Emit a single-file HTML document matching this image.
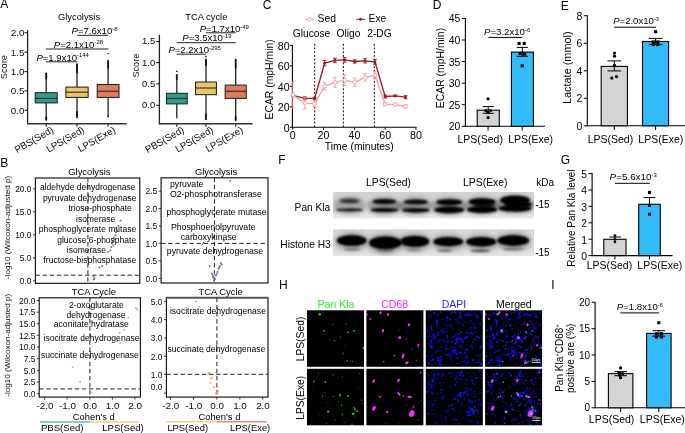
<!DOCTYPE html>
<html><head><meta charset="utf-8"><title>Figure</title>
<style>
html,body{margin:0;padding:0;background:#fff;}
svg{display:block;font-family:'Liberation Sans', sans-serif;}
</style></head>
<body>
<svg width="685" height="433" viewBox="0 0 685 433" font-family="'Liberation Sans', sans-serif">
<defs>
<filter id="b1" x="-20%" y="-50%" width="140%" height="200%"><feGaussianBlur stdDeviation="1.25"/></filter>
<filter id="b2" x="-20%" y="-50%" width="140%" height="200%"><feGaussianBlur stdDeviation="1.5"/></filter>
<filter id="b3" x="-20%" y="-50%" width="140%" height="200%"><feGaussianBlur stdDeviation="2.2"/></filter>
<filter id="d1" x="-50%" y="-50%" width="200%" height="200%"><feGaussianBlur stdDeviation="0.55"/></filter>
<filter id="d3" x="-50%" y="-50%" width="200%" height="200%"><feGaussianBlur stdDeviation="0.65"/></filter>
<filter id="d2" x="-50%" y="-50%" width="200%" height="200%"><feGaussianBlur stdDeviation="0.62"/></filter>
<linearGradient id="bg1" x1="0" y1="0" x2="0" y2="1"><stop offset="0" stop-color="#d2d2d2"/><stop offset="0.75" stop-color="#dcdcdc"/><stop offset="1" stop-color="#ececec"/></linearGradient>
<linearGradient id="bg2" x1="0" y1="0" x2="0" y2="1"><stop offset="0" stop-color="#d6d6d6"/><stop offset="0.8" stop-color="#dedede"/><stop offset="1" stop-color="#e6e6e6"/></linearGradient>
<clipPath id="c1"><rect x="332.8" y="191.9" width="201.4" height="26.9"/></clipPath>
<clipPath id="c2"><rect x="332.8" y="229.2" width="201.4" height="27.0"/></clipPath>
</defs>
<text x="0.20" y="8.40" font-size="12.0" text-anchor="start" fill="#000">A</text>
<text x="0.20" y="167.30" font-size="12.0" text-anchor="start" fill="#000">B</text>
<text x="262.70" y="8.70" font-size="12.0" text-anchor="start" fill="#000">C</text>
<text x="432.65" y="8.70" font-size="12.0" text-anchor="start" fill="#000">D</text>
<text x="560.85" y="9.70" font-size="12.0" text-anchor="start" fill="#000">E</text>
<text x="278.20" y="164.20" font-size="12.0" text-anchor="start" fill="#000">F</text>
<text x="560.65" y="164.20" font-size="12.0" text-anchor="start" fill="#000">G</text>
<text x="278.95" y="288.60" font-size="12.0" text-anchor="start" fill="#000">H</text>
<text x="551.15" y="288.70" font-size="12.0" text-anchor="start" fill="#000">I</text>
<text x="79.00" y="19.80" font-size="9.4" text-anchor="middle" fill="#000">Glycolysis</text>
<line x1="27.60" y1="30.00" x2="27.60" y2="124.20" stroke="#222" stroke-width="1.3"/>
<line x1="27.00" y1="123.70" x2="126.70" y2="123.70" stroke="#333" stroke-width="1.4"/>
<line x1="24.50" y1="32.70" x2="27.60" y2="32.70" stroke="#111" stroke-width="1.05"/>
<text x="24.40" y="36.10" font-size="9.8" text-anchor="end" fill="#0a0a0a">2.0</text>
<line x1="24.50" y1="52.20" x2="27.60" y2="52.20" stroke="#111" stroke-width="1.05"/>
<text x="24.40" y="55.60" font-size="9.8" text-anchor="end" fill="#0a0a0a">1.5</text>
<line x1="24.50" y1="71.60" x2="27.60" y2="71.60" stroke="#111" stroke-width="1.05"/>
<text x="24.40" y="75.00" font-size="9.8" text-anchor="end" fill="#0a0a0a">1.0</text>
<line x1="24.50" y1="90.90" x2="27.60" y2="90.90" stroke="#111" stroke-width="1.05"/>
<text x="24.40" y="94.30" font-size="9.8" text-anchor="end" fill="#0a0a0a">0.5</text>
<line x1="24.50" y1="110.30" x2="27.60" y2="110.30" stroke="#111" stroke-width="1.05"/>
<text x="24.40" y="113.70" font-size="9.8" text-anchor="end" fill="#0a0a0a">0.0</text>
<text x="7.40" y="67.20" font-size="9.2" text-anchor="middle" fill="#111" transform="rotate(-90 7.40 67.20)">Score</text>
<line x1="46.20" y1="123.70" x2="46.20" y2="126.70" stroke="#111" stroke-width="1.05"/>
<line x1="77.00" y1="123.70" x2="77.00" y2="126.70" stroke="#111" stroke-width="1.05"/>
<line x1="108.10" y1="123.70" x2="108.10" y2="126.70" stroke="#111" stroke-width="1.05"/>
<line x1="46.20" y1="78.50" x2="46.20" y2="92.70" stroke="#222" stroke-width="1.3"/>
<line x1="46.20" y1="102.90" x2="46.20" y2="117.30" stroke="#222" stroke-width="1.3"/>
<line x1="46.20" y1="73.40" x2="46.20" y2="78.50" stroke="#111" stroke-width="1.9" stroke-linecap="round"/>
<line x1="46.20" y1="117.30" x2="46.20" y2="119.80" stroke="#111" stroke-width="1.9" stroke-linecap="round"/>
<rect x="35.20" y="92.70" width="22.00" height="10.20" fill="#2a9d8f" stroke="#1a1a1a" stroke-width="1.0"/>
<line x1="35.20" y1="98.40" x2="57.20" y2="98.40" stroke="#1a1a1a" stroke-width="1.0"/>
<line x1="77.00" y1="72.50" x2="77.00" y2="87.10" stroke="#222" stroke-width="1.3"/>
<line x1="77.00" y1="97.40" x2="77.00" y2="112.00" stroke="#222" stroke-width="1.3"/>
<line x1="77.00" y1="64.20" x2="77.00" y2="72.50" stroke="#111" stroke-width="1.9" stroke-linecap="round"/>
<line x1="77.00" y1="112.00" x2="77.00" y2="117.20" stroke="#111" stroke-width="1.9" stroke-linecap="round"/>
<rect x="65.85" y="87.10" width="22.30" height="10.30" fill="#e9c46a" stroke="#1a1a1a" stroke-width="1.0"/>
<line x1="65.85" y1="92.20" x2="88.15" y2="92.20" stroke="#1a1a1a" stroke-width="1.0"/>
<line x1="108.10" y1="67.50" x2="108.10" y2="84.50" stroke="#222" stroke-width="1.3"/>
<line x1="108.10" y1="97.40" x2="108.10" y2="116.80" stroke="#222" stroke-width="1.3"/>
<line x1="108.10" y1="61.00" x2="108.10" y2="67.50" stroke="#111" stroke-width="1.9" stroke-linecap="round"/>
<circle cx="108.10" cy="53.50" r="0.8" fill="#111"/>
<circle cx="108.10" cy="116.60" r="0.8" fill="#111"/>
<rect x="97.20" y="84.50" width="21.80" height="12.90" fill="#e07a5f" stroke="#1a1a1a" stroke-width="1.0"/>
<line x1="97.20" y1="91.20" x2="119.00" y2="91.20" stroke="#1a1a1a" stroke-width="1.0"/>
<text x="71.60" y="33.80" font-size="9.55" fill="#000"><tspan font-style="italic">P</tspan>=7.6x10<tspan font-size="5.9" dy="-3.1">-8</tspan></text>
<line x1="77.30" y1="35.30" x2="108.30" y2="35.30" stroke="#222" stroke-width="1.0"/>
<text x="53.80" y="47.50" font-size="9.55" fill="#000"><tspan font-style="italic">P</tspan>=2.1x10<tspan font-size="5.9" dy="-3.1">-28</tspan></text>
<line x1="46.00" y1="49.00" x2="108.30" y2="49.00" stroke="#222" stroke-width="1.0"/>
<text x="36.40" y="60.50" font-size="9.55" fill="#000"><tspan font-style="italic">P</tspan>=1.9x10<tspan font-size="5.9" dy="-3.1">-144</tspan></text>
<line x1="46.00" y1="61.80" x2="77.30" y2="61.80" stroke="#222" stroke-width="1.0"/>
<text x="54.30" y="131.80" font-size="9.7" text-anchor="end" fill="#0a0a0a" transform="rotate(-30 54.30 131.80)">PBS(Sed)</text>
<text x="85.10" y="131.80" font-size="9.7" text-anchor="end" fill="#0a0a0a" transform="rotate(-30 85.10 131.80)">LPS(Sed)</text>
<text x="116.20" y="131.80" font-size="9.7" text-anchor="end" fill="#0a0a0a" transform="rotate(-30 116.20 131.80)">LPS(Exe)</text>
<text x="206.30" y="19.80" font-size="9.4" text-anchor="middle" fill="#000">TCA cycle</text>
<line x1="159.40" y1="34.80" x2="159.40" y2="124.20" stroke="#222" stroke-width="1.3"/>
<line x1="158.80" y1="123.70" x2="252.60" y2="123.70" stroke="#333" stroke-width="1.4"/>
<line x1="156.30" y1="41.50" x2="159.40" y2="41.50" stroke="#111" stroke-width="1.05"/>
<text x="155.20" y="44.40" font-size="9.5" text-anchor="end" fill="#0a0a0a">1.5</text>
<line x1="156.30" y1="62.60" x2="159.40" y2="62.60" stroke="#111" stroke-width="1.05"/>
<text x="155.20" y="65.50" font-size="9.5" text-anchor="end" fill="#0a0a0a">1.0</text>
<line x1="156.30" y1="83.90" x2="159.40" y2="83.90" stroke="#111" stroke-width="1.05"/>
<text x="155.20" y="86.80" font-size="9.5" text-anchor="end" fill="#0a0a0a">0.5</text>
<line x1="156.30" y1="105.30" x2="159.40" y2="105.30" stroke="#111" stroke-width="1.05"/>
<text x="155.20" y="108.20" font-size="9.5" text-anchor="end" fill="#0a0a0a">0.0</text>
<text x="139.20" y="65.60" font-size="9.2" text-anchor="middle" fill="#111" transform="rotate(-90 139.20 65.60)">Score</text>
<line x1="176.80" y1="123.70" x2="176.80" y2="126.70" stroke="#111" stroke-width="1.05"/>
<line x1="206.00" y1="123.70" x2="206.00" y2="126.70" stroke="#111" stroke-width="1.05"/>
<line x1="235.70" y1="123.70" x2="235.70" y2="126.70" stroke="#111" stroke-width="1.05"/>
<line x1="176.80" y1="79.00" x2="176.80" y2="93.30" stroke="#222" stroke-width="1.3"/>
<line x1="176.80" y1="103.90" x2="176.80" y2="118.20" stroke="#222" stroke-width="1.3"/>
<line x1="176.80" y1="75.00" x2="176.80" y2="79.00" stroke="#111" stroke-width="1.9" stroke-linecap="round"/>
<circle cx="176.80" cy="71.40" r="0.8" fill="#111"/>
<rect x="166.40" y="93.30" width="20.80" height="10.60" fill="#2a9d8f" stroke="#1a1a1a" stroke-width="1.0"/>
<line x1="166.40" y1="98.40" x2="187.20" y2="98.40" stroke="#1a1a1a" stroke-width="1.0"/>
<line x1="206.00" y1="65.00" x2="206.00" y2="82.00" stroke="#222" stroke-width="1.3"/>
<line x1="206.00" y1="94.70" x2="206.00" y2="114.50" stroke="#222" stroke-width="1.3"/>
<line x1="206.00" y1="59.50" x2="206.00" y2="65.00" stroke="#111" stroke-width="1.9" stroke-linecap="round"/>
<line x1="206.00" y1="114.50" x2="206.00" y2="119.30" stroke="#111" stroke-width="1.9" stroke-linecap="round"/>
<circle cx="206.00" cy="56.60" r="0.8" fill="#111"/>
<rect x="195.60" y="82.00" width="20.80" height="12.70" fill="#e9c46a" stroke="#1a1a1a" stroke-width="1.0"/>
<line x1="195.60" y1="88.00" x2="216.40" y2="88.00" stroke="#1a1a1a" stroke-width="1.0"/>
<line x1="235.70" y1="67.50" x2="235.70" y2="85.10" stroke="#222" stroke-width="1.3"/>
<line x1="235.70" y1="98.40" x2="235.70" y2="117.00" stroke="#222" stroke-width="1.3"/>
<line x1="235.70" y1="59.60" x2="235.70" y2="67.50" stroke="#111" stroke-width="1.9" stroke-linecap="round"/>
<line x1="235.70" y1="117.00" x2="235.70" y2="120.30" stroke="#111" stroke-width="1.9" stroke-linecap="round"/>
<rect x="225.15" y="85.10" width="21.10" height="13.30" fill="#e07a5f" stroke="#1a1a1a" stroke-width="1.0"/>
<line x1="225.15" y1="91.20" x2="246.25" y2="91.20" stroke="#1a1a1a" stroke-width="1.0"/>
<text x="199.70" y="31.80" font-size="9.55" fill="#000"><tspan font-style="italic">P</tspan>=1.7x10<tspan font-size="5.9" dy="-3.1">-49</tspan></text>
<line x1="206.00" y1="32.80" x2="235.70" y2="32.80" stroke="#222" stroke-width="1.0"/>
<text x="182.30" y="41.00" font-size="9.55" fill="#000"><tspan font-style="italic">P</tspan>=3.5x10<tspan font-size="5.9" dy="-3.1">-19</tspan></text>
<line x1="176.60" y1="42.70" x2="235.70" y2="42.70" stroke="#222" stroke-width="1.0"/>
<text x="168.40" y="52.60" font-size="9.55" fill="#000"><tspan font-style="italic">P</tspan>=2.2x10<tspan font-size="5.9" dy="-3.1">-295</tspan></text>
<line x1="176.60" y1="54.20" x2="206.00" y2="54.20" stroke="#222" stroke-width="1.0"/>
<text x="184.90" y="131.80" font-size="9.7" text-anchor="end" fill="#0a0a0a" transform="rotate(-30 184.90 131.80)">PBS(Sed)</text>
<text x="214.10" y="131.80" font-size="9.7" text-anchor="end" fill="#0a0a0a" transform="rotate(-30 214.10 131.80)">LPS(Sed)</text>
<text x="243.80" y="131.80" font-size="9.7" text-anchor="end" fill="#0a0a0a" transform="rotate(-30 243.80 131.80)">LPS(Exe)</text>
<text x="89.40" y="175.00" font-size="9.4" text-anchor="middle" fill="#000">Glycolysis</text>
<rect x="35.40" y="178.00" width="104.40" height="105.30" fill="none" stroke="#111" stroke-width="1.15"/>
<line x1="33.00" y1="188.80" x2="35.40" y2="188.80" stroke="#222" stroke-width="0.9"/>
<text x="31.50" y="192.10" font-size="8.4" text-anchor="end" fill="#0a0a0a">20.0</text>
<line x1="33.00" y1="211.80" x2="35.40" y2="211.80" stroke="#222" stroke-width="0.9"/>
<text x="31.50" y="215.10" font-size="8.4" text-anchor="end" fill="#0a0a0a">15.0</text>
<line x1="33.00" y1="234.80" x2="35.40" y2="234.80" stroke="#222" stroke-width="0.9"/>
<text x="31.50" y="238.10" font-size="8.4" text-anchor="end" fill="#0a0a0a">10.0</text>
<line x1="33.00" y1="257.80" x2="35.40" y2="257.80" stroke="#222" stroke-width="0.9"/>
<text x="31.50" y="261.10" font-size="8.4" text-anchor="end" fill="#0a0a0a">5.0</text>
<line x1="33.00" y1="280.70" x2="35.40" y2="280.70" stroke="#222" stroke-width="0.9"/>
<text x="31.50" y="284.00" font-size="8.4" text-anchor="end" fill="#0a0a0a">0.0</text>
<line x1="87.90" y1="178.00" x2="87.90" y2="283.30" stroke="#222" stroke-width="1.0" stroke-dasharray="4.4 2.7"/>
<line x1="35.40" y1="275.20" x2="139.80" y2="275.20" stroke="#222" stroke-width="1.0" stroke-dasharray="4.4 2.7"/>
<circle cx="93.60" cy="276.20" r="1.0" fill="#7d6ba6"/>
<circle cx="94.40" cy="278.20" r="1.0" fill="#7d6ba6"/>
<circle cx="93.90" cy="279.50" r="1.0" fill="#7d6ba6"/>
<circle cx="99.50" cy="267.40" r="1.0" fill="#7d6ba6"/>
<circle cx="102.20" cy="266.00" r="1.0" fill="#7d6ba6"/>
<circle cx="108.30" cy="252.10" r="1.0" fill="#7d6ba6"/>
<circle cx="110.40" cy="250.20" r="1.0" fill="#7d6ba6"/>
<circle cx="112.00" cy="243.50" r="1.0" fill="#7d6ba6"/>
<circle cx="113.40" cy="245.50" r="1.0" fill="#7d6ba6"/>
<circle cx="112.60" cy="241.60" r="1.0" fill="#7d6ba6"/>
<circle cx="114.50" cy="239.40" r="1.0" fill="#7d6ba6"/>
<circle cx="113.80" cy="237.60" r="1.0" fill="#7d6ba6"/>
<circle cx="115.50" cy="235.30" r="1.0" fill="#7d6ba6"/>
<circle cx="116.50" cy="228.20" r="1.0" fill="#7d6ba6"/>
<circle cx="117.20" cy="230.50" r="1.0" fill="#7d6ba6"/>
<circle cx="118.50" cy="226.10" r="1.0" fill="#7d6ba6"/>
<circle cx="120.60" cy="220.60" r="1.0" fill="#7d6ba6"/>
<circle cx="115.90" cy="232.40" r="1.0" fill="#7d6ba6"/>
<circle cx="111.30" cy="247.00" r="1.0" fill="#7d6ba6"/>
<circle cx="128.50" cy="197.50" r="1.0" fill="#7d6ba6"/>
<text x="39.90" y="190.10" font-size="8.5" text-anchor="start" fill="#000">aldehyde dehydrogenase</text>
<text x="42.90" y="200.60" font-size="8.5" text-anchor="start" fill="#000">pyruvate dehydrogenase</text>
<text x="68.50" y="211.30" font-size="8.5" text-anchor="start" fill="#000">triose-phosphate</text>
<text x="76.00" y="221.90" font-size="8.5" text-anchor="start" fill="#000">isomerase</text>
<text x="38.80" y="232.30" font-size="8.5" text-anchor="start" fill="#000">phosphoglycerate mutase</text>
<text x="57.20" y="243.20" font-size="8.5" text-anchor="start" fill="#000">glucose 6-phosphate</text>
<text x="66.80" y="253.40" font-size="8.5" text-anchor="start" fill="#000">isomerase</text>
<text x="43.50" y="263.30" font-size="8.5" text-anchor="start" fill="#000">fructose-bisphosphatase</text>
<text x="216.10" y="174.80" font-size="9.4" text-anchor="middle" fill="#000">Glycolysis</text>
<rect x="161.10" y="177.80" width="106.90" height="105.20" fill="none" stroke="#111" stroke-width="1.15"/>
<line x1="158.70" y1="191.10" x2="161.10" y2="191.10" stroke="#222" stroke-width="0.9"/>
<text x="157.20" y="194.40" font-size="8.4" text-anchor="end" fill="#0a0a0a">2.5</text>
<line x1="158.70" y1="208.60" x2="161.10" y2="208.60" stroke="#222" stroke-width="0.9"/>
<text x="157.20" y="211.90" font-size="8.4" text-anchor="end" fill="#0a0a0a">2.0</text>
<line x1="158.70" y1="226.00" x2="161.10" y2="226.00" stroke="#222" stroke-width="0.9"/>
<text x="157.20" y="229.30" font-size="8.4" text-anchor="end" fill="#0a0a0a">1.5</text>
<line x1="158.70" y1="243.40" x2="161.10" y2="243.40" stroke="#222" stroke-width="0.9"/>
<text x="157.20" y="246.70" font-size="8.4" text-anchor="end" fill="#0a0a0a">1.0</text>
<line x1="158.70" y1="260.90" x2="161.10" y2="260.90" stroke="#222" stroke-width="0.9"/>
<text x="157.20" y="264.20" font-size="8.4" text-anchor="end" fill="#0a0a0a">0.5</text>
<line x1="158.70" y1="278.40" x2="161.10" y2="278.40" stroke="#222" stroke-width="0.9"/>
<text x="157.20" y="281.70" font-size="8.4" text-anchor="end" fill="#0a0a0a">0.0</text>
<line x1="214.40" y1="177.80" x2="214.40" y2="283.00" stroke="#222" stroke-width="1.0" stroke-dasharray="4.4 2.7"/>
<line x1="161.10" y1="243.40" x2="268.00" y2="243.40" stroke="#222" stroke-width="1.0" stroke-dasharray="4.4 2.7"/>
<circle cx="230.10" cy="181.10" r="1.0" fill="#7d6ba6"/>
<circle cx="209.70" cy="266.00" r="1.0" fill="#7d6ba6"/>
<circle cx="211.80" cy="273.50" r="1.0" fill="#7d6ba6"/>
<circle cx="213.40" cy="276.20" r="1.0" fill="#7d6ba6"/>
<circle cx="214.40" cy="278.20" r="1.0" fill="#7d6ba6"/>
<circle cx="213.00" cy="277.50" r="1.0" fill="#7d6ba6"/>
<circle cx="215.00" cy="279.00" r="1.0" fill="#7d6ba6"/>
<circle cx="215.80" cy="275.60" r="1.0" fill="#7d6ba6"/>
<circle cx="216.60" cy="274.00" r="1.0" fill="#7d6ba6"/>
<circle cx="217.50" cy="272.10" r="1.0" fill="#7d6ba6"/>
<circle cx="218.50" cy="269.00" r="1.0" fill="#7d6ba6"/>
<circle cx="219.10" cy="267.50" r="1.0" fill="#7d6ba6"/>
<circle cx="219.90" cy="266.00" r="1.0" fill="#7d6ba6"/>
<circle cx="220.90" cy="263.30" r="1.0" fill="#7d6ba6"/>
<circle cx="222.40" cy="254.70" r="1.0" fill="#7d6ba6"/>
<circle cx="223.60" cy="240.40" r="1.0" fill="#7d6ba6"/>
<circle cx="214.00" cy="280.20" r="1.0" fill="#7d6ba6"/>
<circle cx="212.60" cy="275.00" r="1.0" fill="#7d6ba6"/>
<circle cx="221.60" cy="264.50" r="1.0" fill="#7d6ba6"/>
<text x="169.90" y="186.80" font-size="8.75" text-anchor="start" fill="#000">pyruvate</text>
<text x="169.90" y="197.00" font-size="8.75" text-anchor="start" fill="#000">O2-phosphotransferase</text>
<text x="166.40" y="215.40" font-size="8.75" text-anchor="start" fill="#000">phosphoglycerate mutase</text>
<text x="170.90" y="229.70" font-size="8.75" text-anchor="start" fill="#000">Phosphoenolpyruvate</text>
<text x="180.70" y="240.00" font-size="8.75" text-anchor="start" fill="#000">carboxykinase</text>
<text x="166.80" y="254.30" font-size="8.75" text-anchor="start" fill="#000">pyruvate dehydrogenase</text>
<line x1="201.50" y1="245.30" x2="204.30" y2="241.90" stroke="#222" stroke-width="0.9"/>
<text x="93.80" y="294.80" font-size="9.4" text-anchor="middle" fill="#000">TCA Cycle</text>
<rect x="39.20" y="297.80" width="101.20" height="99.30" fill="none" stroke="#111" stroke-width="1.15"/>
<line x1="36.80" y1="300.50" x2="39.20" y2="300.50" stroke="#222" stroke-width="0.9"/>
<text x="35.30" y="303.80" font-size="8.4" text-anchor="end" fill="#0a0a0a">20.0</text>
<line x1="36.80" y1="312.10" x2="39.20" y2="312.10" stroke="#222" stroke-width="0.9"/>
<text x="35.30" y="315.40" font-size="8.4" text-anchor="end" fill="#0a0a0a">17.5</text>
<line x1="36.80" y1="323.70" x2="39.20" y2="323.70" stroke="#222" stroke-width="0.9"/>
<text x="35.30" y="327.00" font-size="8.4" text-anchor="end" fill="#0a0a0a">15.0</text>
<line x1="36.80" y1="335.40" x2="39.20" y2="335.40" stroke="#222" stroke-width="0.9"/>
<text x="35.30" y="338.70" font-size="8.4" text-anchor="end" fill="#0a0a0a">12.5</text>
<line x1="36.80" y1="347.00" x2="39.20" y2="347.00" stroke="#222" stroke-width="0.9"/>
<text x="35.30" y="350.30" font-size="8.4" text-anchor="end" fill="#0a0a0a">10.0</text>
<line x1="36.80" y1="358.70" x2="39.20" y2="358.70" stroke="#222" stroke-width="0.9"/>
<text x="35.30" y="362.00" font-size="8.4" text-anchor="end" fill="#0a0a0a">7.5</text>
<line x1="36.80" y1="370.40" x2="39.20" y2="370.40" stroke="#222" stroke-width="0.9"/>
<text x="35.30" y="373.70" font-size="8.4" text-anchor="end" fill="#0a0a0a">5.0</text>
<line x1="36.80" y1="382.10" x2="39.20" y2="382.10" stroke="#222" stroke-width="0.9"/>
<text x="35.30" y="385.40" font-size="8.4" text-anchor="end" fill="#0a0a0a">2.5</text>
<line x1="36.80" y1="393.80" x2="39.20" y2="393.80" stroke="#222" stroke-width="0.9"/>
<text x="35.30" y="397.10" font-size="8.4" text-anchor="end" fill="#0a0a0a">0.0</text>
<line x1="89.90" y1="297.80" x2="89.90" y2="397.10" stroke="#222" stroke-width="1.0" stroke-dasharray="4.4 2.7"/>
<line x1="39.20" y1="388.90" x2="140.40" y2="388.90" stroke="#222" stroke-width="1.0" stroke-dasharray="4.4 2.7"/>
<circle cx="135.90" cy="308.00" r="1.0" fill="#e8a787"/>
<circle cx="137.30" cy="309.40" r="1.0" fill="#e8a787"/>
<circle cx="128.30" cy="317.60" r="1.0" fill="#e8a787"/>
<circle cx="124.10" cy="330.10" r="1.0" fill="#e8a787"/>
<circle cx="119.60" cy="332.90" r="1.0" fill="#e8a787"/>
<circle cx="116.90" cy="341.50" r="1.0" fill="#e8a787"/>
<circle cx="120.00" cy="342.70" r="1.0" fill="#e8a787"/>
<circle cx="72.60" cy="367.20" r="1.0" fill="#e8a787"/>
<circle cx="80.10" cy="381.80" r="1.0" fill="#e8a787"/>
<circle cx="83.40" cy="389.60" r="1.0" fill="#e8a787"/>
<circle cx="91.60" cy="392.60" r="1.0" fill="#e8a787"/>
<text x="68.90" y="307.90" font-size="8.6" text-anchor="start" fill="#000">2-oxoglutarate</text>
<text x="66.40" y="318.20" font-size="8.6" text-anchor="start" fill="#000">dehydrogenase</text>
<text x="53.80" y="326.90" font-size="8.6" text-anchor="start" fill="#000">aconitate hydratase</text>
<text x="43.50" y="340.80" font-size="8.6" text-anchor="start" fill="#000">isocitrate dehydrogenase</text>
<text x="40.90" y="357.70" font-size="8.6" text-anchor="start" fill="#000">succinate dehydrogenase</text>
<text x="220.60" y="294.80" font-size="9.4" text-anchor="middle" fill="#000">TCA Cycle</text>
<rect x="166.40" y="297.80" width="101.60" height="99.30" fill="none" stroke="#111" stroke-width="1.15"/>
<line x1="166.40" y1="297.60" x2="268.00" y2="297.60" stroke="#555" stroke-width="1.8"/>
<line x1="164.00" y1="301.30" x2="166.40" y2="301.30" stroke="#222" stroke-width="0.9"/>
<text x="162.50" y="304.60" font-size="8.4" text-anchor="end" fill="#0a0a0a">5.0</text>
<line x1="164.00" y1="319.60" x2="166.40" y2="319.60" stroke="#222" stroke-width="0.9"/>
<text x="162.50" y="322.90" font-size="8.4" text-anchor="end" fill="#0a0a0a">4.0</text>
<line x1="164.00" y1="338.00" x2="166.40" y2="338.00" stroke="#222" stroke-width="0.9"/>
<text x="162.50" y="341.30" font-size="8.4" text-anchor="end" fill="#0a0a0a">3.0</text>
<line x1="164.00" y1="356.20" x2="166.40" y2="356.20" stroke="#222" stroke-width="0.9"/>
<text x="162.50" y="359.50" font-size="8.4" text-anchor="end" fill="#0a0a0a">2.0</text>
<line x1="164.00" y1="374.30" x2="166.40" y2="374.30" stroke="#222" stroke-width="0.9"/>
<text x="162.50" y="377.60" font-size="8.4" text-anchor="end" fill="#0a0a0a">1.0</text>
<line x1="164.00" y1="393.00" x2="166.40" y2="393.00" stroke="#222" stroke-width="0.9"/>
<text x="162.50" y="389.90" font-size="8.4" text-anchor="end" fill="#0a0a0a">0.0</text>
<line x1="216.90" y1="297.80" x2="216.90" y2="397.10" stroke="#222" stroke-width="1.0" stroke-dasharray="4.4 2.7"/>
<line x1="166.40" y1="374.30" x2="268.00" y2="374.30" stroke="#222" stroke-width="1.0" stroke-dasharray="4.4 2.7"/>
<circle cx="196.00" cy="301.60" r="1.0" fill="#e8a787"/>
<circle cx="199.10" cy="306.80" r="1.0" fill="#e8a787"/>
<circle cx="203.00" cy="351.70" r="1.0" fill="#e8a787"/>
<circle cx="208.30" cy="373.60" r="1.0" fill="#e8a787"/>
<circle cx="209.30" cy="373.00" r="1.0" fill="#e8a787"/>
<circle cx="211.10" cy="378.70" r="1.0" fill="#e8a787"/>
<circle cx="210.30" cy="382.80" r="1.0" fill="#e8a787"/>
<circle cx="213.80" cy="387.30" r="1.0" fill="#e8a787"/>
<circle cx="216.90" cy="392.40" r="1.0" fill="#e8a787"/>
<circle cx="218.50" cy="391.60" r="1.0" fill="#e8a787"/>
<circle cx="215.80" cy="393.40" r="1.0" fill="#e8a787"/>
<circle cx="211.80" cy="377.50" r="1.0" fill="#e8a787"/>
<text x="169.90" y="313.50" font-size="8.6" text-anchor="start" fill="#000">isocitrate dehydrogenase</text>
<text x="167.40" y="351.50" font-size="8.6" text-anchor="start" fill="#000">succinate dehydrogenase</text>
<line x1="44.60" y1="397.10" x2="44.60" y2="399.60" stroke="#222" stroke-width="0.9"/>
<text x="44.90" y="408.60" font-size="9.9" text-anchor="middle" fill="#0a0a0a">-2.0</text>
<line x1="67.10" y1="397.10" x2="67.10" y2="399.60" stroke="#222" stroke-width="0.9"/>
<text x="67.40" y="408.60" font-size="9.9" text-anchor="middle" fill="#0a0a0a">-1.0</text>
<line x1="89.90" y1="397.10" x2="89.90" y2="399.60" stroke="#222" stroke-width="0.9"/>
<text x="90.10" y="408.60" font-size="9.9" text-anchor="middle" fill="#0a0a0a">0.0</text>
<line x1="112.40" y1="397.10" x2="112.40" y2="399.60" stroke="#222" stroke-width="0.9"/>
<text x="112.60" y="408.60" font-size="9.9" text-anchor="middle" fill="#0a0a0a">1.0</text>
<line x1="134.90" y1="397.10" x2="134.90" y2="399.60" stroke="#222" stroke-width="0.9"/>
<text x="135.10" y="408.60" font-size="9.9" text-anchor="middle" fill="#0a0a0a">2.0</text>
<line x1="170.50" y1="397.10" x2="170.50" y2="399.60" stroke="#222" stroke-width="0.9"/>
<text x="170.80" y="408.60" font-size="9.9" text-anchor="middle" fill="#0a0a0a">-2.0</text>
<line x1="193.50" y1="397.10" x2="193.50" y2="399.60" stroke="#222" stroke-width="0.9"/>
<text x="193.80" y="408.60" font-size="9.9" text-anchor="middle" fill="#0a0a0a">-1.0</text>
<line x1="216.90" y1="397.10" x2="216.90" y2="399.60" stroke="#222" stroke-width="0.9"/>
<text x="217.10" y="408.60" font-size="9.9" text-anchor="middle" fill="#0a0a0a">0.0</text>
<line x1="239.80" y1="397.10" x2="239.80" y2="399.60" stroke="#222" stroke-width="0.9"/>
<text x="240.00" y="408.60" font-size="9.9" text-anchor="middle" fill="#0a0a0a">1.0</text>
<line x1="262.80" y1="397.10" x2="262.80" y2="399.60" stroke="#222" stroke-width="0.9"/>
<text x="263.00" y="408.60" font-size="9.9" text-anchor="middle" fill="#0a0a0a">2.0</text>
<text x="93.80" y="419.60" font-size="9.4" text-anchor="middle" fill="#000">Cohen's d</text>
<text x="219.40" y="419.60" font-size="9.4" text-anchor="middle" fill="#000">Cohen's d</text>
<line x1="39.90" y1="422.00" x2="89.90" y2="422.00" stroke="#5fbfb0" stroke-width="1.5"/>
<line x1="89.90" y1="422.00" x2="139.00" y2="422.00" stroke="#efd18e" stroke-width="1.5"/>
<line x1="166.40" y1="421.80" x2="216.90" y2="421.80" stroke="#efd18e" stroke-width="1.5"/>
<line x1="216.90" y1="421.80" x2="266.90" y2="421.80" stroke="#e58a73" stroke-width="1.5"/>
<text x="40.90" y="430.90" font-size="9.6" text-anchor="start" fill="#000">PBS(Sed)</text>
<text x="102.20" y="430.90" font-size="9.6" text-anchor="start" fill="#000">LPS(Sed)</text>
<text x="167.40" y="430.90" font-size="9.4" text-anchor="start" fill="#000">LPS(Sed)</text>
<text x="230.10" y="430.90" font-size="9.4" text-anchor="start" fill="#000">LPS(Exe)</text>
<text x="10.40" y="227.40" font-size="8.1" text-anchor="middle" fill="#111" transform="rotate(-90 10.40 227.40)">-log10 (Wilcoxon-adjusted p)</text>
<text x="10.40" y="345.20" font-size="8.1" text-anchor="middle" fill="#111" transform="rotate(-90 10.40 345.20)">-log10 (Wilcoxon-adjusted p)</text>
<line x1="305.30" y1="19.30" x2="314.00" y2="19.30" stroke="#f59ea4" stroke-width="1.0"/>
<circle cx="309.7" cy="19.3" r="1.9" fill="#fff" stroke="#f59ea4" stroke-width="0.9"/>
<text x="317.60" y="22.40" font-size="10.3" text-anchor="start" fill="#000">Sed</text>
<line x1="356.30" y1="19.30" x2="365.10" y2="19.30" stroke="#9c1c1c" stroke-width="1.0"/>
<circle cx="360.60" cy="19.30" r="1.5" fill="#9c1c1c"/>
<text x="368.60" y="22.40" font-size="10.3" text-anchor="start" fill="#000">Exe</text>
<text x="292.70" y="37.40" font-size="10.25" text-anchor="start" fill="#000">Glucose</text>
<text x="336.50" y="37.40" font-size="10.25" text-anchor="start" fill="#000">Oligo</text>
<text x="367.20" y="37.40" font-size="10.25" text-anchor="start" fill="#000">2-DG</text>
<line x1="292.40" y1="45.00" x2="292.40" y2="127.80" stroke="#000" stroke-width="1.1"/>
<line x1="291.90" y1="127.30" x2="416.50" y2="127.30" stroke="#000" stroke-width="1.1"/>
<line x1="289.90" y1="45.40" x2="292.40" y2="45.40" stroke="#000" stroke-width="1.0"/>
<text x="289.60" y="49.60" font-size="10.6" text-anchor="end" fill="#000">80</text>
<line x1="289.90" y1="65.80" x2="292.40" y2="65.80" stroke="#000" stroke-width="1.0"/>
<text x="289.60" y="70.00" font-size="10.6" text-anchor="end" fill="#000">60</text>
<line x1="289.90" y1="86.30" x2="292.40" y2="86.30" stroke="#000" stroke-width="1.0"/>
<text x="289.60" y="90.50" font-size="10.6" text-anchor="end" fill="#000">40</text>
<line x1="289.90" y1="106.90" x2="292.40" y2="106.90" stroke="#000" stroke-width="1.0"/>
<text x="289.60" y="111.10" font-size="10.6" text-anchor="end" fill="#000">20</text>
<line x1="289.90" y1="127.30" x2="292.40" y2="127.30" stroke="#000" stroke-width="1.0"/>
<text x="289.60" y="131.50" font-size="10.6" text-anchor="end" fill="#000">0</text>
<line x1="292.80" y1="127.30" x2="292.80" y2="129.70" stroke="#000" stroke-width="1.0"/>
<text x="292.80" y="139.40" font-size="10.6" text-anchor="middle" fill="#000">0</text>
<line x1="323.50" y1="127.30" x2="323.50" y2="129.70" stroke="#000" stroke-width="1.0"/>
<text x="323.50" y="139.40" font-size="10.6" text-anchor="middle" fill="#000">20</text>
<line x1="354.50" y1="127.30" x2="354.50" y2="129.70" stroke="#000" stroke-width="1.0"/>
<text x="354.50" y="139.40" font-size="10.6" text-anchor="middle" fill="#000">40</text>
<line x1="385.20" y1="127.30" x2="385.20" y2="129.70" stroke="#000" stroke-width="1.0"/>
<text x="385.20" y="139.40" font-size="10.6" text-anchor="middle" fill="#000">60</text>
<line x1="416.00" y1="127.30" x2="416.00" y2="129.70" stroke="#000" stroke-width="1.0"/>
<text x="416.00" y="139.40" font-size="10.6" text-anchor="middle" fill="#000">80</text>
<text x="359.30" y="149.80" font-size="10.4" text-anchor="middle" fill="#000">Time (minutes)</text>
<text x="273.20" y="79.40" font-size="10.4" text-anchor="middle" fill="#000" transform="rotate(-90 273.20 79.40)">ECAR (mpH/min)</text>
<line x1="314.70" y1="43.80" x2="314.70" y2="127.30" stroke="#111" stroke-width="1.0" stroke-dasharray="2 1.7"/>
<line x1="343.40" y1="43.80" x2="343.40" y2="127.30" stroke="#111" stroke-width="1.0" stroke-dasharray="2 1.7"/>
<line x1="374.30" y1="43.80" x2="374.30" y2="127.30" stroke="#111" stroke-width="1.0" stroke-dasharray="2 1.7"/>
<path d="M292.8 95.4 L304.9 98.3 L314.7 98.3 L324.6 63.2 L334.9 60.4 L344.7 59.9 L354.8 61.5 L365.1 60.8 L375.0 61.9 L385.2 96.5 L395.3 95.9 L405.6 97.2" fill="none" stroke="#9c1c1c" stroke-width="1.35" stroke-linejoin="round"/>
<line x1="292.80" y1="94.40" x2="292.80" y2="96.40" stroke="#9c1c1c" stroke-width="0.9"/>
<line x1="290.90" y1="94.40" x2="294.70" y2="94.40" stroke="#9c1c1c" stroke-width="0.9"/>
<line x1="290.90" y1="96.40" x2="294.70" y2="96.40" stroke="#9c1c1c" stroke-width="0.9"/>
<circle cx="292.80" cy="95.40" r="1.4" fill="#9c1c1c"/>
<line x1="304.90" y1="96.80" x2="304.90" y2="99.80" stroke="#9c1c1c" stroke-width="0.9"/>
<line x1="303.00" y1="96.80" x2="306.80" y2="96.80" stroke="#9c1c1c" stroke-width="0.9"/>
<line x1="303.00" y1="99.80" x2="306.80" y2="99.80" stroke="#9c1c1c" stroke-width="0.9"/>
<circle cx="304.90" cy="98.30" r="1.4" fill="#9c1c1c"/>
<line x1="314.70" y1="97.30" x2="314.70" y2="99.30" stroke="#9c1c1c" stroke-width="0.9"/>
<line x1="312.80" y1="97.30" x2="316.60" y2="97.30" stroke="#9c1c1c" stroke-width="0.9"/>
<line x1="312.80" y1="99.30" x2="316.60" y2="99.30" stroke="#9c1c1c" stroke-width="0.9"/>
<circle cx="314.70" cy="98.30" r="1.4" fill="#9c1c1c"/>
<line x1="324.60" y1="60.60" x2="324.60" y2="65.80" stroke="#9c1c1c" stroke-width="0.9"/>
<line x1="322.70" y1="60.60" x2="326.50" y2="60.60" stroke="#9c1c1c" stroke-width="0.9"/>
<line x1="322.70" y1="65.80" x2="326.50" y2="65.80" stroke="#9c1c1c" stroke-width="0.9"/>
<circle cx="324.60" cy="63.20" r="1.4" fill="#9c1c1c"/>
<line x1="334.90" y1="58.20" x2="334.90" y2="62.60" stroke="#9c1c1c" stroke-width="0.9"/>
<line x1="333.00" y1="58.20" x2="336.80" y2="58.20" stroke="#9c1c1c" stroke-width="0.9"/>
<line x1="333.00" y1="62.60" x2="336.80" y2="62.60" stroke="#9c1c1c" stroke-width="0.9"/>
<circle cx="334.90" cy="60.40" r="1.4" fill="#9c1c1c"/>
<line x1="344.70" y1="57.70" x2="344.70" y2="62.10" stroke="#9c1c1c" stroke-width="0.9"/>
<line x1="342.80" y1="57.70" x2="346.60" y2="57.70" stroke="#9c1c1c" stroke-width="0.9"/>
<line x1="342.80" y1="62.10" x2="346.60" y2="62.10" stroke="#9c1c1c" stroke-width="0.9"/>
<circle cx="344.70" cy="59.90" r="1.4" fill="#9c1c1c"/>
<line x1="354.80" y1="59.90" x2="354.80" y2="63.10" stroke="#9c1c1c" stroke-width="0.9"/>
<line x1="352.90" y1="59.90" x2="356.70" y2="59.90" stroke="#9c1c1c" stroke-width="0.9"/>
<line x1="352.90" y1="63.10" x2="356.70" y2="63.10" stroke="#9c1c1c" stroke-width="0.9"/>
<circle cx="354.80" cy="61.50" r="1.4" fill="#9c1c1c"/>
<line x1="365.10" y1="58.60" x2="365.10" y2="63.00" stroke="#9c1c1c" stroke-width="0.9"/>
<line x1="363.20" y1="58.60" x2="367.00" y2="58.60" stroke="#9c1c1c" stroke-width="0.9"/>
<line x1="363.20" y1="63.00" x2="367.00" y2="63.00" stroke="#9c1c1c" stroke-width="0.9"/>
<circle cx="365.10" cy="60.80" r="1.4" fill="#9c1c1c"/>
<line x1="375.00" y1="59.50" x2="375.00" y2="64.30" stroke="#9c1c1c" stroke-width="0.9"/>
<line x1="373.10" y1="59.50" x2="376.90" y2="59.50" stroke="#9c1c1c" stroke-width="0.9"/>
<line x1="373.10" y1="64.30" x2="376.90" y2="64.30" stroke="#9c1c1c" stroke-width="0.9"/>
<circle cx="375.00" cy="61.90" r="1.4" fill="#9c1c1c"/>
<line x1="385.20" y1="95.00" x2="385.20" y2="98.00" stroke="#9c1c1c" stroke-width="0.9"/>
<line x1="383.30" y1="95.00" x2="387.10" y2="95.00" stroke="#9c1c1c" stroke-width="0.9"/>
<line x1="383.30" y1="98.00" x2="387.10" y2="98.00" stroke="#9c1c1c" stroke-width="0.9"/>
<circle cx="385.20" cy="96.50" r="1.4" fill="#9c1c1c"/>
<line x1="395.30" y1="95.10" x2="395.30" y2="96.70" stroke="#9c1c1c" stroke-width="0.9"/>
<line x1="393.40" y1="95.10" x2="397.20" y2="95.10" stroke="#9c1c1c" stroke-width="0.9"/>
<line x1="393.40" y1="96.70" x2="397.20" y2="96.70" stroke="#9c1c1c" stroke-width="0.9"/>
<circle cx="395.30" cy="95.90" r="1.4" fill="#9c1c1c"/>
<line x1="405.60" y1="95.60" x2="405.60" y2="98.80" stroke="#9c1c1c" stroke-width="0.9"/>
<line x1="403.70" y1="95.60" x2="407.50" y2="95.60" stroke="#9c1c1c" stroke-width="0.9"/>
<line x1="403.70" y1="98.80" x2="407.50" y2="98.80" stroke="#9c1c1c" stroke-width="0.9"/>
<circle cx="405.60" cy="97.20" r="1.4" fill="#9c1c1c"/>
<path d="M292.8 95.0 L304.9 103.1 L314.7 103.7 L324.6 86.2 L334.9 82.3 L344.7 80.1 L354.8 82.3 L365.1 77.5 L375.0 75.3 L385.2 104.2 L395.3 104.6 L405.6 106.4" fill="none" stroke="#f59ea4" stroke-width="1.35" stroke-linejoin="round"/>
<line x1="292.80" y1="82.00" x2="292.80" y2="108.00" stroke="#f59ea4" stroke-width="0.9"/>
<line x1="290.90" y1="82.00" x2="294.70" y2="82.00" stroke="#f59ea4" stroke-width="0.9"/>
<line x1="290.90" y1="108.00" x2="294.70" y2="108.00" stroke="#f59ea4" stroke-width="0.9"/>
<circle cx="292.8" cy="95.0" r="1.8" fill="#fff" stroke="#f59ea4" stroke-width="0.9"/>
<line x1="304.90" y1="97.60" x2="304.90" y2="108.60" stroke="#f59ea4" stroke-width="0.9"/>
<line x1="303.00" y1="97.60" x2="306.80" y2="97.60" stroke="#f59ea4" stroke-width="0.9"/>
<line x1="303.00" y1="108.60" x2="306.80" y2="108.60" stroke="#f59ea4" stroke-width="0.9"/>
<circle cx="304.9" cy="103.1" r="1.8" fill="#fff" stroke="#f59ea4" stroke-width="0.9"/>
<line x1="314.70" y1="100.70" x2="314.70" y2="106.70" stroke="#f59ea4" stroke-width="0.9"/>
<line x1="312.80" y1="100.70" x2="316.60" y2="100.70" stroke="#f59ea4" stroke-width="0.9"/>
<line x1="312.80" y1="106.70" x2="316.60" y2="106.70" stroke="#f59ea4" stroke-width="0.9"/>
<circle cx="314.7" cy="103.7" r="1.8" fill="#fff" stroke="#f59ea4" stroke-width="0.9"/>
<line x1="324.60" y1="82.40" x2="324.60" y2="90.00" stroke="#f59ea4" stroke-width="0.9"/>
<line x1="322.70" y1="82.40" x2="326.50" y2="82.40" stroke="#f59ea4" stroke-width="0.9"/>
<line x1="322.70" y1="90.00" x2="326.50" y2="90.00" stroke="#f59ea4" stroke-width="0.9"/>
<circle cx="324.6" cy="86.2" r="1.8" fill="#fff" stroke="#f59ea4" stroke-width="0.9"/>
<line x1="334.90" y1="77.30" x2="334.90" y2="87.30" stroke="#f59ea4" stroke-width="0.9"/>
<line x1="333.00" y1="77.30" x2="336.80" y2="77.30" stroke="#f59ea4" stroke-width="0.9"/>
<line x1="333.00" y1="87.30" x2="336.80" y2="87.30" stroke="#f59ea4" stroke-width="0.9"/>
<circle cx="334.9" cy="82.3" r="1.8" fill="#fff" stroke="#f59ea4" stroke-width="0.9"/>
<line x1="344.70" y1="74.60" x2="344.70" y2="85.60" stroke="#f59ea4" stroke-width="0.9"/>
<line x1="342.80" y1="74.60" x2="346.60" y2="74.60" stroke="#f59ea4" stroke-width="0.9"/>
<line x1="342.80" y1="85.60" x2="346.60" y2="85.60" stroke="#f59ea4" stroke-width="0.9"/>
<circle cx="344.7" cy="80.1" r="1.8" fill="#fff" stroke="#f59ea4" stroke-width="0.9"/>
<line x1="354.80" y1="78.30" x2="354.80" y2="86.30" stroke="#f59ea4" stroke-width="0.9"/>
<line x1="352.90" y1="78.30" x2="356.70" y2="78.30" stroke="#f59ea4" stroke-width="0.9"/>
<line x1="352.90" y1="86.30" x2="356.70" y2="86.30" stroke="#f59ea4" stroke-width="0.9"/>
<circle cx="354.8" cy="82.3" r="1.8" fill="#fff" stroke="#f59ea4" stroke-width="0.9"/>
<line x1="365.10" y1="73.90" x2="365.10" y2="81.10" stroke="#f59ea4" stroke-width="0.9"/>
<line x1="363.20" y1="73.90" x2="367.00" y2="73.90" stroke="#f59ea4" stroke-width="0.9"/>
<line x1="363.20" y1="81.10" x2="367.00" y2="81.10" stroke="#f59ea4" stroke-width="0.9"/>
<circle cx="365.1" cy="77.5" r="1.8" fill="#fff" stroke="#f59ea4" stroke-width="0.9"/>
<line x1="375.00" y1="71.70" x2="375.00" y2="78.90" stroke="#f59ea4" stroke-width="0.9"/>
<line x1="373.10" y1="71.70" x2="376.90" y2="71.70" stroke="#f59ea4" stroke-width="0.9"/>
<line x1="373.10" y1="78.90" x2="376.90" y2="78.90" stroke="#f59ea4" stroke-width="0.9"/>
<circle cx="375.0" cy="75.3" r="1.8" fill="#fff" stroke="#f59ea4" stroke-width="0.9"/>
<line x1="385.20" y1="102.70" x2="385.20" y2="105.70" stroke="#f59ea4" stroke-width="0.9"/>
<line x1="383.30" y1="102.70" x2="387.10" y2="102.70" stroke="#f59ea4" stroke-width="0.9"/>
<line x1="383.30" y1="105.70" x2="387.10" y2="105.70" stroke="#f59ea4" stroke-width="0.9"/>
<circle cx="385.2" cy="104.2" r="1.8" fill="#fff" stroke="#f59ea4" stroke-width="0.9"/>
<line x1="395.30" y1="103.10" x2="395.30" y2="106.10" stroke="#f59ea4" stroke-width="0.9"/>
<line x1="393.40" y1="103.10" x2="397.20" y2="103.10" stroke="#f59ea4" stroke-width="0.9"/>
<line x1="393.40" y1="106.10" x2="397.20" y2="106.10" stroke="#f59ea4" stroke-width="0.9"/>
<circle cx="395.3" cy="104.6" r="1.8" fill="#fff" stroke="#f59ea4" stroke-width="0.9"/>
<line x1="405.60" y1="104.60" x2="405.60" y2="108.20" stroke="#f59ea4" stroke-width="0.9"/>
<line x1="403.70" y1="104.60" x2="407.50" y2="104.60" stroke="#f59ea4" stroke-width="0.9"/>
<line x1="403.70" y1="108.20" x2="407.50" y2="108.20" stroke="#f59ea4" stroke-width="0.9"/>
<circle cx="405.6" cy="106.4" r="1.8" fill="#fff" stroke="#f59ea4" stroke-width="0.9"/>
<line x1="465.40" y1="17.90" x2="465.40" y2="126.80" stroke="#000" stroke-width="1.1"/>
<line x1="464.90" y1="126.30" x2="545.10" y2="126.30" stroke="#000" stroke-width="1.1"/>
<line x1="461.80" y1="18.40" x2="465.40" y2="18.40" stroke="#000" stroke-width="1.0"/>
<text x="460.40" y="22.40" font-size="10.4" text-anchor="end" fill="#000">45</text>
<line x1="461.80" y1="40.00" x2="465.40" y2="40.00" stroke="#000" stroke-width="1.0"/>
<text x="460.40" y="44.00" font-size="10.4" text-anchor="end" fill="#000">40</text>
<line x1="461.80" y1="61.60" x2="465.40" y2="61.60" stroke="#000" stroke-width="1.0"/>
<text x="460.40" y="65.60" font-size="10.4" text-anchor="end" fill="#000">35</text>
<line x1="461.80" y1="83.20" x2="465.40" y2="83.20" stroke="#000" stroke-width="1.0"/>
<text x="460.40" y="87.20" font-size="10.4" text-anchor="end" fill="#000">30</text>
<line x1="461.80" y1="104.70" x2="465.40" y2="104.70" stroke="#000" stroke-width="1.0"/>
<text x="460.40" y="108.70" font-size="10.4" text-anchor="end" fill="#000">25</text>
<line x1="461.80" y1="126.30" x2="465.40" y2="126.30" stroke="#000" stroke-width="1.0"/>
<text x="460.40" y="130.30" font-size="10.4" text-anchor="end" fill="#000">20</text>
<text x="444.20" y="68.00" font-size="10.4" text-anchor="middle" fill="#000" transform="rotate(-90 444.20 68.00)">ECAR (mpH/min)</text>
<rect x="477.20" y="110.20" width="22.10" height="16.10" fill="#d4d4d4" stroke="#000" stroke-width="1.1"/>
<rect x="511.40" y="52.10" width="22.00" height="74.20" fill="#33bbf7" stroke="#000" stroke-width="1.1"/>
<line x1="488.20" y1="106.60" x2="488.20" y2="113.30" stroke="#000" stroke-width="1.0"/>
<line x1="482.60" y1="106.60" x2="493.80" y2="106.60" stroke="#000" stroke-width="1.0"/>
<line x1="482.60" y1="113.30" x2="493.80" y2="113.30" stroke="#000" stroke-width="1.0"/>
<line x1="522.30" y1="47.40" x2="522.30" y2="56.30" stroke="#000" stroke-width="1.0"/>
<line x1="516.70" y1="47.40" x2="527.90" y2="47.40" stroke="#000" stroke-width="1.0"/>
<line x1="516.70" y1="56.30" x2="527.90" y2="56.30" stroke="#000" stroke-width="1.0"/>
<circle cx="488.10" cy="98.80" r="1.6" fill="#000"/>
<circle cx="485.80" cy="110.60" r="1.6" fill="#000"/>
<circle cx="490.50" cy="110.60" r="1.6" fill="#000"/>
<circle cx="488.10" cy="112.30" r="1.6" fill="#000"/>
<circle cx="488.10" cy="117.60" r="1.6" fill="#000"/>
<rect x="517.55" y="41.95" width="3.10" height="3.10" fill="#000" stroke="none" stroke-width="1"/>
<rect x="522.65" y="41.95" width="3.10" height="3.10" fill="#000" stroke="none" stroke-width="1"/>
<rect x="518.55" y="51.95" width="3.10" height="3.10" fill="#000" stroke="none" stroke-width="1"/>
<rect x="523.05" y="52.65" width="3.10" height="3.10" fill="#000" stroke="none" stroke-width="1"/>
<rect x="520.65" y="64.25" width="3.10" height="3.10" fill="#000" stroke="none" stroke-width="1"/>
<text x="484.00" y="34.80" font-size="9.65" fill="#000"><tspan font-style="italic">P</tspan>=3.2x10<tspan font-size="5.8" dy="-3.1">-6</tspan></text>
<line x1="488.50" y1="37.40" x2="522.20" y2="37.40" stroke="#000" stroke-width="1.0"/>
<line x1="488.10" y1="126.30" x2="488.10" y2="130.50" stroke="#000" stroke-width="1.0"/>
<line x1="522.20" y1="126.30" x2="522.20" y2="130.50" stroke="#000" stroke-width="1.0"/>
<text x="480.20" y="142.50" font-size="10.5" text-anchor="middle" fill="#000">LPS(Sed)</text>
<text x="530.60" y="142.50" font-size="10.5" text-anchor="middle" fill="#000">LPS(Exe)</text>
<line x1="587.30" y1="15.20" x2="587.30" y2="126.30" stroke="#000" stroke-width="1.1"/>
<line x1="586.80" y1="125.80" x2="685.00" y2="125.80" stroke="#000" stroke-width="1.1"/>
<line x1="583.70" y1="15.70" x2="587.30" y2="15.70" stroke="#000" stroke-width="1.0"/>
<text x="582.30" y="19.70" font-size="10.4" text-anchor="end" fill="#000">8</text>
<line x1="583.70" y1="43.30" x2="587.30" y2="43.30" stroke="#000" stroke-width="1.0"/>
<text x="582.30" y="47.30" font-size="10.4" text-anchor="end" fill="#000">6</text>
<line x1="583.70" y1="70.80" x2="587.30" y2="70.80" stroke="#000" stroke-width="1.0"/>
<text x="582.30" y="74.80" font-size="10.4" text-anchor="end" fill="#000">4</text>
<line x1="583.70" y1="98.30" x2="587.30" y2="98.30" stroke="#000" stroke-width="1.0"/>
<text x="582.30" y="102.30" font-size="10.4" text-anchor="end" fill="#000">2</text>
<line x1="583.70" y1="125.80" x2="587.30" y2="125.80" stroke="#000" stroke-width="1.0"/>
<text x="582.30" y="129.80" font-size="10.4" text-anchor="end" fill="#000">0</text>
<text x="570.60" y="67.70" font-size="10.9" text-anchor="middle" fill="#000" transform="rotate(-90 570.60 67.70)">Lactate (mmol)</text>
<rect x="601.20" y="66.40" width="26.20" height="59.40" fill="#d4d4d4" stroke="#000" stroke-width="1.1"/>
<rect x="642.50" y="41.50" width="26.10" height="84.30" fill="#33bbf7" stroke="#000" stroke-width="1.1"/>
<line x1="614.30" y1="60.90" x2="614.30" y2="70.90" stroke="#000" stroke-width="1.0"/>
<line x1="607.50" y1="60.90" x2="621.10" y2="60.90" stroke="#000" stroke-width="1.0"/>
<line x1="607.50" y1="70.90" x2="621.10" y2="70.90" stroke="#000" stroke-width="1.0"/>
<line x1="655.60" y1="38.40" x2="655.60" y2="44.60" stroke="#000" stroke-width="1.0"/>
<line x1="648.80" y1="38.40" x2="662.40" y2="38.40" stroke="#000" stroke-width="1.0"/>
<line x1="648.80" y1="44.60" x2="662.40" y2="44.60" stroke="#000" stroke-width="1.0"/>
<circle cx="614.50" cy="53.10" r="1.6" fill="#000"/>
<circle cx="614.50" cy="56.20" r="1.6" fill="#000"/>
<circle cx="614.50" cy="65.40" r="1.6" fill="#000"/>
<circle cx="616.50" cy="76.60" r="1.6" fill="#000"/>
<circle cx="611.80" cy="78.10" r="1.6" fill="#000"/>
<rect x="654.05" y="30.15" width="3.10" height="3.10" fill="#000" stroke="none" stroke-width="1"/>
<rect x="651.75" y="40.35" width="3.10" height="3.10" fill="#000" stroke="none" stroke-width="1"/>
<rect x="656.25" y="40.35" width="3.10" height="3.10" fill="#000" stroke="none" stroke-width="1"/>
<rect x="651.75" y="43.05" width="3.10" height="3.10" fill="#000" stroke="none" stroke-width="1"/>
<rect x="656.25" y="43.05" width="3.10" height="3.10" fill="#000" stroke="none" stroke-width="1"/>
<text x="613.20" y="24.20" font-size="9.55" fill="#000"><tspan font-style="italic">P</tspan>=2.0x10<tspan font-size="5.8" dy="-3.1">-3</tspan></text>
<line x1="614.10" y1="27.20" x2="656.00" y2="27.20" stroke="#000" stroke-width="1.0"/>
<line x1="614.30" y1="125.80" x2="614.30" y2="130.00" stroke="#000" stroke-width="1.0"/>
<line x1="655.60" y1="125.80" x2="655.60" y2="130.00" stroke="#000" stroke-width="1.0"/>
<text x="610.40" y="142.50" font-size="10.5" text-anchor="middle" fill="#000">LPS(Sed)</text>
<text x="660.80" y="142.50" font-size="10.5" text-anchor="middle" fill="#000">LPS(Exe)</text>
<text x="388.50" y="185.60" font-size="10.4" text-anchor="middle" fill="#000">LPS(Sed)</text>
<text x="485.30" y="186.40" font-size="10.4" text-anchor="middle" fill="#000">LPS(Exe)</text>
<text x="536.30" y="186.40" font-size="10.0" text-anchor="start" fill="#000">kDa</text>
<text x="330.30" y="210.50" font-size="10.2" text-anchor="end" fill="#000">Pan Kla</text>
<text x="330.70" y="247.60" font-size="10.2" text-anchor="end" fill="#000">Histone H3</text>
<text x="535.20" y="208.00" font-size="10.0" text-anchor="start" fill="#000">-15</text>
<text x="535.20" y="256.00" font-size="10.0" text-anchor="start" fill="#000">-15</text>
<g clip-path="url(#c1)">
<rect x="332.80" y="191.90" width="201.40" height="26.90" fill="url(#bg1)" stroke="none" stroke-width="1"/>
<ellipse cx="349.5" cy="205.4" rx="16.5" ry="9.0" fill="#555" opacity="0.39" filter="url(#b3)"/>
<ellipse cx="384.4" cy="205.8" rx="17.0" ry="9.0" fill="#555" opacity="0.485" filter="url(#b3)"/>
<ellipse cx="415.8" cy="206.1" rx="16.8" ry="9.0" fill="#555" opacity="0.485" filter="url(#b3)"/>
<ellipse cx="449.2" cy="206.1" rx="18.0" ry="9.0" fill="#555" opacity="0.5" filter="url(#b3)"/>
<ellipse cx="482.1" cy="205.7" rx="18.2" ry="9.0" fill="#555" opacity="0.5" filter="url(#b3)"/>
<ellipse cx="515.0" cy="204.3" rx="19.8" ry="9.0" fill="#555" opacity="0.5" filter="url(#b3)"/>
<ellipse cx="349.5" cy="201.0" rx="10.5" ry="2.2" fill="#000" opacity="0.78" filter="url(#b2)"/>
<ellipse cx="349.5" cy="209.9" rx="13.5" ry="1.7" fill="#000" opacity="0.85" filter="url(#b1)"/>
<ellipse cx="384.4" cy="201.6" rx="12.2" ry="2.6" fill="#000" opacity="0.97" filter="url(#b1)"/>
<ellipse cx="384.4" cy="209.9" rx="14.0" ry="2.1" fill="#000" opacity="0.97" filter="url(#b1)"/>
<ellipse cx="415.8" cy="202.1" rx="12.2" ry="2.5" fill="#000" opacity="0.97" filter="url(#b1)"/>
<ellipse cx="415.8" cy="210.2" rx="13.8" ry="2.3" fill="#000" opacity="0.97" filter="url(#b1)"/>
<ellipse cx="449.2" cy="202.2" rx="13.0" ry="3.0" fill="#000" opacity="1.0" filter="url(#b1)"/>
<ellipse cx="449.2" cy="209.9" rx="15.0" ry="3.3" fill="#000" opacity="1.0" filter="url(#b1)"/>
<ellipse cx="482.1" cy="201.9" rx="13.5" ry="3.6" fill="#000" opacity="1.0" filter="url(#b1)"/>
<ellipse cx="482.1" cy="209.5" rx="15.2" ry="3.6" fill="#000" opacity="1.0" filter="url(#b1)"/>
<ellipse cx="515.0" cy="200.3" rx="14.8" ry="4.9" fill="#000" opacity="1.0" filter="url(#b1)"/>
<ellipse cx="515.0" cy="208.3" rx="16.8" ry="3.4" fill="#000" opacity="1.0" filter="url(#b1)"/>
<ellipse cx="484.0" cy="205.7" rx="11.5" ry="2.3" fill="#000" opacity="0.9" filter="url(#b2)"/>
<ellipse cx="518.0" cy="204.5" rx="14.0" ry="3.5" fill="#000" opacity="1.0" filter="url(#b1)"/>
<ellipse cx="449.2" cy="206.0" rx="10.0" ry="1.7" fill="#000" opacity="0.4" filter="url(#b2)"/>
<ellipse cx="399.0" cy="206.0" rx="25.0" ry="2.5" fill="#444" opacity="0.35" filter="url(#b3)"/>
</g>
<g clip-path="url(#c2)">
<rect x="332.80" y="229.20" width="201.40" height="27.00" fill="url(#bg2)" stroke="none" stroke-width="1"/>
<ellipse cx="351.7" cy="241.6" rx="17.0" ry="9.5" fill="#666" opacity="0.45" filter="url(#b3)"/>
<ellipse cx="385.4" cy="243.8" rx="18.5" ry="10.6" fill="#666" opacity="0.45" filter="url(#b3)"/>
<ellipse cx="414.8" cy="242.4" rx="16.5" ry="9.7" fill="#666" opacity="0.45" filter="url(#b3)"/>
<ellipse cx="448.3" cy="242.7" rx="17.0" ry="8.8" fill="#666" opacity="0.45" filter="url(#b3)"/>
<ellipse cx="481.2" cy="242.8" rx="17.0" ry="8.9" fill="#666" opacity="0.45" filter="url(#b3)"/>
<ellipse cx="513.2" cy="241.5" rx="18.0" ry="9.4" fill="#666" opacity="0.45" filter="url(#b3)"/>
<ellipse cx="351.7" cy="240.6" rx="15.0" ry="5.5" fill="#000" opacity="1.0" filter="url(#b1)"/>
<ellipse cx="385.4" cy="242.8" rx="16.5" ry="6.6" fill="#000" opacity="1.0" filter="url(#b1)"/>
<ellipse cx="414.8" cy="241.4" rx="14.5" ry="5.7" fill="#000" opacity="1.0" filter="url(#b1)"/>
<ellipse cx="448.3" cy="241.7" rx="15.0" ry="4.8" fill="#000" opacity="1.0" filter="url(#b1)"/>
<ellipse cx="481.2" cy="241.8" rx="15.0" ry="4.9" fill="#000" opacity="1.0" filter="url(#b1)"/>
<ellipse cx="513.2" cy="240.5" rx="16.0" ry="5.4" fill="#000" opacity="1.0" filter="url(#b1)"/>
<ellipse cx="352.0" cy="249.0" rx="8.0" ry="1.8" fill="#222" opacity="0.35" filter="url(#b1)"/>
<ellipse cx="385.0" cy="250.2" rx="9.0" ry="1.8" fill="#222" opacity="0.4" filter="url(#b1)"/>
<ellipse cx="414.0" cy="249.5" rx="7.0" ry="1.5" fill="#222" opacity="0.3" filter="url(#b1)"/>
<ellipse cx="444.5" cy="250.5" rx="7.5" ry="1.3" fill="#222" opacity="0.5" filter="url(#b1)"/>
<ellipse cx="480.3" cy="250.8" rx="10.0" ry="1.5" fill="#222" opacity="0.65" filter="url(#b1)"/>
<ellipse cx="513.2" cy="248.8" rx="11.0" ry="1.3" fill="#222" opacity="0.5" filter="url(#b1)"/>
</g>
<line x1="592.10" y1="173.10" x2="592.10" y2="256.10" stroke="#000" stroke-width="1.1"/>
<line x1="591.60" y1="255.60" x2="672.50" y2="255.60" stroke="#000" stroke-width="1.1"/>
<line x1="588.50" y1="173.60" x2="592.10" y2="173.60" stroke="#000" stroke-width="1.0"/>
<text x="586.90" y="177.90" font-size="10.3" text-anchor="end" fill="#000">5</text>
<line x1="588.50" y1="190.00" x2="592.10" y2="190.00" stroke="#000" stroke-width="1.0"/>
<text x="586.90" y="194.30" font-size="10.3" text-anchor="end" fill="#000">4</text>
<line x1="588.50" y1="206.40" x2="592.10" y2="206.40" stroke="#000" stroke-width="1.0"/>
<text x="586.90" y="210.70" font-size="10.3" text-anchor="end" fill="#000">3</text>
<line x1="588.50" y1="222.80" x2="592.10" y2="222.80" stroke="#000" stroke-width="1.0"/>
<text x="586.90" y="227.10" font-size="10.3" text-anchor="end" fill="#000">2</text>
<line x1="588.50" y1="239.20" x2="592.10" y2="239.20" stroke="#000" stroke-width="1.0"/>
<text x="586.90" y="243.50" font-size="10.3" text-anchor="end" fill="#000">1</text>
<line x1="588.50" y1="255.60" x2="592.10" y2="255.60" stroke="#000" stroke-width="1.0"/>
<text x="586.90" y="259.90" font-size="10.3" text-anchor="end" fill="#000">0</text>
<text x="575.40" y="218.00" font-size="10.0" text-anchor="middle" fill="#000" transform="rotate(-90 575.40 218.00)">Relative Pan Kla level</text>
<rect x="603.80" y="239.30" width="22.20" height="16.30" fill="#d4d4d4" stroke="#000" stroke-width="1.1"/>
<rect x="638.70" y="204.30" width="21.60" height="51.30" fill="#33bbf7" stroke="#000" stroke-width="1.1"/>
<line x1="614.90" y1="237.00" x2="614.90" y2="239.30" stroke="#000" stroke-width="1.0"/>
<line x1="609.30" y1="237.00" x2="620.90" y2="237.00" stroke="#000" stroke-width="1.0"/>
<line x1="649.50" y1="197.60" x2="649.50" y2="204.30" stroke="#000" stroke-width="1.0"/>
<line x1="643.70" y1="197.60" x2="655.40" y2="197.60" stroke="#000" stroke-width="1.0"/>
<circle cx="614.90" cy="235.60" r="1.4" fill="#000"/>
<circle cx="614.90" cy="239.30" r="1.4" fill="#000"/>
<circle cx="614.90" cy="241.80" r="1.4" fill="#000"/>
<rect x="647.95" y="190.85" width="3.10" height="3.10" fill="#000" stroke="none" stroke-width="1"/>
<rect x="647.95" y="203.85" width="3.10" height="3.10" fill="#000" stroke="none" stroke-width="1"/>
<rect x="647.95" y="212.75" width="3.10" height="3.10" fill="#000" stroke="none" stroke-width="1"/>
<text x="609.60" y="179.90" font-size="9.85" fill="#000"><tspan font-style="italic">P</tspan>=5.6x10<tspan font-size="5.9" dy="-3.1">-3</tspan></text>
<line x1="614.90" y1="183.30" x2="649.80" y2="183.30" stroke="#000" stroke-width="1.0"/>
<line x1="614.90" y1="255.60" x2="614.90" y2="259.60" stroke="#000" stroke-width="1.0"/>
<line x1="649.50" y1="255.60" x2="649.50" y2="259.60" stroke="#000" stroke-width="1.0"/>
<text x="609.40" y="269.30" font-size="10.5" text-anchor="middle" fill="#000">LPS(Sed)</text>
<text x="659.80" y="269.30" font-size="10.5" text-anchor="middle" fill="#000">LPS(Exe)</text>
<text x="336.00" y="308.30" font-size="10.5" text-anchor="middle" fill="#28f028">Pan Kla</text>
<text x="394.70" y="308.30" font-size="10.5" text-anchor="middle" fill="#ff22ff">CD68</text>
<text x="454.00" y="308.30" font-size="10.5" text-anchor="middle" fill="#1e1eff">DAPI</text>
<text x="513.90" y="308.30" font-size="10.5" text-anchor="middle" fill="#000">Merged</text>
<text x="303.90" y="339.00" font-size="10.3" text-anchor="middle" fill="#000" transform="rotate(-90 303.90 339.00)">LPS(Sed)</text>
<text x="303.90" y="397.80" font-size="10.3" text-anchor="middle" fill="#000" transform="rotate(-90 303.90 397.80)">LPS(Exe)</text>
<rect x="307.00" y="310.30" width="57.00" height="56.50" fill="#000" stroke="none" stroke-width="1"/>
<clipPath id="ci00"><rect x="307.0" y="310.3" width="57.0" height="56.5"/></clipPath>
<rect x="366.40" y="310.30" width="57.00" height="56.50" fill="#000" stroke="none" stroke-width="1"/>
<clipPath id="ci01"><rect x="366.4" y="310.3" width="57.0" height="56.5"/></clipPath>
<rect x="425.80" y="310.30" width="57.00" height="56.50" fill="#000" stroke="none" stroke-width="1"/>
<clipPath id="ci02"><rect x="425.8" y="310.3" width="57.0" height="56.5"/></clipPath>
<rect x="485.10" y="310.30" width="57.00" height="56.50" fill="#000" stroke="none" stroke-width="1"/>
<clipPath id="ci03"><rect x="485.1" y="310.3" width="57.0" height="56.5"/></clipPath>
<rect x="307.00" y="368.80" width="57.00" height="56.50" fill="#000" stroke="none" stroke-width="1"/>
<clipPath id="ci10"><rect x="307.0" y="368.8" width="57.0" height="56.5"/></clipPath>
<rect x="366.40" y="368.80" width="57.00" height="56.50" fill="#000" stroke="none" stroke-width="1"/>
<clipPath id="ci11"><rect x="366.4" y="368.8" width="57.0" height="56.5"/></clipPath>
<rect x="425.80" y="368.80" width="57.00" height="56.50" fill="#000" stroke="none" stroke-width="1"/>
<clipPath id="ci12"><rect x="425.8" y="368.8" width="57.0" height="56.5"/></clipPath>
<rect x="485.10" y="368.80" width="57.00" height="56.50" fill="#000" stroke="none" stroke-width="1"/>
<clipPath id="ci13"><rect x="485.1" y="368.8" width="57.0" height="56.5"/></clipPath>
<g filter="url(#d1)" clip-path="url(#ci00)">
<ellipse cx="319.7" cy="314.2" rx="1.2" ry="1.2" fill="#1fe01f" opacity="1.00"/>
<ellipse cx="323.9" cy="330.8" rx="1.0" ry="1.0" fill="#1fe01f" opacity="0.75"/>
<ellipse cx="324.3" cy="334.3" rx="0.5" ry="0.5" fill="#1fe01f" opacity="0.60"/>
<ellipse cx="332.6" cy="324.6" rx="0.8" ry="0.8" fill="#1fe01f" opacity="0.45"/>
<ellipse cx="346.2" cy="323.7" rx="0.7" ry="0.7" fill="#1fe01f" opacity="0.50"/>
<ellipse cx="347.9" cy="332.2" rx="0.9" ry="0.9" fill="#1fe01f" opacity="0.90"/>
<ellipse cx="354.1" cy="330.8" rx="1.1" ry="1.1" fill="#1fe01f" opacity="0.70"/>
<ellipse cx="358.3" cy="333.6" rx="0.8" ry="0.8" fill="#1fe01f" opacity="0.35"/>
<ellipse cx="340.4" cy="337.3" rx="0.6" ry="0.6" fill="#1fe01f" opacity="0.90"/>
<ellipse cx="334.4" cy="340.5" rx="0.7" ry="0.7" fill="#1fe01f" opacity="0.70"/>
<ellipse cx="363.5" cy="348.0" rx="1.0" ry="1.0" fill="#1fe01f" opacity="1.00"/>
<ellipse cx="343.4" cy="353.5" rx="0.7" ry="0.7" fill="#1fe01f" opacity="0.60"/>
<ellipse cx="347.2" cy="360.9" rx="1.1" ry="1.1" fill="#1fe01f" opacity="0.45"/>
<ellipse cx="350.4" cy="361.3" rx="0.8" ry="0.8" fill="#1fe01f" opacity="0.50"/>
<ellipse cx="352.4" cy="361.3" rx="0.6" ry="0.6" fill="#1fe01f" opacity="1.00"/>
<ellipse cx="356.2" cy="322.8" rx="0.6" ry="0.6" fill="#1fe01f" opacity="0.30"/>
<ellipse cx="355.5" cy="320.4" rx="0.5" ry="0.5" fill="#1fe01f" opacity="0.30"/>
<ellipse cx="340.3" cy="329.7" rx="0.7" ry="0.7" fill="#1fe01f" opacity="0.20"/>
<ellipse cx="344.8" cy="345.2" rx="0.6" ry="0.6" fill="#1fe01f" opacity="0.25"/>
<ellipse cx="326.4" cy="326.9" rx="0.5" ry="0.5" fill="#1fe01f" opacity="0.20"/>
<ellipse cx="359.7" cy="346.3" rx="0.5" ry="0.5" fill="#1fe01f" opacity="0.25"/>
<ellipse cx="349.7" cy="363.6" rx="0.5" ry="0.5" fill="#1fe01f" opacity="0.40"/>
<ellipse cx="322.0" cy="312.7" rx="0.5" ry="0.5" fill="#1fe01f" opacity="0.40"/>
<ellipse cx="361.4" cy="362.2" rx="0.5" ry="0.5" fill="#1fe01f" opacity="0.16"/>
<ellipse cx="335.5" cy="329.9" rx="0.5" ry="0.5" fill="#1fe01f" opacity="0.11"/>
<ellipse cx="323.4" cy="353.0" rx="0.5" ry="0.5" fill="#1fe01f" opacity="0.19"/>
<ellipse cx="328.2" cy="353.2" rx="0.5" ry="0.5" fill="#1fe01f" opacity="0.18"/>
<ellipse cx="345.8" cy="346.8" rx="0.5" ry="0.5" fill="#1fe01f" opacity="0.18"/>
<ellipse cx="328.3" cy="348.9" rx="0.5" ry="0.5" fill="#1fe01f" opacity="0.13"/>
<ellipse cx="334.7" cy="352.3" rx="0.5" ry="0.5" fill="#1fe01f" opacity="0.17"/>
<ellipse cx="324.6" cy="361.5" rx="0.5" ry="0.5" fill="#1fe01f" opacity="0.16"/>
<ellipse cx="339.8" cy="312.9" rx="0.5" ry="0.5" fill="#1fe01f" opacity="0.15"/>
<ellipse cx="322.3" cy="347.2" rx="0.5" ry="0.5" fill="#1fe01f" opacity="0.15"/>
</g>
<g filter="url(#d3)" clip-path="url(#ci01)">
<ellipse cx="367.1" cy="314.5" rx="0.9" ry="0.9" fill="#ff2cff" opacity="0.9" transform="rotate(0 367.1 314.5)"/>
<ellipse cx="370.3" cy="319.0" rx="1.0" ry="1.0" fill="#ff2cff" opacity="0.9" transform="rotate(0 370.3 319.0)"/>
<ellipse cx="380.5" cy="312.8" rx="1.0" ry="1.6" fill="#ff2cff" opacity="1" transform="rotate(35 380.5 312.8)"/>
<ellipse cx="387.9" cy="314.5" rx="1.2" ry="1.2" fill="#ff2cff" opacity="1" transform="rotate(0 387.9 314.5)"/>
<ellipse cx="383.0" cy="330.8" rx="1.1" ry="1.8" fill="#ff2cff" opacity="1" transform="rotate(25 383.0 330.8)"/>
<ellipse cx="408.9" cy="324.8" rx="1.2" ry="1.5" fill="#ff2cff" opacity="1" transform="rotate(0 408.9 324.8)"/>
<ellipse cx="399.7" cy="337.7" rx="1.6" ry="1.4" fill="#ff2cff" opacity="1" transform="rotate(0 399.7 337.7)"/>
<ellipse cx="406.3" cy="338.7" rx="0.8" ry="0.8" fill="#ff2cff" opacity="0.6" transform="rotate(0 406.3 338.7)"/>
<ellipse cx="399.4" cy="330.1" rx="0.6" ry="0.6" fill="#ff2cff" opacity="0.5" transform="rotate(0 399.4 330.1)"/>
<ellipse cx="407.3" cy="331.8" rx="0.6" ry="0.6" fill="#ff2cff" opacity="0.45" transform="rotate(0 407.3 331.8)"/>
<ellipse cx="418.4" cy="345.2" rx="1.0" ry="1.6" fill="#ff2cff" opacity="0.9" transform="rotate(30 418.4 345.2)"/>
<ellipse cx="419.7" cy="342.6" rx="0.6" ry="0.6" fill="#ff2cff" opacity="0.5" transform="rotate(0 419.7 342.6)"/>
<ellipse cx="412.5" cy="349.4" rx="0.6" ry="0.6" fill="#ff2cff" opacity="0.7" transform="rotate(0 412.5 349.4)"/>
<ellipse cx="394.4" cy="355.6" rx="0.9" ry="0.9" fill="#ff2cff" opacity="0.9" transform="rotate(0 394.4 355.6)"/>
<ellipse cx="403.1" cy="356.0" rx="1.2" ry="2.6" fill="#ff2cff" opacity="1" transform="rotate(15 403.1 356.0)"/>
<ellipse cx="407.0" cy="362.7" rx="1.9" ry="1.3" fill="#ff2cff" opacity="1" transform="rotate(-30 407.0 362.7)"/>
<ellipse cx="383.7" cy="361.6" rx="0.8" ry="0.9" fill="#ff2cff" opacity="0.85" transform="rotate(0 383.7 361.6)"/>
<ellipse cx="416.6" cy="360.2" rx="0.6" ry="0.6" fill="#ff2cff" opacity="0.7" transform="rotate(0 416.6 360.2)"/>
<ellipse cx="384.4" cy="346.3" rx="0.5" ry="0.5" fill="#ff2cff" opacity="0.4" transform="rotate(0 384.4 346.3)"/>
<ellipse cx="368.4" cy="334.3" rx="0.4" ry="0.4" fill="#ff2cff" opacity="0.3" transform="rotate(0 368.4 334.3)"/>
</g>
<g filter="url(#d2)" clip-path="url(#ci02)">
<circle cx="451.68" cy="341.81" r="1.1696842336094917" fill="#1212ff" opacity="0.73"/>
<circle cx="454.73" cy="343.31" r="0.8738641375419507" fill="#1212ff" opacity="0.76"/>
<circle cx="461.44" cy="354.52" r="0.8376493824916874" fill="#1212ff" opacity="0.65"/>
<circle cx="431.79" cy="355.43" r="1.0773753930164955" fill="#1212ff" opacity="0.52"/>
<circle cx="480.82" cy="363.88" r="1.061569013413536" fill="#1212ff" opacity="0.81"/>
<circle cx="435.46" cy="312.12" r="1.0113525064681914" fill="#1212ff" opacity="0.53"/>
<circle cx="437.26" cy="324.49" r="0.8120330356899155" fill="#1212ff" opacity="0.73"/>
<circle cx="451.03" cy="357.21" r="1.0076496459056308" fill="#1212ff" opacity="0.82"/>
<circle cx="454.29" cy="347.40" r="0.982931952639823" fill="#1212ff" opacity="0.64"/>
<circle cx="481.67" cy="365.57" r="1.1360862197971446" fill="#1212ff" opacity="0.85"/>
<circle cx="444.14" cy="323.82" r="0.9156159789256809" fill="#1212ff" opacity="0.54"/>
<circle cx="468.95" cy="333.12" r="1.1386334487524714" fill="#1212ff" opacity="0.69"/>
<circle cx="479.49" cy="357.48" r="0.8002179748222282" fill="#1212ff" opacity="0.60"/>
<circle cx="476.86" cy="336.91" r="1.1921435764697168" fill="#1212ff" opacity="0.70"/>
<circle cx="430.82" cy="345.61" r="1.1114043434706602" fill="#1212ff" opacity="0.63"/>
<circle cx="431.59" cy="329.43" r="1.1856304866375056" fill="#1212ff" opacity="0.88"/>
<circle cx="433.29" cy="324.73" r="0.8404185235826821" fill="#1212ff" opacity="0.53"/>
<circle cx="470.64" cy="320.98" r="1.023718056644158" fill="#1212ff" opacity="0.72"/>
<circle cx="437.29" cy="351.19" r="0.8523868334866479" fill="#1212ff" opacity="0.82"/>
<circle cx="433.21" cy="334.23" r="0.8851462692036358" fill="#1212ff" opacity="0.63"/>
<circle cx="480.20" cy="355.09" r="0.9216580599483958" fill="#1212ff" opacity="0.94"/>
<circle cx="438.39" cy="332.79" r="1.1417507606804922" fill="#1212ff" opacity="0.82"/>
<circle cx="432.32" cy="365.22" r="0.8852973474310091" fill="#1212ff" opacity="0.63"/>
<circle cx="469.30" cy="329.23" r="0.9185299050395785" fill="#1212ff" opacity="0.54"/>
<circle cx="431.76" cy="343.06" r="0.8972051680550249" fill="#1212ff" opacity="0.80"/>
<circle cx="447.24" cy="336.00" r="1.1836538689949252" fill="#1212ff" opacity="0.74"/>
<circle cx="458.40" cy="358.53" r="0.8731310863114741" fill="#1212ff" opacity="0.58"/>
<circle cx="476.76" cy="355.87" r="0.8997994265716999" fill="#1212ff" opacity="0.59"/>
<circle cx="467.47" cy="362.55" r="0.8786359181611956" fill="#1212ff" opacity="0.98"/>
<circle cx="475.32" cy="344.19" r="0.9685828895789431" fill="#1212ff" opacity="0.55"/>
<circle cx="428.93" cy="363.77" r="0.8953628770703931" fill="#1212ff" opacity="0.85"/>
<circle cx="440.93" cy="356.19" r="1.0385865226119742" fill="#1212ff" opacity="0.65"/>
<circle cx="436.45" cy="350.56" r="0.8275104496669775" fill="#1212ff" opacity="0.61"/>
<circle cx="457.57" cy="357.76" r="1.0457212062899472" fill="#1212ff" opacity="0.64"/>
<circle cx="477.25" cy="322.42" r="0.8066299172316621" fill="#1212ff" opacity="0.63"/>
<circle cx="451.31" cy="314.59" r="0.8705015101491269" fill="#1212ff" opacity="0.68"/>
<circle cx="458.27" cy="318.47" r="0.9448580626797923" fill="#1212ff" opacity="0.95"/>
<circle cx="480.73" cy="347.10" r="1.0764886364994615" fill="#1212ff" opacity="0.79"/>
<circle cx="434.52" cy="313.21" r="0.8071576788270262" fill="#1212ff" opacity="0.96"/>
<circle cx="465.35" cy="363.77" r="0.8085036712836406" fill="#1212ff" opacity="0.82"/>
<circle cx="453.32" cy="351.11" r="0.9275617961186343" fill="#1212ff" opacity="1.00"/>
<circle cx="430.94" cy="341.06" r="1.0948021979465035" fill="#1212ff" opacity="0.95"/>
<circle cx="467.34" cy="349.65" r="1.1173066704373935" fill="#1212ff" opacity="0.96"/>
<circle cx="446.15" cy="348.64" r="1.1603343757321516" fill="#1212ff" opacity="0.94"/>
<circle cx="449.74" cy="354.38" r="1.145389069616573" fill="#1212ff" opacity="0.79"/>
<circle cx="461.17" cy="332.14" r="1.0330715567244504" fill="#1212ff" opacity="0.80"/>
<circle cx="431.21" cy="346.15" r="1.1973288752353288" fill="#1212ff" opacity="0.94"/>
<circle cx="466.85" cy="332.47" r="1.0940152606193914" fill="#1212ff" opacity="0.79"/>
<circle cx="451.03" cy="356.99" r="0.8335128889045034" fill="#1212ff" opacity="0.88"/>
<circle cx="428.44" cy="344.07" r="0.9923827261396965" fill="#1212ff" opacity="0.62"/>
<circle cx="465.21" cy="338.40" r="1.0458013047579873" fill="#1212ff" opacity="0.96"/>
<circle cx="440.87" cy="311.92" r="0.9204130564427982" fill="#1212ff" opacity="0.84"/>
<circle cx="437.94" cy="320.54" r="1.1622886399701962" fill="#1212ff" opacity="0.83"/>
<circle cx="451.11" cy="359.90" r="0.9307842475317631" fill="#1212ff" opacity="0.83"/>
<circle cx="437.72" cy="334.78" r="1.1223953597385576" fill="#1212ff" opacity="0.96"/>
<circle cx="475.21" cy="332.25" r="1.0332428751015765" fill="#1212ff" opacity="0.66"/>
<circle cx="434.29" cy="338.36" r="1.1348382469882157" fill="#1212ff" opacity="0.92"/>
<circle cx="465.92" cy="363.08" r="0.9107183987553645" fill="#1212ff" opacity="0.58"/>
<circle cx="451.59" cy="326.30" r="0.8856321508613114" fill="#1212ff" opacity="0.71"/>
<circle cx="461.22" cy="338.22" r="0.9261486581452982" fill="#1212ff" opacity="0.92"/>
<circle cx="480.81" cy="335.96" r="0.8298716867826205" fill="#1212ff" opacity="0.52"/>
<circle cx="474.81" cy="313.56" r="1.0834523716004798" fill="#1212ff" opacity="0.79"/>
<circle cx="443.80" cy="354.44" r="0.8076456059246825" fill="#1212ff" opacity="0.57"/>
<circle cx="451.82" cy="312.65" r="1.1318673737836256" fill="#1212ff" opacity="0.62"/>
<circle cx="434.55" cy="313.86" r="1.0516721222260739" fill="#1212ff" opacity="0.72"/>
<circle cx="461.45" cy="347.00" r="1.1229539643784854" fill="#1212ff" opacity="0.98"/>
<circle cx="464.45" cy="322.16" r="0.9900569208146399" fill="#1212ff" opacity="0.59"/>
<circle cx="427.39" cy="337.03" r="1.0856683821564168" fill="#1212ff" opacity="0.59"/>
<circle cx="441.78" cy="330.14" r="1.078924628933724" fill="#1212ff" opacity="0.76"/>
<circle cx="460.59" cy="352.51" r="0.9574064846299941" fill="#1212ff" opacity="0.90"/>
<circle cx="476.64" cy="316.05" r="1.173041531123665" fill="#1212ff" opacity="0.86"/>
<circle cx="433.95" cy="336.02" r="1.0502192702511723" fill="#1212ff" opacity="0.95"/>
<circle cx="447.52" cy="342.30" r="1.1517283305604766" fill="#1212ff" opacity="0.90"/>
<circle cx="478.73" cy="336.57" r="1.0605290263364728" fill="#1212ff" opacity="0.60"/>
<circle cx="466.51" cy="355.90" r="1.0566465226537896" fill="#1212ff" opacity="0.86"/>
<circle cx="438.53" cy="360.35" r="1.1921972605223725" fill="#1212ff" opacity="0.99"/>
<circle cx="456.33" cy="354.40" r="0.9281578906234597" fill="#1212ff" opacity="0.95"/>
<circle cx="473.87" cy="330.29" r="0.8331090332184281" fill="#1212ff" opacity="0.72"/>
<circle cx="457.07" cy="353.17" r="0.9949789968721809" fill="#1212ff" opacity="0.51"/>
<circle cx="471.30" cy="314.79" r="1.1199439467045793" fill="#1212ff" opacity="0.59"/>
<circle cx="445.23" cy="354.24" r="0.8562000795321524" fill="#1212ff" opacity="0.57"/>
<circle cx="455.21" cy="350.73" r="1.1359905769761989" fill="#1212ff" opacity="0.84"/>
<circle cx="478.82" cy="338.15" r="1.179661749866793" fill="#1212ff" opacity="0.54"/>
<circle cx="438.98" cy="340.00" r="0.9160678709481945" fill="#1212ff" opacity="0.86"/>
<circle cx="461.94" cy="339.79" r="1.137449359617269" fill="#1212ff" opacity="0.78"/>
<circle cx="443.94" cy="332.08" r="1.1381042267980273" fill="#1212ff" opacity="0.95"/>
<circle cx="438.25" cy="357.67" r="1.1873761461517574" fill="#1212ff" opacity="0.76"/>
<circle cx="458.31" cy="322.25" r="1.0143614712783116" fill="#1212ff" opacity="0.75"/>
<circle cx="460.09" cy="312.81" r="1.1877619446633843" fill="#1212ff" opacity="0.76"/>
<circle cx="448.83" cy="354.96" r="1.025146675473246" fill="#1212ff" opacity="0.75"/>
<circle cx="464.80" cy="314.89" r="1.0154861761895861" fill="#1212ff" opacity="0.71"/>
<circle cx="479.43" cy="361.63" r="0.9076855160185023" fill="#1212ff" opacity="0.74"/>
<circle cx="433.78" cy="334.94" r="1.1262868223657891" fill="#1212ff" opacity="0.95"/>
<circle cx="453.01" cy="328.59" r="0.8765806866274454" fill="#1212ff" opacity="0.81"/>
<circle cx="477.69" cy="318.36" r="1.1117155372419365" fill="#1212ff" opacity="0.51"/>
<circle cx="437.48" cy="323.69" r="1.0748136141421825" fill="#1212ff" opacity="0.66"/>
<circle cx="446.34" cy="345.08" r="0.8419542029490364" fill="#1212ff" opacity="0.87"/>
<circle cx="433.55" cy="339.12" r="0.9002214572360999" fill="#1212ff" opacity="0.60"/>
<circle cx="455.97" cy="335.10" r="0.9502944786340195" fill="#1212ff" opacity="0.71"/>
<circle cx="455.91" cy="320.01" r="0.8817064966673823" fill="#1212ff" opacity="0.82"/>
<circle cx="461.92" cy="340.16" r="1.140503268071834" fill="#1212ff" opacity="0.81"/>
<circle cx="473.92" cy="323.98" r="1.0963086295958875" fill="#1212ff" opacity="0.91"/>
<circle cx="476.45" cy="328.52" r="0.9259953733999807" fill="#1212ff" opacity="0.96"/>
<circle cx="438.80" cy="365.71" r="1.1550166758801392" fill="#1212ff" opacity="0.57"/>
<circle cx="439.96" cy="350.90" r="0.9037990045186846" fill="#1212ff" opacity="0.55"/>
<circle cx="472.57" cy="334.28" r="1.1159743300224512" fill="#1212ff" opacity="0.56"/>
<circle cx="448.95" cy="348.64" r="0.8071034702541138" fill="#1212ff" opacity="0.60"/>
<circle cx="464.33" cy="360.97" r="1.1873513053695062" fill="#1212ff" opacity="0.56"/>
<circle cx="454.61" cy="352.62" r="1.0011141776996453" fill="#1212ff" opacity="0.84"/>
<circle cx="437.20" cy="315.15" r="0.8424693287143252" fill="#1212ff" opacity="0.52"/>
<circle cx="457.14" cy="339.36" r="1.0274968698062805" fill="#1212ff" opacity="0.57"/>
<circle cx="436.95" cy="322.41" r="1.1360857163608886" fill="#1212ff" opacity="1.00"/>
<circle cx="477.78" cy="316.49" r="0.8247780327035494" fill="#1212ff" opacity="0.98"/>
<circle cx="452.21" cy="352.98" r="0.9307309072938096" fill="#1212ff" opacity="0.73"/>
<circle cx="455.14" cy="334.74" r="1.0403719197903691" fill="#1212ff" opacity="0.51"/>
<circle cx="465.36" cy="357.31" r="0.8725076747177716" fill="#1212ff" opacity="0.73"/>
<circle cx="467.46" cy="333.39" r="0.8780503618862399" fill="#1212ff" opacity="0.58"/>
<circle cx="454.99" cy="312.14" r="1.157273999109343" fill="#1212ff" opacity="0.90"/>
<circle cx="465.56" cy="358.21" r="1.051754531084259" fill="#1212ff" opacity="0.70"/>
<circle cx="459.78" cy="338.78" r="1.1930720995097595" fill="#1212ff" opacity="0.90"/>
<circle cx="441.00" cy="360.97" r="1.0977739624469796" fill="#1212ff" opacity="0.89"/>
<circle cx="471.61" cy="333.41" r="1.1586180279550276" fill="#1212ff" opacity="0.94"/>
<circle cx="465.01" cy="353.12" r="1.1060916548417494" fill="#1212ff" opacity="0.70"/>
<circle cx="466.54" cy="315.15" r="0.9366874644210619" fill="#1212ff" opacity="0.73"/>
<circle cx="427.38" cy="330.68" r="1.0554848310431975" fill="#1212ff" opacity="0.81"/>
<circle cx="439.57" cy="362.78" r="1.0664374271001409" fill="#1212ff" opacity="0.67"/>
<circle cx="463.09" cy="342.34" r="1.0132318707610188" fill="#1212ff" opacity="0.69"/>
<circle cx="481.79" cy="346.30" r="1.0805002782333208" fill="#1212ff" opacity="0.88"/>
<circle cx="480.70" cy="312.54" r="1.0461585673929972" fill="#1212ff" opacity="0.87"/>
<circle cx="440.91" cy="333.18" r="0.8201827727595128" fill="#1212ff" opacity="0.60"/>
<circle cx="447.46" cy="316.67" r="0.9003549822440496" fill="#1212ff" opacity="0.95"/>
<circle cx="457.05" cy="338.98" r="1.1868545130511365" fill="#1212ff" opacity="0.78"/>
<circle cx="481.53" cy="346.07" r="1.1238112886090716" fill="#1212ff" opacity="0.54"/>
<circle cx="459.66" cy="352.68" r="0.8180454474282951" fill="#1212ff" opacity="0.97"/>
<circle cx="435.60" cy="337.01" r="0.8676490600576174" fill="#1212ff" opacity="0.75"/>
<circle cx="460.41" cy="314.49" r="1.1781093641952667" fill="#1212ff" opacity="0.71"/>
<circle cx="455.77" cy="343.88" r="0.9462301329684496" fill="#1212ff" opacity="0.64"/>
<circle cx="462.83" cy="341.86" r="0.913411389778831" fill="#1212ff" opacity="0.86"/>
<circle cx="443.08" cy="312.06" r="0.8980091261440754" fill="#1212ff" opacity="0.52"/>
<circle cx="435.41" cy="352.43" r="0.9559822233104451" fill="#1212ff" opacity="0.95"/>
<circle cx="467.96" cy="314.03" r="1.195507778892118" fill="#1212ff" opacity="0.97"/>
<circle cx="430.84" cy="360.65" r="0.9718062958691263" fill="#1212ff" opacity="0.74"/>
<circle cx="480.32" cy="324.58" r="1.0093437764003066" fill="#1212ff" opacity="0.97"/>
<circle cx="466.55" cy="336.83" r="1.1915283172129176" fill="#1212ff" opacity="0.91"/>
<circle cx="460.00" cy="317.57" r="1.049699188521975" fill="#1212ff" opacity="0.73"/>
<circle cx="438.00" cy="314.14" r="1.011239883764756" fill="#1212ff" opacity="0.56"/>
<circle cx="451.16" cy="347.70" r="0.9822213727267115" fill="#1212ff" opacity="0.63"/>
<circle cx="458.82" cy="334.16" r="1.1111867002960052" fill="#1212ff" opacity="0.77"/>
<circle cx="481.67" cy="363.22" r="1.0937138829495656" fill="#1212ff" opacity="0.62"/>
<circle cx="433.06" cy="359.95" r="1.113723526916957" fill="#1212ff" opacity="0.81"/>
<circle cx="446.56" cy="326.10" r="1.0740155360849961" fill="#1212ff" opacity="0.78"/>
<circle cx="459.34" cy="345.80" r="1.1013398386223199" fill="#1212ff" opacity="0.59"/>
<circle cx="440.49" cy="364.69" r="1.1662888055919938" fill="#1212ff" opacity="0.94"/>
<circle cx="428.97" cy="314.61" r="0.9083757795677152" fill="#1212ff" opacity="0.71"/>
<circle cx="461.08" cy="316.88" r="1.0166592695662033" fill="#1212ff" opacity="0.54"/>
<circle cx="431.55" cy="348.16" r="1.0202514446817461" fill="#1212ff" opacity="0.82"/>
<circle cx="447.33" cy="337.38" r="0.8842530528851013" fill="#1212ff" opacity="0.67"/>
<circle cx="467.77" cy="357.00" r="0.8297386610575097" fill="#1212ff" opacity="0.56"/>
<circle cx="471.31" cy="345.29" r="1.1075004064111054" fill="#1212ff" opacity="0.61"/>
<circle cx="450.14" cy="325.36" r="1.1239507888277922" fill="#1212ff" opacity="0.68"/>
<circle cx="462.75" cy="365.21" r="0.9301562437143495" fill="#1212ff" opacity="0.77"/>
<circle cx="467.84" cy="361.48" r="0.9710610230380488" fill="#1212ff" opacity="0.68"/>
<circle cx="432.14" cy="359.00" r="0.8314030484665423" fill="#1212ff" opacity="0.54"/>
<circle cx="457.83" cy="337.72" r="1.0741307689652215" fill="#1212ff" opacity="0.65"/>
<circle cx="469.45" cy="315.45" r="0.8853041467388987" fill="#1212ff" opacity="0.83"/>
<circle cx="431.29" cy="327.86" r="1.089998864424672" fill="#1212ff" opacity="0.85"/>
<circle cx="442.36" cy="319.09" r="0.9431206573762392" fill="#1212ff" opacity="0.86"/>
<circle cx="446.95" cy="317.70" r="1.0837099505692145" fill="#1212ff" opacity="0.78"/>
<circle cx="477.32" cy="362.53" r="1.1653501191115438" fill="#1212ff" opacity="0.72"/>
<circle cx="470.97" cy="327.91" r="0.9270476973689001" fill="#1212ff" opacity="0.70"/>
<circle cx="478.21" cy="360.06" r="0.8993220868238423" fill="#1212ff" opacity="0.68"/>
<circle cx="446.91" cy="331.10" r="0.9582438367152473" fill="#1212ff" opacity="0.69"/>
<circle cx="437.52" cy="342.03" r="1.1188331287808595" fill="#1212ff" opacity="0.77"/>
<circle cx="472.80" cy="341.97" r="0.8706368776850094" fill="#1212ff" opacity="0.88"/>
<circle cx="475.25" cy="326.64" r="0.808892036143661" fill="#1212ff" opacity="0.76"/>
<circle cx="456.73" cy="342.23" r="1.1865664214561589" fill="#1212ff" opacity="0.83"/>
<circle cx="471.04" cy="314.79" r="1.0187264362140735" fill="#1212ff" opacity="0.89"/>
<circle cx="431.42" cy="315.75" r="1.0948239687246248" fill="#1212ff" opacity="0.95"/>
<circle cx="431.46" cy="345.86" r="0.8575511756463332" fill="#1212ff" opacity="0.87"/>
<circle cx="462.50" cy="324.68" r="0.8881799384624028" fill="#1212ff" opacity="0.88"/>
<circle cx="455.49" cy="352.98" r="0.9577530305100692" fill="#1212ff" opacity="0.67"/>
<circle cx="480.05" cy="347.95" r="0.997464783454064" fill="#1212ff" opacity="0.77"/>
<circle cx="466.45" cy="349.89" r="1.165990737218382" fill="#1212ff" opacity="0.71"/>
<circle cx="472.24" cy="347.64" r="1.141401615750397" fill="#1212ff" opacity="0.90"/>
<circle cx="472.66" cy="359.73" r="1.1831147031227998" fill="#1212ff" opacity="0.82"/>
<circle cx="455.61" cy="350.00" r="1.1209013673958987" fill="#1212ff" opacity="0.71"/>
<circle cx="449.93" cy="319.27" r="1.0964928959675229" fill="#1212ff" opacity="1.00"/>
<circle cx="447.45" cy="320.44" r="0.8817458998838873" fill="#1212ff" opacity="0.71"/>
<circle cx="442.86" cy="364.15" r="0.8236828073008204" fill="#1212ff" opacity="0.65"/>
<circle cx="433.11" cy="346.61" r="1.1103740123502315" fill="#1212ff" opacity="0.59"/>
<circle cx="430.23" cy="336.30" r="1.03362657273137" fill="#1212ff" opacity="0.95"/>
<circle cx="428.80" cy="317.22" r="0.8738160352686649" fill="#1212ff" opacity="0.61"/>
<circle cx="439.75" cy="350.39" r="1.0379144206899704" fill="#1212ff" opacity="0.61"/>
<circle cx="436.97" cy="326.62" r="0.8690053460320181" fill="#1212ff" opacity="0.88"/>
<circle cx="443.95" cy="341.18" r="1.1268513576698618" fill="#1212ff" opacity="0.74"/>
<circle cx="441.13" cy="359.66" r="1.1657012014260786" fill="#1212ff" opacity="0.67"/>
<circle cx="456.90" cy="363.46" r="0.9930453952031653" fill="#1212ff" opacity="0.61"/>
<circle cx="429.53" cy="362.94" r="1.1205670618959649" fill="#1212ff" opacity="0.69"/>
<circle cx="455.82" cy="339.41" r="0.9098200404276797" fill="#1212ff" opacity="1.00"/>
<circle cx="462.97" cy="324.25" r="0.8043508615316477" fill="#1212ff" opacity="0.74"/>
<circle cx="447.24" cy="354.72" r="1.0853149963064146" fill="#1212ff" opacity="0.80"/>
<circle cx="435.45" cy="319.85" r="0.92872149987441" fill="#1212ff" opacity="0.63"/>
<circle cx="474.61" cy="339.43" r="1.0547866217543929" fill="#1212ff" opacity="1.00"/>
<circle cx="441.46" cy="340.43" r="0.8602613466139896" fill="#1212ff" opacity="0.89"/>
<circle cx="426.88" cy="356.07" r="1.1384731326968227" fill="#1212ff" opacity="0.91"/>
<circle cx="431.33" cy="326.01" r="1.0866091535328266" fill="#1212ff" opacity="0.55"/>
<circle cx="453.21" cy="336.84" r="1.1821976177352538" fill="#1212ff" opacity="0.79"/>
<circle cx="473.95" cy="327.85" r="1.1157286619775373" fill="#1212ff" opacity="0.71"/>
<circle cx="477.22" cy="316.26" r="1.130530454040142" fill="#1212ff" opacity="0.60"/>
<circle cx="456.69" cy="339.95" r="0.8630206076699324" fill="#1212ff" opacity="0.92"/>
<circle cx="443.93" cy="328.24" r="0.8304100381028375" fill="#1212ff" opacity="0.65"/>
<circle cx="452.50" cy="350.28" r="0.9438837977479241" fill="#1212ff" opacity="0.84"/>
</g>
<g filter="url(#d2)" clip-path="url(#ci03)">
<circle cx="510.98" cy="341.81" r="1.1696842336094917" fill="#1212ff" opacity="0.73"/>
<circle cx="514.03" cy="343.31" r="0.8738641375419507" fill="#1212ff" opacity="0.76"/>
<circle cx="520.74" cy="354.52" r="0.8376493824916874" fill="#1212ff" opacity="0.65"/>
<circle cx="491.09" cy="355.43" r="1.0773753930164955" fill="#1212ff" opacity="0.52"/>
<circle cx="540.12" cy="363.88" r="1.061569013413536" fill="#1212ff" opacity="0.81"/>
<circle cx="494.76" cy="312.12" r="1.0113525064681914" fill="#1212ff" opacity="0.53"/>
<circle cx="496.56" cy="324.49" r="0.8120330356899155" fill="#1212ff" opacity="0.73"/>
<circle cx="510.33" cy="357.21" r="1.0076496459056308" fill="#1212ff" opacity="0.82"/>
<circle cx="513.59" cy="347.40" r="0.982931952639823" fill="#1212ff" opacity="0.64"/>
<circle cx="540.97" cy="365.57" r="1.1360862197971446" fill="#1212ff" opacity="0.85"/>
<circle cx="503.44" cy="323.82" r="0.9156159789256809" fill="#1212ff" opacity="0.54"/>
<circle cx="528.25" cy="333.12" r="1.1386334487524714" fill="#1212ff" opacity="0.69"/>
<circle cx="538.79" cy="357.48" r="0.8002179748222282" fill="#1212ff" opacity="0.60"/>
<circle cx="536.16" cy="336.91" r="1.1921435764697168" fill="#1212ff" opacity="0.70"/>
<circle cx="490.12" cy="345.61" r="1.1114043434706602" fill="#1212ff" opacity="0.63"/>
<circle cx="490.89" cy="329.43" r="1.1856304866375056" fill="#1212ff" opacity="0.88"/>
<circle cx="492.59" cy="324.73" r="0.8404185235826821" fill="#1212ff" opacity="0.53"/>
<circle cx="529.94" cy="320.98" r="1.023718056644158" fill="#1212ff" opacity="0.72"/>
<circle cx="496.59" cy="351.19" r="0.8523868334866479" fill="#1212ff" opacity="0.82"/>
<circle cx="492.51" cy="334.23" r="0.8851462692036358" fill="#1212ff" opacity="0.63"/>
<circle cx="539.50" cy="355.09" r="0.9216580599483958" fill="#1212ff" opacity="0.94"/>
<circle cx="497.69" cy="332.79" r="1.1417507606804922" fill="#1212ff" opacity="0.82"/>
<circle cx="491.62" cy="365.22" r="0.8852973474310091" fill="#1212ff" opacity="0.63"/>
<circle cx="528.60" cy="329.23" r="0.9185299050395785" fill="#1212ff" opacity="0.54"/>
<circle cx="491.06" cy="343.06" r="0.8972051680550249" fill="#1212ff" opacity="0.80"/>
<circle cx="506.54" cy="336.00" r="1.1836538689949252" fill="#1212ff" opacity="0.74"/>
<circle cx="517.70" cy="358.53" r="0.8731310863114741" fill="#1212ff" opacity="0.58"/>
<circle cx="536.06" cy="355.87" r="0.8997994265716999" fill="#1212ff" opacity="0.59"/>
<circle cx="526.77" cy="362.55" r="0.8786359181611956" fill="#1212ff" opacity="0.98"/>
<circle cx="534.62" cy="344.19" r="0.9685828895789431" fill="#1212ff" opacity="0.55"/>
<circle cx="488.23" cy="363.77" r="0.8953628770703931" fill="#1212ff" opacity="0.85"/>
<circle cx="500.23" cy="356.19" r="1.0385865226119742" fill="#1212ff" opacity="0.65"/>
<circle cx="495.75" cy="350.56" r="0.8275104496669775" fill="#1212ff" opacity="0.61"/>
<circle cx="516.87" cy="357.76" r="1.0457212062899472" fill="#1212ff" opacity="0.64"/>
<circle cx="536.55" cy="322.42" r="0.8066299172316621" fill="#1212ff" opacity="0.63"/>
<circle cx="510.61" cy="314.59" r="0.8705015101491269" fill="#1212ff" opacity="0.68"/>
<circle cx="517.57" cy="318.47" r="0.9448580626797923" fill="#1212ff" opacity="0.95"/>
<circle cx="540.03" cy="347.10" r="1.0764886364994615" fill="#1212ff" opacity="0.79"/>
<circle cx="493.82" cy="313.21" r="0.8071576788270262" fill="#1212ff" opacity="0.96"/>
<circle cx="524.65" cy="363.77" r="0.8085036712836406" fill="#1212ff" opacity="0.82"/>
<circle cx="512.62" cy="351.11" r="0.9275617961186343" fill="#1212ff" opacity="1.00"/>
<circle cx="490.24" cy="341.06" r="1.0948021979465035" fill="#1212ff" opacity="0.95"/>
<circle cx="526.64" cy="349.65" r="1.1173066704373935" fill="#1212ff" opacity="0.96"/>
<circle cx="505.45" cy="348.64" r="1.1603343757321516" fill="#1212ff" opacity="0.94"/>
<circle cx="509.04" cy="354.38" r="1.145389069616573" fill="#1212ff" opacity="0.79"/>
<circle cx="520.47" cy="332.14" r="1.0330715567244504" fill="#1212ff" opacity="0.80"/>
<circle cx="490.51" cy="346.15" r="1.1973288752353288" fill="#1212ff" opacity="0.94"/>
<circle cx="526.15" cy="332.47" r="1.0940152606193914" fill="#1212ff" opacity="0.79"/>
<circle cx="510.33" cy="356.99" r="0.8335128889045034" fill="#1212ff" opacity="0.88"/>
<circle cx="487.74" cy="344.07" r="0.9923827261396965" fill="#1212ff" opacity="0.62"/>
<circle cx="524.51" cy="338.40" r="1.0458013047579873" fill="#1212ff" opacity="0.96"/>
<circle cx="500.17" cy="311.92" r="0.9204130564427982" fill="#1212ff" opacity="0.84"/>
<circle cx="497.24" cy="320.54" r="1.1622886399701962" fill="#1212ff" opacity="0.83"/>
<circle cx="510.41" cy="359.90" r="0.9307842475317631" fill="#1212ff" opacity="0.83"/>
<circle cx="497.02" cy="334.78" r="1.1223953597385576" fill="#1212ff" opacity="0.96"/>
<circle cx="534.51" cy="332.25" r="1.0332428751015765" fill="#1212ff" opacity="0.66"/>
<circle cx="493.59" cy="338.36" r="1.1348382469882157" fill="#1212ff" opacity="0.92"/>
<circle cx="525.22" cy="363.08" r="0.9107183987553645" fill="#1212ff" opacity="0.58"/>
<circle cx="510.89" cy="326.30" r="0.8856321508613114" fill="#1212ff" opacity="0.71"/>
<circle cx="520.52" cy="338.22" r="0.9261486581452982" fill="#1212ff" opacity="0.92"/>
<circle cx="540.11" cy="335.96" r="0.8298716867826205" fill="#1212ff" opacity="0.52"/>
<circle cx="534.11" cy="313.56" r="1.0834523716004798" fill="#1212ff" opacity="0.79"/>
<circle cx="503.10" cy="354.44" r="0.8076456059246825" fill="#1212ff" opacity="0.57"/>
<circle cx="511.12" cy="312.65" r="1.1318673737836256" fill="#1212ff" opacity="0.62"/>
<circle cx="493.85" cy="313.86" r="1.0516721222260739" fill="#1212ff" opacity="0.72"/>
<circle cx="520.75" cy="347.00" r="1.1229539643784854" fill="#1212ff" opacity="0.98"/>
<circle cx="523.75" cy="322.16" r="0.9900569208146399" fill="#1212ff" opacity="0.59"/>
<circle cx="486.69" cy="337.03" r="1.0856683821564168" fill="#1212ff" opacity="0.59"/>
<circle cx="501.08" cy="330.14" r="1.078924628933724" fill="#1212ff" opacity="0.76"/>
<circle cx="519.89" cy="352.51" r="0.9574064846299941" fill="#1212ff" opacity="0.90"/>
<circle cx="535.94" cy="316.05" r="1.173041531123665" fill="#1212ff" opacity="0.86"/>
<circle cx="493.25" cy="336.02" r="1.0502192702511723" fill="#1212ff" opacity="0.95"/>
<circle cx="506.82" cy="342.30" r="1.1517283305604766" fill="#1212ff" opacity="0.90"/>
<circle cx="538.03" cy="336.57" r="1.0605290263364728" fill="#1212ff" opacity="0.60"/>
<circle cx="525.81" cy="355.90" r="1.0566465226537896" fill="#1212ff" opacity="0.86"/>
<circle cx="497.83" cy="360.35" r="1.1921972605223725" fill="#1212ff" opacity="0.99"/>
<circle cx="515.63" cy="354.40" r="0.9281578906234597" fill="#1212ff" opacity="0.95"/>
<circle cx="533.17" cy="330.29" r="0.8331090332184281" fill="#1212ff" opacity="0.72"/>
<circle cx="516.37" cy="353.17" r="0.9949789968721809" fill="#1212ff" opacity="0.51"/>
<circle cx="530.60" cy="314.79" r="1.1199439467045793" fill="#1212ff" opacity="0.59"/>
<circle cx="504.53" cy="354.24" r="0.8562000795321524" fill="#1212ff" opacity="0.57"/>
<circle cx="514.51" cy="350.73" r="1.1359905769761989" fill="#1212ff" opacity="0.84"/>
<circle cx="538.12" cy="338.15" r="1.179661749866793" fill="#1212ff" opacity="0.54"/>
<circle cx="498.28" cy="340.00" r="0.9160678709481945" fill="#1212ff" opacity="0.86"/>
<circle cx="521.24" cy="339.79" r="1.137449359617269" fill="#1212ff" opacity="0.78"/>
<circle cx="503.24" cy="332.08" r="1.1381042267980273" fill="#1212ff" opacity="0.95"/>
<circle cx="497.55" cy="357.67" r="1.1873761461517574" fill="#1212ff" opacity="0.76"/>
<circle cx="517.61" cy="322.25" r="1.0143614712783116" fill="#1212ff" opacity="0.75"/>
<circle cx="519.39" cy="312.81" r="1.1877619446633843" fill="#1212ff" opacity="0.76"/>
<circle cx="508.13" cy="354.96" r="1.025146675473246" fill="#1212ff" opacity="0.75"/>
<circle cx="524.10" cy="314.89" r="1.0154861761895861" fill="#1212ff" opacity="0.71"/>
<circle cx="538.73" cy="361.63" r="0.9076855160185023" fill="#1212ff" opacity="0.74"/>
<circle cx="493.08" cy="334.94" r="1.1262868223657891" fill="#1212ff" opacity="0.95"/>
<circle cx="512.31" cy="328.59" r="0.8765806866274454" fill="#1212ff" opacity="0.81"/>
<circle cx="536.99" cy="318.36" r="1.1117155372419365" fill="#1212ff" opacity="0.51"/>
<circle cx="496.78" cy="323.69" r="1.0748136141421825" fill="#1212ff" opacity="0.66"/>
<circle cx="505.64" cy="345.08" r="0.8419542029490364" fill="#1212ff" opacity="0.87"/>
<circle cx="492.85" cy="339.12" r="0.9002214572360999" fill="#1212ff" opacity="0.60"/>
<circle cx="515.27" cy="335.10" r="0.9502944786340195" fill="#1212ff" opacity="0.71"/>
<circle cx="515.21" cy="320.01" r="0.8817064966673823" fill="#1212ff" opacity="0.82"/>
<circle cx="521.22" cy="340.16" r="1.140503268071834" fill="#1212ff" opacity="0.81"/>
<circle cx="533.22" cy="323.98" r="1.0963086295958875" fill="#1212ff" opacity="0.91"/>
<circle cx="535.75" cy="328.52" r="0.9259953733999807" fill="#1212ff" opacity="0.96"/>
<circle cx="498.10" cy="365.71" r="1.1550166758801392" fill="#1212ff" opacity="0.57"/>
<circle cx="499.26" cy="350.90" r="0.9037990045186846" fill="#1212ff" opacity="0.55"/>
<circle cx="531.87" cy="334.28" r="1.1159743300224512" fill="#1212ff" opacity="0.56"/>
<circle cx="508.25" cy="348.64" r="0.8071034702541138" fill="#1212ff" opacity="0.60"/>
<circle cx="523.63" cy="360.97" r="1.1873513053695062" fill="#1212ff" opacity="0.56"/>
<circle cx="513.91" cy="352.62" r="1.0011141776996453" fill="#1212ff" opacity="0.84"/>
<circle cx="496.50" cy="315.15" r="0.8424693287143252" fill="#1212ff" opacity="0.52"/>
<circle cx="516.44" cy="339.36" r="1.0274968698062805" fill="#1212ff" opacity="0.57"/>
<circle cx="496.25" cy="322.41" r="1.1360857163608886" fill="#1212ff" opacity="1.00"/>
<circle cx="537.08" cy="316.49" r="0.8247780327035494" fill="#1212ff" opacity="0.98"/>
<circle cx="511.51" cy="352.98" r="0.9307309072938096" fill="#1212ff" opacity="0.73"/>
<circle cx="514.44" cy="334.74" r="1.0403719197903691" fill="#1212ff" opacity="0.51"/>
<circle cx="524.66" cy="357.31" r="0.8725076747177716" fill="#1212ff" opacity="0.73"/>
<circle cx="526.76" cy="333.39" r="0.8780503618862399" fill="#1212ff" opacity="0.58"/>
<circle cx="514.29" cy="312.14" r="1.157273999109343" fill="#1212ff" opacity="0.90"/>
<circle cx="524.86" cy="358.21" r="1.051754531084259" fill="#1212ff" opacity="0.70"/>
<circle cx="519.08" cy="338.78" r="1.1930720995097595" fill="#1212ff" opacity="0.90"/>
<circle cx="500.30" cy="360.97" r="1.0977739624469796" fill="#1212ff" opacity="0.89"/>
<circle cx="530.91" cy="333.41" r="1.1586180279550276" fill="#1212ff" opacity="0.94"/>
<circle cx="524.31" cy="353.12" r="1.1060916548417494" fill="#1212ff" opacity="0.70"/>
<circle cx="525.84" cy="315.15" r="0.9366874644210619" fill="#1212ff" opacity="0.73"/>
<circle cx="486.68" cy="330.68" r="1.0554848310431975" fill="#1212ff" opacity="0.81"/>
<circle cx="498.87" cy="362.78" r="1.0664374271001409" fill="#1212ff" opacity="0.67"/>
<circle cx="522.39" cy="342.34" r="1.0132318707610188" fill="#1212ff" opacity="0.69"/>
<circle cx="541.09" cy="346.30" r="1.0805002782333208" fill="#1212ff" opacity="0.88"/>
<circle cx="540.00" cy="312.54" r="1.0461585673929972" fill="#1212ff" opacity="0.87"/>
<circle cx="500.21" cy="333.18" r="0.8201827727595128" fill="#1212ff" opacity="0.60"/>
<circle cx="506.76" cy="316.67" r="0.9003549822440496" fill="#1212ff" opacity="0.95"/>
<circle cx="516.35" cy="338.98" r="1.1868545130511365" fill="#1212ff" opacity="0.78"/>
<circle cx="540.83" cy="346.07" r="1.1238112886090716" fill="#1212ff" opacity="0.54"/>
<circle cx="518.96" cy="352.68" r="0.8180454474282951" fill="#1212ff" opacity="0.97"/>
<circle cx="494.90" cy="337.01" r="0.8676490600576174" fill="#1212ff" opacity="0.75"/>
<circle cx="519.71" cy="314.49" r="1.1781093641952667" fill="#1212ff" opacity="0.71"/>
<circle cx="515.07" cy="343.88" r="0.9462301329684496" fill="#1212ff" opacity="0.64"/>
<circle cx="522.13" cy="341.86" r="0.913411389778831" fill="#1212ff" opacity="0.86"/>
<circle cx="502.38" cy="312.06" r="0.8980091261440754" fill="#1212ff" opacity="0.52"/>
<circle cx="494.71" cy="352.43" r="0.9559822233104451" fill="#1212ff" opacity="0.95"/>
<circle cx="527.26" cy="314.03" r="1.195507778892118" fill="#1212ff" opacity="0.97"/>
<circle cx="490.14" cy="360.65" r="0.9718062958691263" fill="#1212ff" opacity="0.74"/>
<circle cx="539.62" cy="324.58" r="1.0093437764003066" fill="#1212ff" opacity="0.97"/>
<circle cx="525.85" cy="336.83" r="1.1915283172129176" fill="#1212ff" opacity="0.91"/>
<circle cx="519.30" cy="317.57" r="1.049699188521975" fill="#1212ff" opacity="0.73"/>
<circle cx="497.30" cy="314.14" r="1.011239883764756" fill="#1212ff" opacity="0.56"/>
<circle cx="510.46" cy="347.70" r="0.9822213727267115" fill="#1212ff" opacity="0.63"/>
<circle cx="518.12" cy="334.16" r="1.1111867002960052" fill="#1212ff" opacity="0.77"/>
<circle cx="540.97" cy="363.22" r="1.0937138829495656" fill="#1212ff" opacity="0.62"/>
<circle cx="492.36" cy="359.95" r="1.113723526916957" fill="#1212ff" opacity="0.81"/>
<circle cx="505.86" cy="326.10" r="1.0740155360849961" fill="#1212ff" opacity="0.78"/>
<circle cx="518.64" cy="345.80" r="1.1013398386223199" fill="#1212ff" opacity="0.59"/>
<circle cx="499.79" cy="364.69" r="1.1662888055919938" fill="#1212ff" opacity="0.94"/>
<circle cx="488.27" cy="314.61" r="0.9083757795677152" fill="#1212ff" opacity="0.71"/>
<circle cx="520.38" cy="316.88" r="1.0166592695662033" fill="#1212ff" opacity="0.54"/>
<circle cx="490.85" cy="348.16" r="1.0202514446817461" fill="#1212ff" opacity="0.82"/>
<circle cx="506.63" cy="337.38" r="0.8842530528851013" fill="#1212ff" opacity="0.67"/>
<circle cx="527.07" cy="357.00" r="0.8297386610575097" fill="#1212ff" opacity="0.56"/>
<circle cx="530.61" cy="345.29" r="1.1075004064111054" fill="#1212ff" opacity="0.61"/>
<circle cx="509.44" cy="325.36" r="1.1239507888277922" fill="#1212ff" opacity="0.68"/>
<circle cx="522.05" cy="365.21" r="0.9301562437143495" fill="#1212ff" opacity="0.77"/>
<circle cx="527.14" cy="361.48" r="0.9710610230380488" fill="#1212ff" opacity="0.68"/>
<circle cx="491.44" cy="359.00" r="0.8314030484665423" fill="#1212ff" opacity="0.54"/>
<circle cx="517.13" cy="337.72" r="1.0741307689652215" fill="#1212ff" opacity="0.65"/>
<circle cx="528.75" cy="315.45" r="0.8853041467388987" fill="#1212ff" opacity="0.83"/>
<circle cx="490.59" cy="327.86" r="1.089998864424672" fill="#1212ff" opacity="0.85"/>
<circle cx="501.66" cy="319.09" r="0.9431206573762392" fill="#1212ff" opacity="0.86"/>
<circle cx="506.25" cy="317.70" r="1.0837099505692145" fill="#1212ff" opacity="0.78"/>
<circle cx="536.62" cy="362.53" r="1.1653501191115438" fill="#1212ff" opacity="0.72"/>
<circle cx="530.27" cy="327.91" r="0.9270476973689001" fill="#1212ff" opacity="0.70"/>
<circle cx="537.51" cy="360.06" r="0.8993220868238423" fill="#1212ff" opacity="0.68"/>
<circle cx="506.21" cy="331.10" r="0.9582438367152473" fill="#1212ff" opacity="0.69"/>
<circle cx="496.82" cy="342.03" r="1.1188331287808595" fill="#1212ff" opacity="0.77"/>
<circle cx="532.10" cy="341.97" r="0.8706368776850094" fill="#1212ff" opacity="0.88"/>
<circle cx="534.55" cy="326.64" r="0.808892036143661" fill="#1212ff" opacity="0.76"/>
<circle cx="516.03" cy="342.23" r="1.1865664214561589" fill="#1212ff" opacity="0.83"/>
<circle cx="530.34" cy="314.79" r="1.0187264362140735" fill="#1212ff" opacity="0.89"/>
<circle cx="490.72" cy="315.75" r="1.0948239687246248" fill="#1212ff" opacity="0.95"/>
<circle cx="490.76" cy="345.86" r="0.8575511756463332" fill="#1212ff" opacity="0.87"/>
<circle cx="521.80" cy="324.68" r="0.8881799384624028" fill="#1212ff" opacity="0.88"/>
<circle cx="514.79" cy="352.98" r="0.9577530305100692" fill="#1212ff" opacity="0.67"/>
<circle cx="539.35" cy="347.95" r="0.997464783454064" fill="#1212ff" opacity="0.77"/>
<circle cx="525.75" cy="349.89" r="1.165990737218382" fill="#1212ff" opacity="0.71"/>
<circle cx="531.54" cy="347.64" r="1.141401615750397" fill="#1212ff" opacity="0.90"/>
<circle cx="531.96" cy="359.73" r="1.1831147031227998" fill="#1212ff" opacity="0.82"/>
<circle cx="514.91" cy="350.00" r="1.1209013673958987" fill="#1212ff" opacity="0.71"/>
<circle cx="509.23" cy="319.27" r="1.0964928959675229" fill="#1212ff" opacity="1.00"/>
<circle cx="506.75" cy="320.44" r="0.8817458998838873" fill="#1212ff" opacity="0.71"/>
<circle cx="502.16" cy="364.15" r="0.8236828073008204" fill="#1212ff" opacity="0.65"/>
<circle cx="492.41" cy="346.61" r="1.1103740123502315" fill="#1212ff" opacity="0.59"/>
<circle cx="489.53" cy="336.30" r="1.03362657273137" fill="#1212ff" opacity="0.95"/>
<circle cx="488.10" cy="317.22" r="0.8738160352686649" fill="#1212ff" opacity="0.61"/>
<circle cx="499.05" cy="350.39" r="1.0379144206899704" fill="#1212ff" opacity="0.61"/>
<circle cx="496.27" cy="326.62" r="0.8690053460320181" fill="#1212ff" opacity="0.88"/>
<circle cx="503.25" cy="341.18" r="1.1268513576698618" fill="#1212ff" opacity="0.74"/>
<circle cx="500.43" cy="359.66" r="1.1657012014260786" fill="#1212ff" opacity="0.67"/>
<circle cx="516.20" cy="363.46" r="0.9930453952031653" fill="#1212ff" opacity="0.61"/>
<circle cx="488.83" cy="362.94" r="1.1205670618959649" fill="#1212ff" opacity="0.69"/>
<circle cx="515.12" cy="339.41" r="0.9098200404276797" fill="#1212ff" opacity="1.00"/>
<circle cx="522.27" cy="324.25" r="0.8043508615316477" fill="#1212ff" opacity="0.74"/>
<circle cx="506.54" cy="354.72" r="1.0853149963064146" fill="#1212ff" opacity="0.80"/>
<circle cx="494.75" cy="319.85" r="0.92872149987441" fill="#1212ff" opacity="0.63"/>
<circle cx="533.91" cy="339.43" r="1.0547866217543929" fill="#1212ff" opacity="1.00"/>
<circle cx="500.76" cy="340.43" r="0.8602613466139896" fill="#1212ff" opacity="0.89"/>
<circle cx="486.18" cy="356.07" r="1.1384731326968227" fill="#1212ff" opacity="0.91"/>
<circle cx="490.63" cy="326.01" r="1.0866091535328266" fill="#1212ff" opacity="0.55"/>
<circle cx="512.51" cy="336.84" r="1.1821976177352538" fill="#1212ff" opacity="0.79"/>
<circle cx="533.25" cy="327.85" r="1.1157286619775373" fill="#1212ff" opacity="0.71"/>
<circle cx="536.52" cy="316.26" r="1.130530454040142" fill="#1212ff" opacity="0.60"/>
<circle cx="515.99" cy="339.95" r="0.8630206076699324" fill="#1212ff" opacity="0.92"/>
<circle cx="503.23" cy="328.24" r="0.8304100381028375" fill="#1212ff" opacity="0.65"/>
<circle cx="511.80" cy="350.28" r="0.9438837977479241" fill="#1212ff" opacity="0.84"/>
</g>
<g filter="url(#d3)" clip-path="url(#ci03)">
<ellipse cx="485.8" cy="314.5" rx="0.9" ry="0.9" fill="#ff2cff" opacity="0.9" transform="rotate(0 485.8 314.5)"/>
<ellipse cx="489.0" cy="319.0" rx="1.0" ry="1.0" fill="#ff2cff" opacity="0.9" transform="rotate(0 489.0 319.0)"/>
<ellipse cx="499.2" cy="312.8" rx="1.0" ry="1.6" fill="#ff2cff" opacity="1" transform="rotate(35 499.2 312.8)"/>
<ellipse cx="506.6" cy="314.5" rx="1.2" ry="1.2" fill="#ff2cff" opacity="1" transform="rotate(0 506.6 314.5)"/>
<ellipse cx="501.7" cy="330.8" rx="1.1" ry="1.8" fill="#ff2cff" opacity="1" transform="rotate(25 501.7 330.8)"/>
<ellipse cx="527.6" cy="324.8" rx="1.2" ry="1.5" fill="#ff2cff" opacity="1" transform="rotate(0 527.6 324.8)"/>
<ellipse cx="518.4" cy="337.7" rx="1.6" ry="1.4" fill="#ff2cff" opacity="1" transform="rotate(0 518.4 337.7)"/>
<ellipse cx="525.0" cy="338.7" rx="0.8" ry="0.8" fill="#ff2cff" opacity="0.6" transform="rotate(0 525.0 338.7)"/>
<ellipse cx="518.1" cy="330.1" rx="0.6" ry="0.6" fill="#ff2cff" opacity="0.5" transform="rotate(0 518.1 330.1)"/>
<ellipse cx="526.0" cy="331.8" rx="0.6" ry="0.6" fill="#ff2cff" opacity="0.45" transform="rotate(0 526.0 331.8)"/>
<ellipse cx="537.1" cy="345.2" rx="1.0" ry="1.6" fill="#ff2cff" opacity="0.9" transform="rotate(30 537.1 345.2)"/>
<ellipse cx="538.4" cy="342.6" rx="0.6" ry="0.6" fill="#ff2cff" opacity="0.5" transform="rotate(0 538.4 342.6)"/>
<ellipse cx="531.2" cy="349.4" rx="0.6" ry="0.6" fill="#ff2cff" opacity="0.7" transform="rotate(0 531.2 349.4)"/>
<ellipse cx="513.1" cy="355.6" rx="0.9" ry="0.9" fill="#ff2cff" opacity="0.9" transform="rotate(0 513.1 355.6)"/>
<ellipse cx="521.8" cy="356.0" rx="1.2" ry="2.6" fill="#ff2cff" opacity="1" transform="rotate(15 521.8 356.0)"/>
<ellipse cx="525.7" cy="362.7" rx="1.9" ry="1.3" fill="#ff2cff" opacity="1" transform="rotate(-30 525.7 362.7)"/>
<ellipse cx="502.4" cy="361.6" rx="0.8" ry="0.9" fill="#ff2cff" opacity="0.85" transform="rotate(0 502.4 361.6)"/>
<ellipse cx="535.3" cy="360.2" rx="0.6" ry="0.6" fill="#ff2cff" opacity="0.7" transform="rotate(0 535.3 360.2)"/>
<ellipse cx="503.1" cy="346.3" rx="0.5" ry="0.5" fill="#ff2cff" opacity="0.4" transform="rotate(0 503.1 346.3)"/>
<ellipse cx="487.1" cy="334.3" rx="0.4" ry="0.4" fill="#ff2cff" opacity="0.3" transform="rotate(0 487.1 334.3)"/>
</g>
<g filter="url(#d1)" clip-path="url(#ci03)">
<ellipse cx="497.8" cy="314.2" rx="1.2" ry="1.2" fill="#20e090" opacity="0.80"/>
<ellipse cx="502.0" cy="330.8" rx="1.0" ry="1.0" fill="#20e090" opacity="0.60"/>
<ellipse cx="502.4" cy="334.3" rx="0.5" ry="0.5" fill="#20e090" opacity="0.48"/>
<ellipse cx="510.7" cy="324.6" rx="0.8" ry="0.8" fill="#20e090" opacity="0.36"/>
<ellipse cx="524.3" cy="323.7" rx="0.7" ry="0.7" fill="#20e090" opacity="0.40"/>
<ellipse cx="526.0" cy="332.2" rx="0.9" ry="0.9" fill="#20e090" opacity="0.72"/>
<ellipse cx="532.2" cy="330.8" rx="1.1" ry="1.1" fill="#20e090" opacity="0.56"/>
<ellipse cx="518.5" cy="337.3" rx="0.6" ry="0.6" fill="#20e090" opacity="0.72"/>
<ellipse cx="512.5" cy="340.5" rx="0.7" ry="0.7" fill="#20e090" opacity="0.56"/>
<ellipse cx="541.6" cy="348.0" rx="1.0" ry="1.0" fill="#20e090" opacity="0.80"/>
<ellipse cx="521.5" cy="353.5" rx="0.7" ry="0.7" fill="#20e090" opacity="0.48"/>
<ellipse cx="525.3" cy="360.9" rx="1.1" ry="1.1" fill="#20e090" opacity="0.36"/>
<ellipse cx="528.5" cy="361.3" rx="0.8" ry="0.8" fill="#20e090" opacity="0.40"/>
<ellipse cx="530.5" cy="361.3" rx="0.6" ry="0.6" fill="#20e090" opacity="0.80"/>
<ellipse cx="527.8" cy="363.6" rx="0.5" ry="0.5" fill="#20e090" opacity="0.32"/>
<ellipse cx="500.1" cy="312.7" rx="0.5" ry="0.5" fill="#20e090" opacity="0.32"/>
</g>
<g filter="url(#d1)" clip-path="url(#ci10)">
<ellipse cx="325.3" cy="382.1" rx="0.9" ry="0.9" fill="#1fe01f" opacity="1.00"/>
<ellipse cx="313.9" cy="381.4" rx="0.9" ry="1.6" fill="#1fe01f" opacity="0.50"/>
<ellipse cx="318.5" cy="373.4" rx="0.6" ry="0.6" fill="#1fe01f" opacity="0.60"/>
<ellipse cx="333.3" cy="375.2" rx="0.6" ry="0.6" fill="#1fe01f" opacity="0.70"/>
<ellipse cx="342.3" cy="376.8" rx="0.7" ry="0.7" fill="#1fe01f" opacity="0.40"/>
<ellipse cx="359.4" cy="373.4" rx="0.6" ry="0.6" fill="#1fe01f" opacity="0.50"/>
<ellipse cx="353.4" cy="379.3" rx="0.5" ry="0.5" fill="#1fe01f" opacity="0.40"/>
<ellipse cx="325.0" cy="392.2" rx="0.7" ry="0.7" fill="#1fe01f" opacity="0.60"/>
<ellipse cx="322.5" cy="396.0" rx="0.7" ry="0.7" fill="#1fe01f" opacity="0.70"/>
<ellipse cx="333.3" cy="396.4" rx="0.7" ry="0.7" fill="#1fe01f" opacity="0.80"/>
<ellipse cx="340.0" cy="395.0" rx="0.8" ry="1.6" fill="#1fe01f" opacity="1.00"/>
<ellipse cx="347.9" cy="396.0" rx="1.0" ry="1.0" fill="#1fe01f" opacity="0.90"/>
<ellipse cx="345.1" cy="398.0" rx="0.6" ry="0.6" fill="#1fe01f" opacity="0.50"/>
<ellipse cx="361.5" cy="400.1" rx="0.6" ry="0.6" fill="#1fe01f" opacity="0.90"/>
<ellipse cx="341.6" cy="405.2" rx="0.8" ry="0.8" fill="#1fe01f" opacity="0.80"/>
<ellipse cx="338.6" cy="401.5" rx="0.6" ry="0.6" fill="#1fe01f" opacity="0.50"/>
<ellipse cx="327.5" cy="402.6" rx="0.6" ry="0.6" fill="#1fe01f" opacity="0.40"/>
<ellipse cx="328.2" cy="411.6" rx="1.2" ry="1.2" fill="#1fe01f" opacity="0.90"/>
<ellipse cx="353.7" cy="407.3" rx="0.8" ry="0.8" fill="#1fe01f" opacity="0.80"/>
<ellipse cx="354.8" cy="409.5" rx="1.0" ry="1.0" fill="#1fe01f" opacity="0.90"/>
<ellipse cx="357.3" cy="410.9" rx="1.0" ry="1.0" fill="#1fe01f" opacity="0.90"/>
<ellipse cx="353.1" cy="413.7" rx="1.6" ry="1.0" fill="#1fe01f" opacity="1.00"/>
<ellipse cx="342.3" cy="414.7" rx="1.0" ry="1.0" fill="#1fe01f" opacity="0.50"/>
<ellipse cx="335.1" cy="420.2" rx="0.7" ry="0.7" fill="#1fe01f" opacity="0.50"/>
<ellipse cx="326.4" cy="423.7" rx="0.6" ry="0.6" fill="#1fe01f" opacity="0.60"/>
<ellipse cx="344.1" cy="422.3" rx="0.6" ry="0.6" fill="#1fe01f" opacity="0.50"/>
<ellipse cx="352.0" cy="424.3" rx="0.8" ry="0.8" fill="#1fe01f" opacity="0.60"/>
<ellipse cx="310.5" cy="403.2" rx="0.5" ry="0.5" fill="#1fe01f" opacity="0.50"/>
<ellipse cx="319.5" cy="414.4" rx="0.5" ry="0.5" fill="#1fe01f" opacity="0.50"/>
<ellipse cx="362.4" cy="403.6" rx="0.5" ry="0.5" fill="#1fe01f" opacity="0.60"/>
<ellipse cx="317.1" cy="376.6" rx="0.5" ry="0.5" fill="#1fe01f" opacity="0.40"/>
<ellipse cx="358.7" cy="389.0" rx="0.6" ry="0.6" fill="#1fe01f" opacity="0.30"/>
<ellipse cx="348.6" cy="403.6" rx="0.5" ry="0.5" fill="#1fe01f" opacity="0.40"/>
<ellipse cx="354.5" cy="416.7" rx="0.5" ry="0.5" fill="#1fe01f" opacity="0.50"/>
<ellipse cx="338.2" cy="379.3" rx="0.5" ry="0.5" fill="#1fe01f" opacity="0.30"/>
<ellipse cx="342.0" cy="409.4" rx="0.5" ry="0.5" fill="#1fe01f" opacity="0.27"/>
<ellipse cx="358.9" cy="409.3" rx="0.5" ry="0.5" fill="#1fe01f" opacity="0.29"/>
<ellipse cx="310.5" cy="395.0" rx="0.5" ry="0.5" fill="#1fe01f" opacity="0.29"/>
<ellipse cx="343.4" cy="417.6" rx="0.5" ry="0.5" fill="#1fe01f" opacity="0.17"/>
<ellipse cx="333.9" cy="383.6" rx="0.5" ry="0.5" fill="#1fe01f" opacity="0.23"/>
<ellipse cx="339.4" cy="371.5" rx="0.5" ry="0.5" fill="#1fe01f" opacity="0.18"/>
<ellipse cx="323.8" cy="418.4" rx="0.5" ry="0.5" fill="#1fe01f" opacity="0.26"/>
<ellipse cx="317.5" cy="412.3" rx="0.5" ry="0.5" fill="#1fe01f" opacity="0.17"/>
<ellipse cx="341.7" cy="377.4" rx="0.5" ry="0.5" fill="#1fe01f" opacity="0.15"/>
<ellipse cx="355.2" cy="381.7" rx="0.5" ry="0.5" fill="#1fe01f" opacity="0.18"/>
<ellipse cx="361.1" cy="416.2" rx="0.5" ry="0.5" fill="#1fe01f" opacity="0.19"/>
<ellipse cx="360.0" cy="398.8" rx="0.5" ry="0.5" fill="#1fe01f" opacity="0.25"/>
<ellipse cx="319.9" cy="419.7" rx="0.5" ry="0.5" fill="#1fe01f" opacity="0.25"/>
<ellipse cx="360.2" cy="417.3" rx="0.5" ry="0.5" fill="#1fe01f" opacity="0.19"/>
<ellipse cx="328.1" cy="379.4" rx="0.5" ry="0.5" fill="#1fe01f" opacity="0.17"/>
<ellipse cx="312.5" cy="386.5" rx="0.5" ry="0.5" fill="#1fe01f" opacity="0.24"/>
<ellipse cx="309.2" cy="406.1" rx="0.5" ry="0.5" fill="#1fe01f" opacity="0.20"/>
<ellipse cx="325.4" cy="413.4" rx="0.5" ry="0.5" fill="#1fe01f" opacity="0.22"/>
<ellipse cx="325.7" cy="395.8" rx="0.5" ry="0.5" fill="#1fe01f" opacity="0.26"/>
<ellipse cx="312.0" cy="421.5" rx="0.5" ry="0.5" fill="#1fe01f" opacity="0.15"/>
<ellipse cx="348.7" cy="414.7" rx="0.5" ry="0.5" fill="#1fe01f" opacity="0.15"/>
<ellipse cx="350.8" cy="389.8" rx="0.5" ry="0.5" fill="#1fe01f" opacity="0.24"/>
<ellipse cx="309.5" cy="373.2" rx="0.5" ry="0.5" fill="#1fe01f" opacity="0.18"/>
<ellipse cx="359.6" cy="381.0" rx="0.5" ry="0.5" fill="#1fe01f" opacity="0.26"/>
<ellipse cx="358.3" cy="419.8" rx="0.5" ry="0.5" fill="#1fe01f" opacity="0.20"/>
<ellipse cx="327.8" cy="398.1" rx="0.5" ry="0.5" fill="#1fe01f" opacity="0.27"/>
<ellipse cx="314.7" cy="409.7" rx="0.5" ry="0.5" fill="#1fe01f" opacity="0.27"/>
<ellipse cx="354.6" cy="372.7" rx="0.5" ry="0.5" fill="#1fe01f" opacity="0.29"/>
<ellipse cx="313.8" cy="388.5" rx="0.5" ry="0.5" fill="#1fe01f" opacity="0.24"/>
<ellipse cx="357.7" cy="388.5" rx="0.5" ry="0.5" fill="#1fe01f" opacity="0.29"/>
<ellipse cx="337.9" cy="387.0" rx="0.5" ry="0.5" fill="#1fe01f" opacity="0.20"/>
<ellipse cx="318.4" cy="374.9" rx="0.5" ry="0.5" fill="#1fe01f" opacity="0.17"/>
<ellipse cx="345.5" cy="422.6" rx="0.5" ry="0.5" fill="#1fe01f" opacity="0.17"/>
<ellipse cx="311.6" cy="422.1" rx="0.5" ry="0.5" fill="#1fe01f" opacity="0.23"/>
<ellipse cx="330.5" cy="383.1" rx="0.5" ry="0.5" fill="#1fe01f" opacity="0.24"/>
<ellipse cx="352.8" cy="394.5" rx="0.5" ry="0.5" fill="#1fe01f" opacity="0.21"/>
<ellipse cx="312.0" cy="418.4" rx="0.5" ry="0.5" fill="#1fe01f" opacity="0.15"/>
<ellipse cx="335.2" cy="414.4" rx="0.5" ry="0.5" fill="#1fe01f" opacity="0.17"/>
<ellipse cx="347.8" cy="420.2" rx="0.5" ry="0.5" fill="#1fe01f" opacity="0.24"/>
<ellipse cx="350.8" cy="376.3" rx="0.5" ry="0.5" fill="#1fe01f" opacity="0.22"/>
<ellipse cx="316.9" cy="414.7" rx="0.5" ry="0.5" fill="#1fe01f" opacity="0.19"/>
<ellipse cx="333.0" cy="422.8" rx="0.5" ry="0.5" fill="#1fe01f" opacity="0.28"/>
<ellipse cx="360.7" cy="394.4" rx="0.5" ry="0.5" fill="#1fe01f" opacity="0.22"/>
<ellipse cx="347.7" cy="395.7" rx="0.5" ry="0.5" fill="#1fe01f" opacity="0.19"/>
<ellipse cx="330.4" cy="378.4" rx="0.5" ry="0.5" fill="#1fe01f" opacity="0.21"/>
</g>
<g filter="url(#d3)" clip-path="url(#ci11)">
<ellipse cx="373.6" cy="381.1" rx="1.1" ry="2.0" fill="#ff2cff" opacity="1" transform="rotate(25 373.6 381.1)"/>
<ellipse cx="398.5" cy="380.3" rx="1.2" ry="1.7" fill="#ff2cff" opacity="1" transform="rotate(30 398.5 380.3)"/>
<ellipse cx="420.4" cy="372.4" rx="0.8" ry="0.8" fill="#ff2cff" opacity="0.9" transform="rotate(0 420.4 372.4)"/>
<ellipse cx="407.7" cy="381.1" rx="0.5" ry="0.5" fill="#ff2cff" opacity="0.4" transform="rotate(0 407.7 381.1)"/>
<ellipse cx="384.4" cy="391.8" rx="0.6" ry="0.6" fill="#ff2cff" opacity="0.4" transform="rotate(0 384.4 391.8)"/>
<ellipse cx="379.6" cy="396.9" rx="1.0" ry="1.0" fill="#ff2cff" opacity="0.9" transform="rotate(0 379.6 396.9)"/>
<ellipse cx="381.6" cy="396.2" rx="0.6" ry="0.6" fill="#ff2cff" opacity="0.7" transform="rotate(0 381.6 396.2)"/>
<ellipse cx="399.0" cy="393.9" rx="2.3" ry="1.0" fill="#ff2cff" opacity="1" transform="rotate(50 399.0 393.9)"/>
<ellipse cx="403.1" cy="396.0" rx="1.0" ry="0.8" fill="#ff2cff" opacity="0.9" transform="rotate(0 403.1 396.0)"/>
<ellipse cx="409.6" cy="396.9" rx="2.3" ry="1.1" fill="#ff2cff" opacity="1" transform="rotate(12 409.6 396.9)"/>
<ellipse cx="421.1" cy="400.1" rx="0.7" ry="0.7" fill="#ff2cff" opacity="0.5" transform="rotate(0 421.1 400.1)"/>
<ellipse cx="419.1" cy="402.6" rx="0.6" ry="0.6" fill="#ff2cff" opacity="0.4" transform="rotate(0 419.1 402.6)"/>
<ellipse cx="406.3" cy="405.2" rx="0.6" ry="0.6" fill="#ff2cff" opacity="0.7" transform="rotate(0 406.3 405.2)"/>
<ellipse cx="413.5" cy="406.8" rx="1.0" ry="1.0" fill="#ff2cff" opacity="0.9" transform="rotate(0 413.5 406.8)"/>
<ellipse cx="374.0" cy="408.2" rx="1.6" ry="2.6" fill="#ff2cff" opacity="1" transform="rotate(30 374.0 408.2)"/>
<ellipse cx="387.2" cy="411.9" rx="1.2" ry="1.2" fill="#ff2cff" opacity="1" transform="rotate(0 387.2 411.9)"/>
<ellipse cx="387.9" cy="404.5" rx="0.5" ry="0.5" fill="#ff2cff" opacity="0.4" transform="rotate(0 387.9 404.5)"/>
<ellipse cx="411.8" cy="413.7" rx="2.6" ry="3.4" fill="#ff2cff" opacity="1" transform="rotate(25 411.8 413.7)"/>
<ellipse cx="418.1" cy="420.2" rx="0.6" ry="0.6" fill="#ff2cff" opacity="0.7" transform="rotate(0 418.1 420.2)"/>
<ellipse cx="385.5" cy="423.4" rx="0.5" ry="0.5" fill="#ff2cff" opacity="0.6" transform="rotate(0 385.5 423.4)"/>
<ellipse cx="399.7" cy="423.0" rx="0.5" ry="0.5" fill="#ff2cff" opacity="0.6" transform="rotate(0 399.7 423.0)"/>
<ellipse cx="370.6" cy="424.3" rx="0.4" ry="0.4" fill="#ff2cff" opacity="0.5" transform="rotate(0 370.6 424.3)"/>
</g>
<g filter="url(#d2)" clip-path="url(#ci12)">
<circle cx="477.67" cy="421.50" r="1.0569733376194317" fill="#1212ff" opacity="0.44"/>
<circle cx="459.36" cy="392.89" r="0.9120352040472026" fill="#1212ff" opacity="0.47"/>
<circle cx="437.36" cy="394.03" r="0.7884156692628876" fill="#1212ff" opacity="0.63"/>
<circle cx="428.16" cy="374.47" r="0.9840032800979641" fill="#1212ff" opacity="0.61"/>
<circle cx="454.99" cy="409.81" r="0.8435985439144799" fill="#1212ff" opacity="0.43"/>
<circle cx="469.87" cy="401.91" r="0.9631650840399582" fill="#1212ff" opacity="0.71"/>
<circle cx="480.19" cy="389.57" r="1.0039146448974123" fill="#1212ff" opacity="0.58"/>
<circle cx="458.26" cy="405.80" r="0.8257564442544746" fill="#1212ff" opacity="0.44"/>
<circle cx="452.87" cy="408.93" r="0.9362438791736681" fill="#1212ff" opacity="0.62"/>
<circle cx="462.13" cy="379.72" r="0.7714159802603324" fill="#1212ff" opacity="0.56"/>
<circle cx="471.67" cy="380.46" r="0.7457204821179125" fill="#1212ff" opacity="0.45"/>
<circle cx="428.94" cy="384.82" r="0.9291287579553752" fill="#1212ff" opacity="0.81"/>
<circle cx="444.99" cy="389.95" r="0.8153937296335585" fill="#1212ff" opacity="0.55"/>
<circle cx="469.57" cy="399.72" r="0.8033674095557131" fill="#1212ff" opacity="0.45"/>
<circle cx="469.91" cy="408.34" r="1.031426130214376" fill="#1212ff" opacity="0.52"/>
<circle cx="456.80" cy="419.87" r="0.9370782944570425" fill="#1212ff" opacity="0.87"/>
<circle cx="436.00" cy="422.94" r="0.7223679233516785" fill="#1212ff" opacity="0.61"/>
<circle cx="428.08" cy="413.92" r="0.9748821437738417" fill="#1212ff" opacity="0.89"/>
<circle cx="471.07" cy="421.51" r="0.915438449217794" fill="#1212ff" opacity="0.89"/>
<circle cx="468.00" cy="388.66" r="1.0897564613468285" fill="#1212ff" opacity="0.59"/>
<circle cx="437.43" cy="373.94" r="0.8863831208594866" fill="#1212ff" opacity="0.50"/>
<circle cx="478.15" cy="421.60" r="0.7863804432501017" fill="#1212ff" opacity="0.45"/>
<circle cx="455.89" cy="379.05" r="0.9174593346058999" fill="#1212ff" opacity="0.81"/>
<circle cx="440.72" cy="392.79" r="1.0603480041378113" fill="#1212ff" opacity="0.62"/>
<circle cx="445.65" cy="418.43" r="1.025502378240485" fill="#1212ff" opacity="0.85"/>
<circle cx="464.63" cy="392.29" r="0.9772091774958773" fill="#1212ff" opacity="0.81"/>
<circle cx="461.97" cy="382.79" r="0.8181012702736505" fill="#1212ff" opacity="0.60"/>
<circle cx="469.24" cy="400.16" r="0.9199749977931859" fill="#1212ff" opacity="0.81"/>
<circle cx="432.76" cy="404.20" r="0.8330009220985557" fill="#1212ff" opacity="0.68"/>
<circle cx="472.74" cy="383.34" r="1.0806072135586158" fill="#1212ff" opacity="0.44"/>
<circle cx="457.71" cy="399.33" r="0.7940322365967201" fill="#1212ff" opacity="0.68"/>
<circle cx="452.69" cy="394.30" r="0.9873520769838049" fill="#1212ff" opacity="0.40"/>
<circle cx="447.54" cy="412.62" r="0.7567453376924351" fill="#1212ff" opacity="0.83"/>
<circle cx="438.00" cy="406.92" r="0.7692661722142015" fill="#1212ff" opacity="0.62"/>
<circle cx="450.04" cy="374.26" r="0.9798426636375874" fill="#1212ff" opacity="0.64"/>
<circle cx="464.70" cy="399.18" r="0.9223483359147515" fill="#1212ff" opacity="0.66"/>
<circle cx="443.18" cy="418.78" r="0.7345562434986149" fill="#1212ff" opacity="0.84"/>
<circle cx="474.29" cy="396.93" r="1.0107792914445766" fill="#1212ff" opacity="0.74"/>
<circle cx="460.08" cy="385.69" r="0.827859545968064" fill="#1212ff" opacity="0.57"/>
<circle cx="443.42" cy="422.10" r="0.8365107898725461" fill="#1212ff" opacity="0.59"/>
<circle cx="449.88" cy="414.30" r="0.8911035172817663" fill="#1212ff" opacity="0.68"/>
<circle cx="440.85" cy="384.95" r="0.7356352012873275" fill="#1212ff" opacity="0.51"/>
<circle cx="441.31" cy="416.25" r="0.9009879600138986" fill="#1212ff" opacity="0.46"/>
<circle cx="452.25" cy="376.39" r="0.9264107578089136" fill="#1212ff" opacity="0.62"/>
<circle cx="474.01" cy="383.93" r="1.040344804857108" fill="#1212ff" opacity="0.52"/>
<circle cx="480.84" cy="404.36" r="0.717071850320274" fill="#1212ff" opacity="0.80"/>
<circle cx="441.96" cy="389.54" r="0.7586334217250987" fill="#1212ff" opacity="0.82"/>
<circle cx="431.77" cy="410.04" r="0.8582900363529936" fill="#1212ff" opacity="0.74"/>
<circle cx="442.92" cy="374.07" r="1.066067974854733" fill="#1212ff" opacity="0.73"/>
<circle cx="436.13" cy="423.00" r="1.064727096991756" fill="#1212ff" opacity="0.49"/>
<circle cx="427.85" cy="403.10" r="0.7556606797343844" fill="#1212ff" opacity="0.77"/>
<circle cx="452.59" cy="408.44" r="0.9279165530053115" fill="#1212ff" opacity="0.79"/>
<circle cx="471.99" cy="402.66" r="0.9365592244339306" fill="#1212ff" opacity="0.56"/>
<circle cx="434.17" cy="374.84" r="1.0427775359578813" fill="#1212ff" opacity="0.50"/>
<circle cx="450.26" cy="387.06" r="0.9478558189346836" fill="#1212ff" opacity="0.67"/>
<circle cx="474.05" cy="393.56" r="0.8447622702468991" fill="#1212ff" opacity="0.73"/>
<circle cx="467.76" cy="420.24" r="0.8247322572961076" fill="#1212ff" opacity="0.84"/>
<circle cx="480.78" cy="423.34" r="0.7516780923503682" fill="#1212ff" opacity="0.59"/>
<circle cx="469.37" cy="415.09" r="0.7158062532292109" fill="#1212ff" opacity="0.60"/>
<circle cx="466.63" cy="411.13" r="0.9140367155128062" fill="#1212ff" opacity="0.51"/>
<circle cx="449.17" cy="372.99" r="0.8262728444812941" fill="#1212ff" opacity="0.61"/>
<circle cx="472.06" cy="401.92" r="0.8657462786631069" fill="#1212ff" opacity="0.52"/>
<circle cx="444.14" cy="406.36" r="0.8781834269120755" fill="#1212ff" opacity="0.49"/>
<circle cx="472.00" cy="401.17" r="1.0870076656827865" fill="#1212ff" opacity="0.67"/>
<circle cx="461.07" cy="393.11" r="0.943313399498762" fill="#1212ff" opacity="0.86"/>
<circle cx="480.77" cy="405.82" r="0.8720957278642919" fill="#1212ff" opacity="0.43"/>
<circle cx="473.01" cy="391.13" r="0.8529790975290206" fill="#1212ff" opacity="0.43"/>
<circle cx="428.68" cy="391.08" r="1.0898918179959607" fill="#1212ff" opacity="0.77"/>
<circle cx="465.78" cy="406.23" r="0.809149264452498" fill="#1212ff" opacity="0.48"/>
<circle cx="459.93" cy="373.26" r="0.9352306211340282" fill="#1212ff" opacity="0.66"/>
<circle cx="456.64" cy="376.41" r="0.7270398033365402" fill="#1212ff" opacity="0.64"/>
<circle cx="434.81" cy="404.76" r="0.8238143924396208" fill="#1212ff" opacity="0.71"/>
<circle cx="468.06" cy="402.85" r="0.9126332868502911" fill="#1212ff" opacity="0.50"/>
<circle cx="445.90" cy="423.10" r="0.807427688550142" fill="#1212ff" opacity="0.54"/>
<circle cx="453.93" cy="399.55" r="1.0162977532800674" fill="#1212ff" opacity="0.55"/>
<circle cx="479.76" cy="371.01" r="1.0161450107955672" fill="#1212ff" opacity="0.68"/>
<circle cx="476.36" cy="378.14" r="0.9756879919191555" fill="#1212ff" opacity="0.87"/>
<circle cx="463.49" cy="375.93" r="1.0683741519167447" fill="#1212ff" opacity="0.88"/>
<circle cx="432.89" cy="414.89" r="0.7317314738907786" fill="#1212ff" opacity="0.44"/>
<circle cx="470.55" cy="409.04" r="1.0828748760713036" fill="#1212ff" opacity="0.72"/>
<circle cx="454.94" cy="384.63" r="0.9291421783620445" fill="#1212ff" opacity="0.90"/>
<circle cx="462.37" cy="417.52" r="0.7789792714133995" fill="#1212ff" opacity="0.77"/>
<circle cx="467.05" cy="373.66" r="1.028079778348466" fill="#1212ff" opacity="0.49"/>
<circle cx="438.75" cy="373.14" r="0.9650680717753811" fill="#1212ff" opacity="0.47"/>
<circle cx="480.46" cy="369.80" r="1.023796109515911" fill="#1212ff" opacity="0.78"/>
<circle cx="458.11" cy="400.97" r="1.0191913010054794" fill="#1212ff" opacity="0.72"/>
<circle cx="434.47" cy="413.23" r="0.8415513445315681" fill="#1212ff" opacity="0.69"/>
<circle cx="454.98" cy="419.07" r="0.8657442838203206" fill="#1212ff" opacity="0.83"/>
<circle cx="431.30" cy="387.58" r="0.9682297310772583" fill="#1212ff" opacity="0.71"/>
<circle cx="472.58" cy="381.13" r="1.0216768736875865" fill="#1212ff" opacity="0.80"/>
<circle cx="434.66" cy="377.42" r="0.9333149721299551" fill="#1212ff" opacity="0.89"/>
<circle cx="460.56" cy="393.12" r="0.9027465051313917" fill="#1212ff" opacity="0.80"/>
<circle cx="455.53" cy="399.05" r="0.9373137700575954" fill="#1212ff" opacity="0.87"/>
<circle cx="470.82" cy="415.53" r="0.8064819802547216" fill="#1212ff" opacity="0.70"/>
<circle cx="472.07" cy="408.94" r="1.0807265366234706" fill="#1212ff" opacity="0.86"/>
<circle cx="433.82" cy="397.50" r="0.8431046189790765" fill="#1212ff" opacity="0.50"/>
<circle cx="454.34" cy="423.41" r="1.0073090339074344" fill="#1212ff" opacity="0.45"/>
<circle cx="440.43" cy="389.95" r="1.0540598017726655" fill="#1212ff" opacity="0.63"/>
<circle cx="435.57" cy="399.79" r="0.7988904933193881" fill="#1212ff" opacity="0.42"/>
<circle cx="459.40" cy="423.80" r="1.0103665087530025" fill="#1212ff" opacity="0.77"/>
<circle cx="435.19" cy="400.41" r="0.954770305846369" fill="#1212ff" opacity="0.78"/>
<circle cx="451.37" cy="372.71" r="1.0710829940140072" fill="#1212ff" opacity="0.53"/>
<circle cx="467.41" cy="395.10" r="1.0116781165404702" fill="#1212ff" opacity="0.57"/>
<circle cx="431.89" cy="393.13" r="0.8920068496158515" fill="#1212ff" opacity="0.80"/>
<circle cx="449.01" cy="406.12" r="0.8505238909764224" fill="#1212ff" opacity="0.77"/>
<circle cx="436.38" cy="417.76" r="1.0777562113637953" fill="#1212ff" opacity="0.41"/>
<circle cx="474.01" cy="412.20" r="0.9772017513114823" fill="#1212ff" opacity="0.45"/>
<circle cx="467.11" cy="411.86" r="0.9505110646764905" fill="#1212ff" opacity="0.88"/>
<circle cx="478.88" cy="404.33" r="1.0700088909259398" fill="#1212ff" opacity="0.47"/>
<circle cx="443.21" cy="398.68" r="0.9090706811644322" fill="#1212ff" opacity="0.88"/>
<circle cx="461.78" cy="403.66" r="0.9485081333882925" fill="#1212ff" opacity="0.87"/>
<circle cx="448.82" cy="410.10" r="0.9400623895787499" fill="#1212ff" opacity="0.60"/>
<circle cx="445.45" cy="378.18" r="0.7043627378096484" fill="#1212ff" opacity="0.57"/>
<circle cx="443.31" cy="374.23" r="0.894191487072963" fill="#1212ff" opacity="0.58"/>
<circle cx="477.73" cy="412.34" r="0.9660333655979482" fill="#1212ff" opacity="0.82"/>
<circle cx="441.91" cy="376.14" r="0.9438780653799974" fill="#1212ff" opacity="0.51"/>
<circle cx="480.98" cy="392.96" r="1.0544493372211705" fill="#1212ff" opacity="0.52"/>
<circle cx="431.96" cy="403.97" r="0.9771592326781056" fill="#1212ff" opacity="0.53"/>
<circle cx="477.77" cy="422.84" r="0.9749049042826303" fill="#1212ff" opacity="0.89"/>
<circle cx="480.87" cy="377.87" r="0.9921436528008011" fill="#1212ff" opacity="0.77"/>
<circle cx="467.05" cy="388.31" r="0.9173272079864773" fill="#1212ff" opacity="0.69"/>
<circle cx="473.55" cy="372.60" r="0.8500831928796999" fill="#1212ff" opacity="0.56"/>
<circle cx="470.34" cy="376.16" r="0.7246759299260822" fill="#1212ff" opacity="0.46"/>
<circle cx="433.18" cy="393.52" r="1.0462794069222345" fill="#1212ff" opacity="0.58"/>
<circle cx="432.36" cy="406.31" r="0.8330670723161369" fill="#1212ff" opacity="0.69"/>
<circle cx="467.92" cy="394.65" r="0.9933128565524172" fill="#1212ff" opacity="0.71"/>
<circle cx="473.65" cy="411.35" r="1.060480170246195" fill="#1212ff" opacity="0.77"/>
<circle cx="442.32" cy="397.30" r="1.0089095254377338" fill="#1212ff" opacity="0.79"/>
<circle cx="466.97" cy="415.75" r="1.0298243297848146" fill="#1212ff" opacity="0.67"/>
<circle cx="462.03" cy="372.19" r="0.8909815103214156" fill="#1212ff" opacity="0.76"/>
<circle cx="477.04" cy="416.03" r="0.8757214658835025" fill="#1212ff" opacity="0.51"/>
<circle cx="475.51" cy="405.62" r="0.776636262846037" fill="#1212ff" opacity="0.42"/>
<circle cx="475.09" cy="401.23" r="0.7437878528479515" fill="#1212ff" opacity="0.89"/>
<circle cx="459.10" cy="411.15" r="1.0225643762033347" fill="#1212ff" opacity="0.53"/>
<circle cx="455.53" cy="379.18" r="0.9449723928913285" fill="#1212ff" opacity="0.62"/>
<circle cx="470.25" cy="376.11" r="0.7822147486717208" fill="#1212ff" opacity="0.59"/>
<circle cx="426.89" cy="391.96" r="1.0850264779810432" fill="#1212ff" opacity="0.83"/>
<circle cx="436.70" cy="415.13" r="0.7900374508431561" fill="#1212ff" opacity="0.52"/>
<circle cx="461.87" cy="385.83" r="0.7805046362122803" fill="#1212ff" opacity="0.44"/>
<circle cx="436.52" cy="380.29" r="1.0647483526740171" fill="#1212ff" opacity="0.42"/>
<circle cx="456.51" cy="381.37" r="0.9881111741662854" fill="#1212ff" opacity="0.40"/>
<circle cx="447.23" cy="410.00" r="0.7103612527711449" fill="#1212ff" opacity="0.61"/>
<circle cx="444.73" cy="396.19" r="0.9514634691646298" fill="#1212ff" opacity="0.44"/>
<circle cx="474.43" cy="384.52" r="1.0088260200791075" fill="#1212ff" opacity="0.47"/>
<circle cx="431.96" cy="380.36" r="0.7335479646895433" fill="#1212ff" opacity="0.52"/>
<circle cx="434.48" cy="374.51" r="1.0407460047014" fill="#1212ff" opacity="0.66"/>
<circle cx="454.11" cy="397.50" r="1.0242111349105303" fill="#1212ff" opacity="0.42"/>
<circle cx="429.29" cy="406.11" r="0.702807934047843" fill="#1212ff" opacity="0.65"/>
<circle cx="461.17" cy="416.10" r="0.7002665179094889" fill="#1212ff" opacity="0.60"/>
<circle cx="444.01" cy="401.42" r="0.7132069299577171" fill="#1212ff" opacity="0.78"/>
<circle cx="479.43" cy="399.70" r="0.9664867786322221" fill="#1212ff" opacity="0.82"/>
<circle cx="473.21" cy="414.46" r="0.8948940496602552" fill="#1212ff" opacity="0.44"/>
<circle cx="470.49" cy="415.78" r="0.9803754980150081" fill="#1212ff" opacity="0.56"/>
<circle cx="480.42" cy="403.74" r="0.8249602088133862" fill="#1212ff" opacity="0.79"/>
<circle cx="439.13" cy="382.92" r="1.0620989234279894" fill="#1212ff" opacity="0.43"/>
<circle cx="474.64" cy="391.42" r="0.9288089465370339" fill="#1212ff" opacity="0.75"/>
<circle cx="476.44" cy="381.78" r="0.7371748623197973" fill="#1212ff" opacity="0.66"/>
<circle cx="439.13" cy="392.92" r="0.7440933005266266" fill="#1212ff" opacity="0.45"/>
<circle cx="458.01" cy="372.62" r="0.8066407116528759" fill="#1212ff" opacity="0.59"/>
<circle cx="432.02" cy="413.70" r="1.0606250501454848" fill="#1212ff" opacity="0.42"/>
<circle cx="471.18" cy="379.39" r="0.9918141525508838" fill="#1212ff" opacity="0.43"/>
<circle cx="467.80" cy="420.62" r="0.8036257801822057" fill="#1212ff" opacity="0.48"/>
<circle cx="445.53" cy="416.66" r="1.0120736078666979" fill="#1212ff" opacity="0.48"/>
<circle cx="476.40" cy="410.08" r="1.0828584341489003" fill="#1212ff" opacity="0.89"/>
<circle cx="435.51" cy="409.45" r="0.7097892583772789" fill="#1212ff" opacity="0.50"/>
<circle cx="456.31" cy="382.51" r="0.7873080548977968" fill="#1212ff" opacity="0.58"/>
<circle cx="452.07" cy="419.82" r="0.9324900742387179" fill="#1212ff" opacity="0.68"/>
<circle cx="466.36" cy="380.07" r="1.0213221902439868" fill="#1212ff" opacity="0.78"/>
<circle cx="471.59" cy="394.33" r="0.916732038410299" fill="#1212ff" opacity="0.44"/>
<circle cx="452.02" cy="404.88" r="1.0799712853365273" fill="#1212ff" opacity="0.85"/>
<circle cx="445.46" cy="411.02" r="1.0424232313619042" fill="#1212ff" opacity="0.88"/>
<circle cx="464.23" cy="387.76" r="1.0494263654783043" fill="#1212ff" opacity="0.41"/>
<circle cx="458.01" cy="394.76" r="1.0531006093941055" fill="#1212ff" opacity="0.71"/>
<circle cx="437.83" cy="378.82" r="0.7144240318620872" fill="#1212ff" opacity="0.78"/>
<circle cx="469.88" cy="390.15" r="0.7894646318907471" fill="#1212ff" opacity="0.68"/>
<circle cx="437.55" cy="398.50" r="0.8374376691318728" fill="#1212ff" opacity="0.56"/>
<circle cx="464.81" cy="383.35" r="0.8325723532701366" fill="#1212ff" opacity="0.68"/>
<circle cx="478.60" cy="377.98" r="0.8225965194483595" fill="#1212ff" opacity="0.54"/>
<circle cx="444.12" cy="396.38" r="1.028113044013589" fill="#1212ff" opacity="0.49"/>
<circle cx="466.33" cy="393.34" r="0.9287897266972044" fill="#1212ff" opacity="0.65"/>
<circle cx="459.96" cy="379.58" r="0.9464208683798192" fill="#1212ff" opacity="0.60"/>
<circle cx="469.92" cy="402.27" r="0.8631729045745703" fill="#1212ff" opacity="0.89"/>
<circle cx="436.65" cy="370.55" r="0.749271272397714" fill="#1212ff" opacity="0.74"/>
<circle cx="431.85" cy="409.88" r="0.7353170633387862" fill="#1212ff" opacity="0.55"/>
<circle cx="461.02" cy="370.93" r="0.8731482658607345" fill="#1212ff" opacity="0.90"/>
<circle cx="466.83" cy="391.01" r="1.0633708973789044" fill="#1212ff" opacity="0.68"/>
<circle cx="471.40" cy="388.54" r="0.8526535906072611" fill="#1212ff" opacity="0.75"/>
<circle cx="468.65" cy="407.55" r="0.7601326097397814" fill="#1212ff" opacity="0.61"/>
<circle cx="444.30" cy="382.42" r="0.7465107044718741" fill="#1212ff" opacity="0.77"/>
<circle cx="434.58" cy="389.08" r="0.7075070213812401" fill="#1212ff" opacity="0.75"/>
<circle cx="461.19" cy="374.06" r="1.0800674042375529" fill="#1212ff" opacity="0.90"/>
<circle cx="468.05" cy="413.71" r="0.9814182162209001" fill="#1212ff" opacity="0.41"/>
<circle cx="441.82" cy="382.71" r="0.7086497847690357" fill="#1212ff" opacity="0.72"/>
<circle cx="459.32" cy="389.54" r="0.9993080454182388" fill="#1212ff" opacity="0.52"/>
<circle cx="442.24" cy="376.07" r="0.794089674389947" fill="#1212ff" opacity="0.83"/>
<circle cx="453.75" cy="409.95" r="1.0471245771373157" fill="#1212ff" opacity="0.73"/>
<circle cx="446.66" cy="422.52" r="0.7320375330075388" fill="#1212ff" opacity="0.61"/>
<circle cx="475.48" cy="406.98" r="0.8414610044660773" fill="#1212ff" opacity="0.81"/>
<circle cx="433.86" cy="379.60" r="0.806595942230456" fill="#1212ff"/>
<circle cx="432.46" cy="380.16" r="1.0360080026847387" fill="#1212ff"/>
<circle cx="429.11" cy="382.43" r="0.9880509851084684" fill="#1212ff"/>
<circle cx="434.36" cy="385.34" r="0.7785253955989909" fill="#1212ff"/>
<circle cx="432.39" cy="381.61" r="1.0991787489626128" fill="#1212ff"/>
<circle cx="431.77" cy="385.76" r="1.0343694796916032" fill="#1212ff"/>
<circle cx="431.83" cy="384.70" r="0.7931045243417022" fill="#1212ff"/>
<circle cx="460.28" cy="396.82" r="0.9846198374110775" fill="#1212ff"/>
<circle cx="460.62" cy="395.24" r="0.9595885041954108" fill="#1212ff"/>
<circle cx="459.37" cy="395.05" r="0.8782302936200654" fill="#1212ff"/>
<circle cx="463.75" cy="393.14" r="0.9646472487743664" fill="#1212ff"/>
<circle cx="459.77" cy="395.28" r="0.8708293178543877" fill="#1212ff"/>
<circle cx="460.87" cy="393.36" r="0.7277960757607354" fill="#1212ff"/>
<circle cx="461.92" cy="395.95" r="0.7196461186908668" fill="#1212ff"/>
<circle cx="460.57" cy="396.81" r="0.8825683212503594" fill="#1212ff"/>
<circle cx="473.24" cy="412.19" r="0.8788474920496379" fill="#1212ff"/>
<circle cx="472.41" cy="412.31" r="0.8966415613498673" fill="#1212ff"/>
<circle cx="472.86" cy="410.09" r="0.7054402465332298" fill="#1212ff"/>
<circle cx="468.79" cy="412.16" r="0.9527773189000487" fill="#1212ff"/>
<circle cx="469.25" cy="414.83" r="0.9715249694018046" fill="#1212ff"/>
<circle cx="474.55" cy="407.38" r="0.7155354162517389" fill="#1212ff"/>
<circle cx="474.00" cy="414.13" r="0.8564702464601233" fill="#1212ff"/>
<circle cx="473.42" cy="410.35" r="1.0751731753305414" fill="#1212ff"/>
<circle cx="471.30" cy="409.38" r="1.0318395259451982" fill="#1212ff"/>
<circle cx="435.64" cy="373.81" r="0.7737223463258553" fill="#1212ff"/>
<circle cx="438.04" cy="373.20" r="0.8200520678443963" fill="#1212ff"/>
<circle cx="438.10" cy="374.49" r="0.8188317682340702" fill="#1212ff"/>
<circle cx="459.96" cy="375.42" r="0.8387766301137551" fill="#1212ff"/>
<circle cx="460.02" cy="375.05" r="0.814554427824965" fill="#1212ff"/>
<circle cx="458.09" cy="377.28" r="0.8330452444310065" fill="#1212ff"/>
</g>
<g filter="url(#d2)" clip-path="url(#ci13)">
<circle cx="536.97" cy="421.50" r="1.0569733376194317" fill="#1212ff" opacity="0.44"/>
<circle cx="518.66" cy="392.89" r="0.9120352040472026" fill="#1212ff" opacity="0.47"/>
<circle cx="496.66" cy="394.03" r="0.7884156692628876" fill="#1212ff" opacity="0.63"/>
<circle cx="487.46" cy="374.47" r="0.9840032800979641" fill="#1212ff" opacity="0.61"/>
<circle cx="514.29" cy="409.81" r="0.8435985439144799" fill="#1212ff" opacity="0.43"/>
<circle cx="529.17" cy="401.91" r="0.9631650840399582" fill="#1212ff" opacity="0.71"/>
<circle cx="539.49" cy="389.57" r="1.0039146448974123" fill="#1212ff" opacity="0.58"/>
<circle cx="517.56" cy="405.80" r="0.8257564442544746" fill="#1212ff" opacity="0.44"/>
<circle cx="512.17" cy="408.93" r="0.9362438791736681" fill="#1212ff" opacity="0.62"/>
<circle cx="521.43" cy="379.72" r="0.7714159802603324" fill="#1212ff" opacity="0.56"/>
<circle cx="530.97" cy="380.46" r="0.7457204821179125" fill="#1212ff" opacity="0.45"/>
<circle cx="488.24" cy="384.82" r="0.9291287579553752" fill="#1212ff" opacity="0.81"/>
<circle cx="504.29" cy="389.95" r="0.8153937296335585" fill="#1212ff" opacity="0.55"/>
<circle cx="528.87" cy="399.72" r="0.8033674095557131" fill="#1212ff" opacity="0.45"/>
<circle cx="529.21" cy="408.34" r="1.031426130214376" fill="#1212ff" opacity="0.52"/>
<circle cx="516.10" cy="419.87" r="0.9370782944570425" fill="#1212ff" opacity="0.87"/>
<circle cx="495.30" cy="422.94" r="0.7223679233516785" fill="#1212ff" opacity="0.61"/>
<circle cx="487.38" cy="413.92" r="0.9748821437738417" fill="#1212ff" opacity="0.89"/>
<circle cx="530.37" cy="421.51" r="0.915438449217794" fill="#1212ff" opacity="0.89"/>
<circle cx="527.30" cy="388.66" r="1.0897564613468285" fill="#1212ff" opacity="0.59"/>
<circle cx="496.73" cy="373.94" r="0.8863831208594866" fill="#1212ff" opacity="0.50"/>
<circle cx="537.45" cy="421.60" r="0.7863804432501017" fill="#1212ff" opacity="0.45"/>
<circle cx="515.19" cy="379.05" r="0.9174593346058999" fill="#1212ff" opacity="0.81"/>
<circle cx="500.02" cy="392.79" r="1.0603480041378113" fill="#1212ff" opacity="0.62"/>
<circle cx="504.95" cy="418.43" r="1.025502378240485" fill="#1212ff" opacity="0.85"/>
<circle cx="523.93" cy="392.29" r="0.9772091774958773" fill="#1212ff" opacity="0.81"/>
<circle cx="521.27" cy="382.79" r="0.8181012702736505" fill="#1212ff" opacity="0.60"/>
<circle cx="528.54" cy="400.16" r="0.9199749977931859" fill="#1212ff" opacity="0.81"/>
<circle cx="492.06" cy="404.20" r="0.8330009220985557" fill="#1212ff" opacity="0.68"/>
<circle cx="532.04" cy="383.34" r="1.0806072135586158" fill="#1212ff" opacity="0.44"/>
<circle cx="517.01" cy="399.33" r="0.7940322365967201" fill="#1212ff" opacity="0.68"/>
<circle cx="511.99" cy="394.30" r="0.9873520769838049" fill="#1212ff" opacity="0.40"/>
<circle cx="506.84" cy="412.62" r="0.7567453376924351" fill="#1212ff" opacity="0.83"/>
<circle cx="497.30" cy="406.92" r="0.7692661722142015" fill="#1212ff" opacity="0.62"/>
<circle cx="509.34" cy="374.26" r="0.9798426636375874" fill="#1212ff" opacity="0.64"/>
<circle cx="524.00" cy="399.18" r="0.9223483359147515" fill="#1212ff" opacity="0.66"/>
<circle cx="502.48" cy="418.78" r="0.7345562434986149" fill="#1212ff" opacity="0.84"/>
<circle cx="533.59" cy="396.93" r="1.0107792914445766" fill="#1212ff" opacity="0.74"/>
<circle cx="519.38" cy="385.69" r="0.827859545968064" fill="#1212ff" opacity="0.57"/>
<circle cx="502.72" cy="422.10" r="0.8365107898725461" fill="#1212ff" opacity="0.59"/>
<circle cx="509.18" cy="414.30" r="0.8911035172817663" fill="#1212ff" opacity="0.68"/>
<circle cx="500.15" cy="384.95" r="0.7356352012873275" fill="#1212ff" opacity="0.51"/>
<circle cx="500.61" cy="416.25" r="0.9009879600138986" fill="#1212ff" opacity="0.46"/>
<circle cx="511.55" cy="376.39" r="0.9264107578089136" fill="#1212ff" opacity="0.62"/>
<circle cx="533.31" cy="383.93" r="1.040344804857108" fill="#1212ff" opacity="0.52"/>
<circle cx="540.14" cy="404.36" r="0.717071850320274" fill="#1212ff" opacity="0.80"/>
<circle cx="501.26" cy="389.54" r="0.7586334217250987" fill="#1212ff" opacity="0.82"/>
<circle cx="491.07" cy="410.04" r="0.8582900363529936" fill="#1212ff" opacity="0.74"/>
<circle cx="502.22" cy="374.07" r="1.066067974854733" fill="#1212ff" opacity="0.73"/>
<circle cx="495.43" cy="423.00" r="1.064727096991756" fill="#1212ff" opacity="0.49"/>
<circle cx="487.15" cy="403.10" r="0.7556606797343844" fill="#1212ff" opacity="0.77"/>
<circle cx="511.89" cy="408.44" r="0.9279165530053115" fill="#1212ff" opacity="0.79"/>
<circle cx="531.29" cy="402.66" r="0.9365592244339306" fill="#1212ff" opacity="0.56"/>
<circle cx="493.47" cy="374.84" r="1.0427775359578813" fill="#1212ff" opacity="0.50"/>
<circle cx="509.56" cy="387.06" r="0.9478558189346836" fill="#1212ff" opacity="0.67"/>
<circle cx="533.35" cy="393.56" r="0.8447622702468991" fill="#1212ff" opacity="0.73"/>
<circle cx="527.06" cy="420.24" r="0.8247322572961076" fill="#1212ff" opacity="0.84"/>
<circle cx="540.08" cy="423.34" r="0.7516780923503682" fill="#1212ff" opacity="0.59"/>
<circle cx="528.67" cy="415.09" r="0.7158062532292109" fill="#1212ff" opacity="0.60"/>
<circle cx="525.93" cy="411.13" r="0.9140367155128062" fill="#1212ff" opacity="0.51"/>
<circle cx="508.47" cy="372.99" r="0.8262728444812941" fill="#1212ff" opacity="0.61"/>
<circle cx="531.36" cy="401.92" r="0.8657462786631069" fill="#1212ff" opacity="0.52"/>
<circle cx="503.44" cy="406.36" r="0.8781834269120755" fill="#1212ff" opacity="0.49"/>
<circle cx="531.30" cy="401.17" r="1.0870076656827865" fill="#1212ff" opacity="0.67"/>
<circle cx="520.37" cy="393.11" r="0.943313399498762" fill="#1212ff" opacity="0.86"/>
<circle cx="540.07" cy="405.82" r="0.8720957278642919" fill="#1212ff" opacity="0.43"/>
<circle cx="532.31" cy="391.13" r="0.8529790975290206" fill="#1212ff" opacity="0.43"/>
<circle cx="487.98" cy="391.08" r="1.0898918179959607" fill="#1212ff" opacity="0.77"/>
<circle cx="525.08" cy="406.23" r="0.809149264452498" fill="#1212ff" opacity="0.48"/>
<circle cx="519.23" cy="373.26" r="0.9352306211340282" fill="#1212ff" opacity="0.66"/>
<circle cx="515.94" cy="376.41" r="0.7270398033365402" fill="#1212ff" opacity="0.64"/>
<circle cx="494.11" cy="404.76" r="0.8238143924396208" fill="#1212ff" opacity="0.71"/>
<circle cx="527.36" cy="402.85" r="0.9126332868502911" fill="#1212ff" opacity="0.50"/>
<circle cx="505.20" cy="423.10" r="0.807427688550142" fill="#1212ff" opacity="0.54"/>
<circle cx="513.23" cy="399.55" r="1.0162977532800674" fill="#1212ff" opacity="0.55"/>
<circle cx="539.06" cy="371.01" r="1.0161450107955672" fill="#1212ff" opacity="0.68"/>
<circle cx="535.66" cy="378.14" r="0.9756879919191555" fill="#1212ff" opacity="0.87"/>
<circle cx="522.79" cy="375.93" r="1.0683741519167447" fill="#1212ff" opacity="0.88"/>
<circle cx="492.19" cy="414.89" r="0.7317314738907786" fill="#1212ff" opacity="0.44"/>
<circle cx="529.85" cy="409.04" r="1.0828748760713036" fill="#1212ff" opacity="0.72"/>
<circle cx="514.24" cy="384.63" r="0.9291421783620445" fill="#1212ff" opacity="0.90"/>
<circle cx="521.67" cy="417.52" r="0.7789792714133995" fill="#1212ff" opacity="0.77"/>
<circle cx="526.35" cy="373.66" r="1.028079778348466" fill="#1212ff" opacity="0.49"/>
<circle cx="498.05" cy="373.14" r="0.9650680717753811" fill="#1212ff" opacity="0.47"/>
<circle cx="539.76" cy="369.80" r="1.023796109515911" fill="#1212ff" opacity="0.78"/>
<circle cx="517.41" cy="400.97" r="1.0191913010054794" fill="#1212ff" opacity="0.72"/>
<circle cx="493.77" cy="413.23" r="0.8415513445315681" fill="#1212ff" opacity="0.69"/>
<circle cx="514.28" cy="419.07" r="0.8657442838203206" fill="#1212ff" opacity="0.83"/>
<circle cx="490.60" cy="387.58" r="0.9682297310772583" fill="#1212ff" opacity="0.71"/>
<circle cx="531.88" cy="381.13" r="1.0216768736875865" fill="#1212ff" opacity="0.80"/>
<circle cx="493.96" cy="377.42" r="0.9333149721299551" fill="#1212ff" opacity="0.89"/>
<circle cx="519.86" cy="393.12" r="0.9027465051313917" fill="#1212ff" opacity="0.80"/>
<circle cx="514.83" cy="399.05" r="0.9373137700575954" fill="#1212ff" opacity="0.87"/>
<circle cx="530.12" cy="415.53" r="0.8064819802547216" fill="#1212ff" opacity="0.70"/>
<circle cx="531.37" cy="408.94" r="1.0807265366234706" fill="#1212ff" opacity="0.86"/>
<circle cx="493.12" cy="397.50" r="0.8431046189790765" fill="#1212ff" opacity="0.50"/>
<circle cx="513.64" cy="423.41" r="1.0073090339074344" fill="#1212ff" opacity="0.45"/>
<circle cx="499.73" cy="389.95" r="1.0540598017726655" fill="#1212ff" opacity="0.63"/>
<circle cx="494.87" cy="399.79" r="0.7988904933193881" fill="#1212ff" opacity="0.42"/>
<circle cx="518.70" cy="423.80" r="1.0103665087530025" fill="#1212ff" opacity="0.77"/>
<circle cx="494.49" cy="400.41" r="0.954770305846369" fill="#1212ff" opacity="0.78"/>
<circle cx="510.67" cy="372.71" r="1.0710829940140072" fill="#1212ff" opacity="0.53"/>
<circle cx="526.71" cy="395.10" r="1.0116781165404702" fill="#1212ff" opacity="0.57"/>
<circle cx="491.19" cy="393.13" r="0.8920068496158515" fill="#1212ff" opacity="0.80"/>
<circle cx="508.31" cy="406.12" r="0.8505238909764224" fill="#1212ff" opacity="0.77"/>
<circle cx="495.68" cy="417.76" r="1.0777562113637953" fill="#1212ff" opacity="0.41"/>
<circle cx="533.31" cy="412.20" r="0.9772017513114823" fill="#1212ff" opacity="0.45"/>
<circle cx="526.41" cy="411.86" r="0.9505110646764905" fill="#1212ff" opacity="0.88"/>
<circle cx="538.18" cy="404.33" r="1.0700088909259398" fill="#1212ff" opacity="0.47"/>
<circle cx="502.51" cy="398.68" r="0.9090706811644322" fill="#1212ff" opacity="0.88"/>
<circle cx="521.08" cy="403.66" r="0.9485081333882925" fill="#1212ff" opacity="0.87"/>
<circle cx="508.12" cy="410.10" r="0.9400623895787499" fill="#1212ff" opacity="0.60"/>
<circle cx="504.75" cy="378.18" r="0.7043627378096484" fill="#1212ff" opacity="0.57"/>
<circle cx="502.61" cy="374.23" r="0.894191487072963" fill="#1212ff" opacity="0.58"/>
<circle cx="537.03" cy="412.34" r="0.9660333655979482" fill="#1212ff" opacity="0.82"/>
<circle cx="501.21" cy="376.14" r="0.9438780653799974" fill="#1212ff" opacity="0.51"/>
<circle cx="540.28" cy="392.96" r="1.0544493372211705" fill="#1212ff" opacity="0.52"/>
<circle cx="491.26" cy="403.97" r="0.9771592326781056" fill="#1212ff" opacity="0.53"/>
<circle cx="537.07" cy="422.84" r="0.9749049042826303" fill="#1212ff" opacity="0.89"/>
<circle cx="540.17" cy="377.87" r="0.9921436528008011" fill="#1212ff" opacity="0.77"/>
<circle cx="526.35" cy="388.31" r="0.9173272079864773" fill="#1212ff" opacity="0.69"/>
<circle cx="532.85" cy="372.60" r="0.8500831928796999" fill="#1212ff" opacity="0.56"/>
<circle cx="529.64" cy="376.16" r="0.7246759299260822" fill="#1212ff" opacity="0.46"/>
<circle cx="492.48" cy="393.52" r="1.0462794069222345" fill="#1212ff" opacity="0.58"/>
<circle cx="491.66" cy="406.31" r="0.8330670723161369" fill="#1212ff" opacity="0.69"/>
<circle cx="527.22" cy="394.65" r="0.9933128565524172" fill="#1212ff" opacity="0.71"/>
<circle cx="532.95" cy="411.35" r="1.060480170246195" fill="#1212ff" opacity="0.77"/>
<circle cx="501.62" cy="397.30" r="1.0089095254377338" fill="#1212ff" opacity="0.79"/>
<circle cx="526.27" cy="415.75" r="1.0298243297848146" fill="#1212ff" opacity="0.67"/>
<circle cx="521.33" cy="372.19" r="0.8909815103214156" fill="#1212ff" opacity="0.76"/>
<circle cx="536.34" cy="416.03" r="0.8757214658835025" fill="#1212ff" opacity="0.51"/>
<circle cx="534.81" cy="405.62" r="0.776636262846037" fill="#1212ff" opacity="0.42"/>
<circle cx="534.39" cy="401.23" r="0.7437878528479515" fill="#1212ff" opacity="0.89"/>
<circle cx="518.40" cy="411.15" r="1.0225643762033347" fill="#1212ff" opacity="0.53"/>
<circle cx="514.83" cy="379.18" r="0.9449723928913285" fill="#1212ff" opacity="0.62"/>
<circle cx="529.55" cy="376.11" r="0.7822147486717208" fill="#1212ff" opacity="0.59"/>
<circle cx="486.19" cy="391.96" r="1.0850264779810432" fill="#1212ff" opacity="0.83"/>
<circle cx="496.00" cy="415.13" r="0.7900374508431561" fill="#1212ff" opacity="0.52"/>
<circle cx="521.17" cy="385.83" r="0.7805046362122803" fill="#1212ff" opacity="0.44"/>
<circle cx="495.82" cy="380.29" r="1.0647483526740171" fill="#1212ff" opacity="0.42"/>
<circle cx="515.81" cy="381.37" r="0.9881111741662854" fill="#1212ff" opacity="0.40"/>
<circle cx="506.53" cy="410.00" r="0.7103612527711449" fill="#1212ff" opacity="0.61"/>
<circle cx="504.03" cy="396.19" r="0.9514634691646298" fill="#1212ff" opacity="0.44"/>
<circle cx="533.73" cy="384.52" r="1.0088260200791075" fill="#1212ff" opacity="0.47"/>
<circle cx="491.26" cy="380.36" r="0.7335479646895433" fill="#1212ff" opacity="0.52"/>
<circle cx="493.78" cy="374.51" r="1.0407460047014" fill="#1212ff" opacity="0.66"/>
<circle cx="513.41" cy="397.50" r="1.0242111349105303" fill="#1212ff" opacity="0.42"/>
<circle cx="488.59" cy="406.11" r="0.702807934047843" fill="#1212ff" opacity="0.65"/>
<circle cx="520.47" cy="416.10" r="0.7002665179094889" fill="#1212ff" opacity="0.60"/>
<circle cx="503.31" cy="401.42" r="0.7132069299577171" fill="#1212ff" opacity="0.78"/>
<circle cx="538.73" cy="399.70" r="0.9664867786322221" fill="#1212ff" opacity="0.82"/>
<circle cx="532.51" cy="414.46" r="0.8948940496602552" fill="#1212ff" opacity="0.44"/>
<circle cx="529.79" cy="415.78" r="0.9803754980150081" fill="#1212ff" opacity="0.56"/>
<circle cx="539.72" cy="403.74" r="0.8249602088133862" fill="#1212ff" opacity="0.79"/>
<circle cx="498.43" cy="382.92" r="1.0620989234279894" fill="#1212ff" opacity="0.43"/>
<circle cx="533.94" cy="391.42" r="0.9288089465370339" fill="#1212ff" opacity="0.75"/>
<circle cx="535.74" cy="381.78" r="0.7371748623197973" fill="#1212ff" opacity="0.66"/>
<circle cx="498.43" cy="392.92" r="0.7440933005266266" fill="#1212ff" opacity="0.45"/>
<circle cx="517.31" cy="372.62" r="0.8066407116528759" fill="#1212ff" opacity="0.59"/>
<circle cx="491.32" cy="413.70" r="1.0606250501454848" fill="#1212ff" opacity="0.42"/>
<circle cx="530.48" cy="379.39" r="0.9918141525508838" fill="#1212ff" opacity="0.43"/>
<circle cx="527.10" cy="420.62" r="0.8036257801822057" fill="#1212ff" opacity="0.48"/>
<circle cx="504.83" cy="416.66" r="1.0120736078666979" fill="#1212ff" opacity="0.48"/>
<circle cx="535.70" cy="410.08" r="1.0828584341489003" fill="#1212ff" opacity="0.89"/>
<circle cx="494.81" cy="409.45" r="0.7097892583772789" fill="#1212ff" opacity="0.50"/>
<circle cx="515.61" cy="382.51" r="0.7873080548977968" fill="#1212ff" opacity="0.58"/>
<circle cx="511.37" cy="419.82" r="0.9324900742387179" fill="#1212ff" opacity="0.68"/>
<circle cx="525.66" cy="380.07" r="1.0213221902439868" fill="#1212ff" opacity="0.78"/>
<circle cx="530.89" cy="394.33" r="0.916732038410299" fill="#1212ff" opacity="0.44"/>
<circle cx="511.32" cy="404.88" r="1.0799712853365273" fill="#1212ff" opacity="0.85"/>
<circle cx="504.76" cy="411.02" r="1.0424232313619042" fill="#1212ff" opacity="0.88"/>
<circle cx="523.53" cy="387.76" r="1.0494263654783043" fill="#1212ff" opacity="0.41"/>
<circle cx="517.31" cy="394.76" r="1.0531006093941055" fill="#1212ff" opacity="0.71"/>
<circle cx="497.13" cy="378.82" r="0.7144240318620872" fill="#1212ff" opacity="0.78"/>
<circle cx="529.18" cy="390.15" r="0.7894646318907471" fill="#1212ff" opacity="0.68"/>
<circle cx="496.85" cy="398.50" r="0.8374376691318728" fill="#1212ff" opacity="0.56"/>
<circle cx="524.11" cy="383.35" r="0.8325723532701366" fill="#1212ff" opacity="0.68"/>
<circle cx="537.90" cy="377.98" r="0.8225965194483595" fill="#1212ff" opacity="0.54"/>
<circle cx="503.42" cy="396.38" r="1.028113044013589" fill="#1212ff" opacity="0.49"/>
<circle cx="525.63" cy="393.34" r="0.9287897266972044" fill="#1212ff" opacity="0.65"/>
<circle cx="519.26" cy="379.58" r="0.9464208683798192" fill="#1212ff" opacity="0.60"/>
<circle cx="529.22" cy="402.27" r="0.8631729045745703" fill="#1212ff" opacity="0.89"/>
<circle cx="495.95" cy="370.55" r="0.749271272397714" fill="#1212ff" opacity="0.74"/>
<circle cx="491.15" cy="409.88" r="0.7353170633387862" fill="#1212ff" opacity="0.55"/>
<circle cx="520.32" cy="370.93" r="0.8731482658607345" fill="#1212ff" opacity="0.90"/>
<circle cx="526.13" cy="391.01" r="1.0633708973789044" fill="#1212ff" opacity="0.68"/>
<circle cx="530.70" cy="388.54" r="0.8526535906072611" fill="#1212ff" opacity="0.75"/>
<circle cx="527.95" cy="407.55" r="0.7601326097397814" fill="#1212ff" opacity="0.61"/>
<circle cx="503.60" cy="382.42" r="0.7465107044718741" fill="#1212ff" opacity="0.77"/>
<circle cx="493.88" cy="389.08" r="0.7075070213812401" fill="#1212ff" opacity="0.75"/>
<circle cx="520.49" cy="374.06" r="1.0800674042375529" fill="#1212ff" opacity="0.90"/>
<circle cx="527.35" cy="413.71" r="0.9814182162209001" fill="#1212ff" opacity="0.41"/>
<circle cx="501.12" cy="382.71" r="0.7086497847690357" fill="#1212ff" opacity="0.72"/>
<circle cx="518.62" cy="389.54" r="0.9993080454182388" fill="#1212ff" opacity="0.52"/>
<circle cx="501.54" cy="376.07" r="0.794089674389947" fill="#1212ff" opacity="0.83"/>
<circle cx="513.05" cy="409.95" r="1.0471245771373157" fill="#1212ff" opacity="0.73"/>
<circle cx="505.96" cy="422.52" r="0.7320375330075388" fill="#1212ff" opacity="0.61"/>
<circle cx="534.78" cy="406.98" r="0.8414610044660773" fill="#1212ff" opacity="0.81"/>
<circle cx="493.16" cy="379.60" r="0.806595942230456" fill="#1212ff"/>
<circle cx="491.76" cy="380.16" r="1.0360080026847387" fill="#1212ff"/>
<circle cx="488.41" cy="382.43" r="0.9880509851084684" fill="#1212ff"/>
<circle cx="493.66" cy="385.34" r="0.7785253955989909" fill="#1212ff"/>
<circle cx="491.69" cy="381.61" r="1.0991787489626128" fill="#1212ff"/>
<circle cx="491.07" cy="385.76" r="1.0343694796916032" fill="#1212ff"/>
<circle cx="491.13" cy="384.70" r="0.7931045243417022" fill="#1212ff"/>
<circle cx="519.58" cy="396.82" r="0.9846198374110775" fill="#1212ff"/>
<circle cx="519.92" cy="395.24" r="0.9595885041954108" fill="#1212ff"/>
<circle cx="518.67" cy="395.05" r="0.8782302936200654" fill="#1212ff"/>
<circle cx="523.05" cy="393.14" r="0.9646472487743664" fill="#1212ff"/>
<circle cx="519.07" cy="395.28" r="0.8708293178543877" fill="#1212ff"/>
<circle cx="520.17" cy="393.36" r="0.7277960757607354" fill="#1212ff"/>
<circle cx="521.22" cy="395.95" r="0.7196461186908668" fill="#1212ff"/>
<circle cx="519.87" cy="396.81" r="0.8825683212503594" fill="#1212ff"/>
<circle cx="532.54" cy="412.19" r="0.8788474920496379" fill="#1212ff"/>
<circle cx="531.71" cy="412.31" r="0.8966415613498673" fill="#1212ff"/>
<circle cx="532.16" cy="410.09" r="0.7054402465332298" fill="#1212ff"/>
<circle cx="528.09" cy="412.16" r="0.9527773189000487" fill="#1212ff"/>
<circle cx="528.55" cy="414.83" r="0.9715249694018046" fill="#1212ff"/>
<circle cx="533.85" cy="407.38" r="0.7155354162517389" fill="#1212ff"/>
<circle cx="533.30" cy="414.13" r="0.8564702464601233" fill="#1212ff"/>
<circle cx="532.72" cy="410.35" r="1.0751731753305414" fill="#1212ff"/>
<circle cx="530.60" cy="409.38" r="1.0318395259451982" fill="#1212ff"/>
<circle cx="494.94" cy="373.81" r="0.7737223463258553" fill="#1212ff"/>
<circle cx="497.34" cy="373.20" r="0.8200520678443963" fill="#1212ff"/>
<circle cx="497.40" cy="374.49" r="0.8188317682340702" fill="#1212ff"/>
<circle cx="519.26" cy="375.42" r="0.8387766301137551" fill="#1212ff"/>
<circle cx="519.32" cy="375.05" r="0.814554427824965" fill="#1212ff"/>
<circle cx="517.39" cy="377.28" r="0.8330452444310065" fill="#1212ff"/>
</g>
<g filter="url(#d3)" clip-path="url(#ci13)">
<ellipse cx="492.3" cy="381.1" rx="1.1" ry="2.0" fill="#ff2cff" opacity="1" transform="rotate(25 492.3 381.1)"/>
<ellipse cx="517.2" cy="380.3" rx="1.2" ry="1.7" fill="#ff2cff" opacity="1" transform="rotate(30 517.2 380.3)"/>
<ellipse cx="539.1" cy="372.4" rx="0.8" ry="0.8" fill="#ff2cff" opacity="0.9" transform="rotate(0 539.1 372.4)"/>
<ellipse cx="526.4" cy="381.1" rx="0.5" ry="0.5" fill="#ff2cff" opacity="0.4" transform="rotate(0 526.4 381.1)"/>
<ellipse cx="503.1" cy="391.8" rx="0.6" ry="0.6" fill="#ff2cff" opacity="0.4" transform="rotate(0 503.1 391.8)"/>
<ellipse cx="498.3" cy="396.9" rx="1.0" ry="1.0" fill="#ff2cff" opacity="0.9" transform="rotate(0 498.3 396.9)"/>
<ellipse cx="500.3" cy="396.2" rx="0.6" ry="0.6" fill="#ff2cff" opacity="0.7" transform="rotate(0 500.3 396.2)"/>
<ellipse cx="517.7" cy="393.9" rx="2.3" ry="1.0" fill="#ff2cff" opacity="1" transform="rotate(50 517.7 393.9)"/>
<ellipse cx="521.8" cy="396.0" rx="1.0" ry="0.8" fill="#ff2cff" opacity="0.9" transform="rotate(0 521.8 396.0)"/>
<ellipse cx="528.3" cy="396.9" rx="2.3" ry="1.1" fill="#ff2cff" opacity="1" transform="rotate(12 528.3 396.9)"/>
<ellipse cx="539.8" cy="400.1" rx="0.7" ry="0.7" fill="#ff2cff" opacity="0.5" transform="rotate(0 539.8 400.1)"/>
<ellipse cx="537.8" cy="402.6" rx="0.6" ry="0.6" fill="#ff2cff" opacity="0.4" transform="rotate(0 537.8 402.6)"/>
<ellipse cx="525.0" cy="405.2" rx="0.6" ry="0.6" fill="#ff2cff" opacity="0.7" transform="rotate(0 525.0 405.2)"/>
<ellipse cx="532.2" cy="406.8" rx="1.0" ry="1.0" fill="#ff2cff" opacity="0.9" transform="rotate(0 532.2 406.8)"/>
<ellipse cx="492.7" cy="408.2" rx="1.6" ry="2.6" fill="#ff2cff" opacity="1" transform="rotate(30 492.7 408.2)"/>
<ellipse cx="505.9" cy="411.9" rx="1.2" ry="1.2" fill="#ff2cff" opacity="1" transform="rotate(0 505.9 411.9)"/>
<ellipse cx="506.6" cy="404.5" rx="0.5" ry="0.5" fill="#ff2cff" opacity="0.4" transform="rotate(0 506.6 404.5)"/>
<ellipse cx="530.5" cy="413.7" rx="2.6" ry="3.4" fill="#ff2cff" opacity="1" transform="rotate(25 530.5 413.7)"/>
<ellipse cx="536.8" cy="420.2" rx="0.6" ry="0.6" fill="#ff2cff" opacity="0.7" transform="rotate(0 536.8 420.2)"/>
<ellipse cx="504.2" cy="423.4" rx="0.5" ry="0.5" fill="#ff2cff" opacity="0.6" transform="rotate(0 504.2 423.4)"/>
<ellipse cx="518.4" cy="423.0" rx="0.5" ry="0.5" fill="#ff2cff" opacity="0.6" transform="rotate(0 518.4 423.0)"/>
<ellipse cx="489.3" cy="424.3" rx="0.4" ry="0.4" fill="#ff2cff" opacity="0.5" transform="rotate(0 489.3 424.3)"/>
</g>
<g filter="url(#d1)" clip-path="url(#ci13)">
<ellipse cx="503.4" cy="382.1" rx="0.9" ry="0.9" fill="#20e0a0" opacity="0.80"/>
<ellipse cx="492.0" cy="381.4" rx="0.9" ry="1.6" fill="#20e0a0" opacity="0.40"/>
<ellipse cx="496.6" cy="373.4" rx="0.6" ry="0.6" fill="#20e0a0" opacity="0.48"/>
<ellipse cx="511.4" cy="375.2" rx="0.6" ry="0.6" fill="#20e0a0" opacity="0.56"/>
<ellipse cx="520.4" cy="376.8" rx="0.7" ry="0.7" fill="#20e0a0" opacity="0.32"/>
<ellipse cx="537.5" cy="373.4" rx="0.6" ry="0.6" fill="#20e0a0" opacity="0.40"/>
<ellipse cx="531.5" cy="379.3" rx="0.5" ry="0.5" fill="#20e0a0" opacity="0.32"/>
<ellipse cx="503.1" cy="392.2" rx="0.7" ry="0.7" fill="#20e0a0" opacity="0.48"/>
<ellipse cx="500.6" cy="396.0" rx="0.7" ry="0.7" fill="#20e0a0" opacity="0.56"/>
<ellipse cx="511.4" cy="396.4" rx="0.7" ry="0.7" fill="#20e0a0" opacity="0.64"/>
<ellipse cx="518.1" cy="395.0" rx="0.8" ry="1.6" fill="#20e0a0" opacity="0.80"/>
<ellipse cx="526.0" cy="396.0" rx="1.0" ry="1.0" fill="#20e0a0" opacity="0.72"/>
<ellipse cx="523.2" cy="398.0" rx="0.6" ry="0.6" fill="#20e0a0" opacity="0.40"/>
<ellipse cx="539.6" cy="400.1" rx="0.6" ry="0.6" fill="#20e0a0" opacity="0.72"/>
<ellipse cx="519.7" cy="405.2" rx="0.8" ry="0.8" fill="#20e0a0" opacity="0.64"/>
<ellipse cx="516.7" cy="401.5" rx="0.6" ry="0.6" fill="#20e0a0" opacity="0.40"/>
<ellipse cx="505.6" cy="402.6" rx="0.6" ry="0.6" fill="#20e0a0" opacity="0.32"/>
<ellipse cx="506.3" cy="411.6" rx="1.2" ry="1.2" fill="#20e0a0" opacity="0.72"/>
<ellipse cx="531.8" cy="407.3" rx="0.8" ry="0.8" fill="#20e0a0" opacity="0.64"/>
<ellipse cx="532.9" cy="409.5" rx="1.0" ry="1.0" fill="#20e0a0" opacity="0.72"/>
<ellipse cx="535.4" cy="410.9" rx="1.0" ry="1.0" fill="#20e0a0" opacity="0.72"/>
<ellipse cx="531.2" cy="413.7" rx="1.6" ry="1.0" fill="#20e0a0" opacity="0.80"/>
<ellipse cx="520.4" cy="414.7" rx="1.0" ry="1.0" fill="#20e0a0" opacity="0.40"/>
<ellipse cx="513.2" cy="420.2" rx="0.7" ry="0.7" fill="#20e0a0" opacity="0.40"/>
<ellipse cx="504.5" cy="423.7" rx="0.6" ry="0.6" fill="#20e0a0" opacity="0.48"/>
<ellipse cx="522.2" cy="422.3" rx="0.6" ry="0.6" fill="#20e0a0" opacity="0.40"/>
<ellipse cx="530.1" cy="424.3" rx="0.8" ry="0.8" fill="#20e0a0" opacity="0.48"/>
<ellipse cx="488.6" cy="403.2" rx="0.5" ry="0.5" fill="#20e0a0" opacity="0.40"/>
<ellipse cx="497.6" cy="414.4" rx="0.5" ry="0.5" fill="#20e0a0" opacity="0.40"/>
<ellipse cx="540.5" cy="403.6" rx="0.5" ry="0.5" fill="#20e0a0" opacity="0.48"/>
<ellipse cx="495.2" cy="376.6" rx="0.5" ry="0.5" fill="#20e0a0" opacity="0.32"/>
<ellipse cx="526.7" cy="403.6" rx="0.5" ry="0.5" fill="#20e0a0" opacity="0.32"/>
<ellipse cx="532.6" cy="416.7" rx="0.5" ry="0.5" fill="#20e0a0" opacity="0.40"/>
</g>
<rect x="531.70" y="361.90" width="8.80" height="0.80" fill="#fff" stroke="none" stroke-width="1"/>
<rect x="532.30" y="420.10" width="8.20" height="0.80" fill="#fff" stroke="none" stroke-width="1"/>
<text x="536.10" y="361.00" font-size="2.7" text-anchor="middle" fill="#fff">100μm</text>
<text x="536.40" y="419.20" font-size="2.7" text-anchor="middle" fill="#fff">100μm</text>
<line x1="595.10" y1="301.80" x2="595.10" y2="408.30" stroke="#000" stroke-width="1.1"/>
<line x1="594.60" y1="407.80" x2="685.00" y2="407.80" stroke="#000" stroke-width="1.1"/>
<line x1="591.50" y1="302.30" x2="595.10" y2="302.30" stroke="#000" stroke-width="1.0"/>
<text x="590.00" y="305.90" font-size="10.0" text-anchor="end" fill="#000">20</text>
<line x1="591.50" y1="328.70" x2="595.10" y2="328.70" stroke="#000" stroke-width="1.0"/>
<text x="590.00" y="332.30" font-size="10.0" text-anchor="end" fill="#000">15</text>
<line x1="591.50" y1="355.00" x2="595.10" y2="355.00" stroke="#000" stroke-width="1.0"/>
<text x="590.00" y="358.60" font-size="10.0" text-anchor="end" fill="#000">10</text>
<line x1="591.50" y1="381.40" x2="595.10" y2="381.40" stroke="#000" stroke-width="1.0"/>
<text x="590.00" y="385.00" font-size="10.0" text-anchor="end" fill="#000">5</text>
<line x1="591.50" y1="407.80" x2="595.10" y2="407.80" stroke="#000" stroke-width="1.0"/>
<text x="590.00" y="411.40" font-size="10.0" text-anchor="end" fill="#000">0</text>
<text x="563.4" y="358.0" font-size="10" text-anchor="middle" transform="rotate(-90 563.4 358.0)">Pan Kla<tspan font-size="6" dy="-4.2">+</tspan><tspan dy="4.2">CD68</tspan><tspan font-size="6" dy="-4.2">+</tspan></text>
<text x="573.90" y="358.30" font-size="10.0" text-anchor="middle" fill="#000" transform="rotate(-90 573.90 358.30)">positive are (%)</text>
<rect x="608.40" y="373.60" width="24.50" height="34.20" fill="#d4d4d4" stroke="#000" stroke-width="1.1"/>
<rect x="646.60" y="333.40" width="24.50" height="74.40" fill="#33bbf7" stroke="#000" stroke-width="1.1"/>
<line x1="620.70" y1="371.60" x2="620.70" y2="375.70" stroke="#000" stroke-width="1.0"/>
<line x1="614.40" y1="371.60" x2="627.00" y2="371.60" stroke="#000" stroke-width="1.0"/>
<line x1="614.40" y1="375.70" x2="627.00" y2="375.70" stroke="#000" stroke-width="1.0"/>
<line x1="658.80" y1="330.70" x2="658.80" y2="336.20" stroke="#000" stroke-width="1.0"/>
<line x1="652.50" y1="330.70" x2="665.10" y2="330.70" stroke="#000" stroke-width="1.0"/>
<line x1="652.50" y1="336.20" x2="665.10" y2="336.20" stroke="#000" stroke-width="1.0"/>
<circle cx="620.60" cy="367.90" r="1.6" fill="#000"/>
<circle cx="619.00" cy="372.60" r="1.6" fill="#000"/>
<circle cx="622.70" cy="373.60" r="1.6" fill="#000"/>
<circle cx="619.60" cy="375.20" r="1.6" fill="#000"/>
<circle cx="620.60" cy="377.70" r="1.6" fill="#000"/>
<rect x="657.25" y="321.15" width="3.10" height="3.10" fill="#000" stroke="none" stroke-width="1"/>
<rect x="654.85" y="332.25" width="3.10" height="3.10" fill="#000" stroke="none" stroke-width="1"/>
<rect x="659.95" y="332.25" width="3.10" height="3.10" fill="#000" stroke="none" stroke-width="1"/>
<rect x="654.85" y="335.45" width="3.10" height="3.10" fill="#000" stroke="none" stroke-width="1"/>
<rect x="659.95" y="335.45" width="3.10" height="3.10" fill="#000" stroke="none" stroke-width="1"/>
<text x="616.80" y="310.00" font-size="9.65" fill="#000"><tspan font-style="italic">P</tspan>=1.8x10<tspan font-size="5.8" dy="-3.1">-6</tspan></text>
<line x1="620.20" y1="312.90" x2="659.00" y2="312.90" stroke="#000" stroke-width="1.0"/>
<line x1="620.60" y1="407.80" x2="620.60" y2="412.20" stroke="#000" stroke-width="1.0"/>
<line x1="658.80" y1="407.80" x2="658.80" y2="412.20" stroke="#000" stroke-width="1.0"/>
<text x="611.60" y="422.70" font-size="10.5" text-anchor="middle" fill="#000">LPS(Sed)</text>
<text x="662.30" y="422.70" font-size="10.5" text-anchor="middle" fill="#000">LPS(Exe)</text>
</svg>
</body></html>
